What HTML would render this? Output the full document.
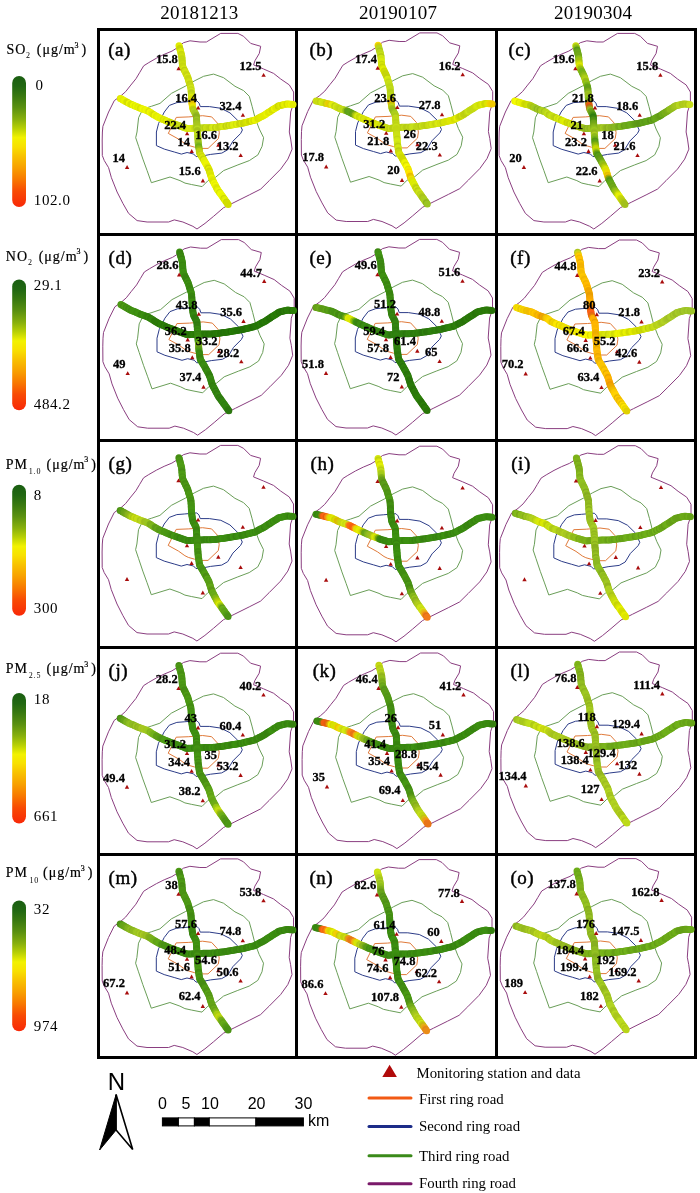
<!DOCTYPE html>
<html><head><meta charset="utf-8"><title>Figure</title><style>
html,body{margin:0;padding:0;background:#fff;overflow:hidden;width:700px;height:1193px;}
svg{display:block;}
text{font-family:"Liberation Serif","Times New Roman",serif;fill:#000;}
.lb{font-size:12.5px;font-weight:bold;text-anchor:end;stroke:#000;stroke-width:0.3px;}
.pl{font-size:19px;letter-spacing:0.5px;stroke:#000;stroke-width:0.45px;}
.dt{font-size:19px;letter-spacing:0.3px;}
.lg{font-size:15px;letter-spacing:0.6px;}
.tt{font-size:14px;letter-spacing:1px;stroke:#000;stroke-width:0.2px;}
.sb{font-size:8px;letter-spacing:0.8px;}
.sp{font-size:8px;}
.na{font-family:"Liberation Sans",Arial,sans-serif;font-size:24px;}
.sc{font-family:"Liberation Sans",Arial,sans-serif;font-size:16px;}
.le{font-size:14.8px;}
</style></head><body>
<svg width="700" height="1193" viewBox="0 0 700 1193">
<rect x="97" y="28" width="3" height="1031" fill="#000"/>
<rect x="295" y="28" width="3" height="1031" fill="#000"/>
<rect x="495" y="28" width="3" height="1031" fill="#000"/>
<rect x="694" y="28" width="3" height="1031" fill="#000"/>
<rect x="97" y="28" width="600" height="3" fill="#000"/>
<rect x="97" y="233" width="600" height="3" fill="#000"/>
<rect x="97" y="439" width="600" height="3" fill="#000"/>
<rect x="97" y="646" width="600" height="3" fill="#000"/>
<rect x="97" y="853" width="600" height="3" fill="#000"/>
<rect x="97" y="1056" width="600" height="3" fill="#000"/>
<g>
<polygon points="177.1,47.9 183.5,42.7 190.0,40.8 200.0,42.0 206.4,42.0 220.7,33.4 237.9,33.4 243.6,36.3 250.7,43.4 260.7,46.3 259.3,53.4 255.0,60.6 253.6,64.9 263.6,69.0 273.6,73.4 280.7,79.0 289.3,84.9 293.6,92.0 293.6,103.4 290.7,112.0 289.3,132.0 290.7,139.1 292.1,149.1 287.9,159.1 280.7,169.1 269.3,180.6 260.7,189.1 249.3,194.9 235.0,202.0 223.6,207.7 213.6,216.3 205.0,223.4 197.0,229.0 192.9,226.3 182.9,222.0 174.3,219.9 168.6,222.0 147.1,222.0 137.1,220.6 128.6,213.4 122.9,203.4 117.1,192.0 111.4,177.7 108.6,167.7 104.3,160.6 102.3,155.5 102.2,140.0 102.4,132.0 102.9,126.3 108.6,112.0 114.3,100.6 120.6,96.1 125.7,91.6 130.8,85.1 136.0,78.7 139.8,72.3 143.7,65.8 148.8,62.6 156.6,58.1 164.3,54.3 172.0,51.1" fill="none" stroke="#8a3e80" stroke-width="1"/>
<polygon points="213.6,74.1 223.6,77.7 235.0,86.3 243.6,90.6 249.3,96.3 252.1,106.3 255.0,117.7 259.3,129.0 263.6,137.7 262.1,146.3 257.9,154.9 249.3,160.6 237.9,164.9 223.6,170.6 215.8,177.1 208.1,180.6 202.1,186.6 191.4,184.5 185.0,183.1 180.0,180.6 170.0,177.0 151.4,182.7 147.1,170.6 142.9,159.1 138.6,146.3 135.7,137.7 137.0,132.0 138.6,117.7 142.9,109.0 151.4,106.3 160.0,103.4 171.4,93.4 185.7,86.0 195.0,80.6 203.6,76.3" fill="none" stroke="#6a9e58" stroke-width="1"/>
<polygon points="169.4,105.4 176.9,102.6 184.3,102.0 196.9,100.9 199.1,103.1 200.3,106.6 209.4,106.6 220.9,108.3 230.0,112.9 237.9,120.6 242.4,130.0 240.7,133.4 233.0,141.1 227.8,149.7 221.8,153.1 210.7,154.4 203.9,155.7 196.1,156.6 193.6,154.0 187.1,152.5 181.4,154.1 174.3,152.0 164.3,149.1 156.4,145.6 156.4,132.0 158.6,123.4 164.3,112.0" fill="none" stroke="#2c3c88" stroke-width="1"/>
<polygon points="176.3,117.4 188.9,116.9 202.6,115.7 211.7,116.9 217.4,123.1 219.3,132.6 218.4,138.6 208.1,148.4 201.3,148.4 194.4,147.1 188.4,145.4 185.0,143.7 178.6,139.1 168.3,133.4 172.9,124.3" fill="none" stroke="#e07a3a" stroke-width="1"/>
<circle cx="120.3" cy="98.4" r="3.5" fill="#dfe700"/>
<circle cx="121.6" cy="99.1" r="3.5" fill="#e8f100"/>
<circle cx="122.9" cy="99.9" r="3.5" fill="#e2eb00"/>
<circle cx="124.2" cy="100.6" r="3.5" fill="#e9f200"/>
<circle cx="125.5" cy="101.4" r="3.5" fill="#e9f300"/>
<circle cx="126.8" cy="102.1" r="3.5" fill="#d6e000"/>
<circle cx="128.1" cy="102.8" r="3.5" fill="#d4de00"/>
<circle cx="129.4" cy="103.6" r="3.5" fill="#eef800"/>
<circle cx="130.8" cy="104.2" r="3.5" fill="#dae500"/>
<circle cx="132.2" cy="104.8" r="3.5" fill="#d9e400"/>
<circle cx="133.6" cy="105.3" r="3.5" fill="#f1fc00"/>
<circle cx="134.9" cy="105.9" r="3.5" fill="#dfeb00"/>
<circle cx="136.3" cy="106.5" r="3.5" fill="#ecf700"/>
<circle cx="137.7" cy="107.1" r="3.5" fill="#e0ec00"/>
<circle cx="139.1" cy="107.7" r="3.5" fill="#e6f200"/>
<circle cx="140.5" cy="108.2" r="3.5" fill="#d8e100"/>
<circle cx="141.9" cy="108.7" r="3.5" fill="#e8f200"/>
<circle cx="143.3" cy="109.2" r="3.5" fill="#f0fa00"/>
<circle cx="144.7" cy="109.7" r="3.5" fill="#e6f000"/>
<circle cx="146.2" cy="110.2" r="3.5" fill="#eef700"/>
<circle cx="147.5" cy="110.7" r="3.5" fill="#edf500"/>
<circle cx="148.8" cy="111.5" r="3.5" fill="#d9e100"/>
<circle cx="150.1" cy="112.3" r="3.5" fill="#f0f900"/>
<circle cx="151.3" cy="113.1" r="3.5" fill="#eaf200"/>
<circle cx="152.6" cy="113.9" r="3.5" fill="#dfe700"/>
<circle cx="153.9" cy="114.7" r="3.5" fill="#d5dd00"/>
<circle cx="155.2" cy="115.5" r="3.5" fill="#eef800"/>
<circle cx="156.5" cy="116.2" r="3.5" fill="#e0ea00"/>
<circle cx="157.8" cy="117.0" r="3.5" fill="#e7f100"/>
<circle cx="159.1" cy="117.7" r="3.5" fill="#eaf500"/>
<circle cx="160.5" cy="118.3" r="3.5" fill="#e4ef00"/>
<circle cx="161.8" cy="118.9" r="3.5" fill="#e8f500"/>
<circle cx="163.2" cy="119.5" r="3.5" fill="#d7e200"/>
<circle cx="164.6" cy="120.1" r="3.5" fill="#e1ee00"/>
<circle cx="166.0" cy="120.7" r="3.5" fill="#d5e101"/>
<circle cx="167.3" cy="121.3" r="3.5" fill="#e3f102"/>
<circle cx="168.7" cy="121.8" r="3.5" fill="#dfee04"/>
<circle cx="170.1" cy="122.4" r="3.5" fill="#c7d405"/>
<circle cx="171.5" cy="122.9" r="3.5" fill="#c6d607"/>
<circle cx="173.0" cy="123.4" r="3.5" fill="#c8d708"/>
<circle cx="174.4" cy="123.9" r="3.5" fill="#dbee0b"/>
<circle cx="175.8" cy="124.4" r="3.5" fill="#cbdc0b"/>
<circle cx="177.2" cy="125.0" r="3.5" fill="#cfe20d"/>
<circle cx="178.6" cy="125.5" r="3.5" fill="#c4d70e"/>
<circle cx="180.0" cy="126.0" r="3.5" fill="#c8dc10"/>
<circle cx="181.4" cy="126.5" r="3.5" fill="#c6d910"/>
<circle cx="182.8" cy="127.0" r="3.5" fill="#c6d810"/>
<circle cx="184.2" cy="127.5" r="3.5" fill="#cde110"/>
<circle cx="185.6" cy="128.1" r="3.5" fill="#cee110"/>
<circle cx="187.0" cy="128.6" r="3.5" fill="#daec11"/>
<circle cx="188.5" cy="128.5" r="3.5" fill="#d4e510"/>
<circle cx="190.0" cy="128.4" r="3.5" fill="#dced11"/>
<circle cx="191.5" cy="128.4" r="3.5" fill="#d6e912"/>
<circle cx="193.0" cy="128.3" r="3.5" fill="#d7eb13"/>
<circle cx="194.5" cy="128.2" r="3.5" fill="#cae014"/>
<circle cx="196.0" cy="128.1" r="3.5" fill="#b9cf14"/>
<circle cx="197.5" cy="128.0" r="3.5" fill="#c8e217"/>
<circle cx="199.0" cy="128.0" r="3.5" fill="#c6e318"/>
<circle cx="200.5" cy="127.9" r="3.5" fill="#c3e019"/>
<circle cx="202.0" cy="127.9" r="3.5" fill="#bdd816"/>
<circle cx="203.5" cy="127.8" r="3.5" fill="#c4dd16"/>
<circle cx="205.0" cy="127.8" r="3.5" fill="#b8cf13"/>
<circle cx="206.5" cy="127.8" r="3.5" fill="#cbe314"/>
<circle cx="208.0" cy="127.7" r="3.5" fill="#c7dc12"/>
<circle cx="209.5" cy="127.7" r="3.5" fill="#c1d510"/>
<circle cx="211.0" cy="127.7" r="3.5" fill="#bccf0f"/>
<circle cx="212.5" cy="127.6" r="3.5" fill="#d3e711"/>
<circle cx="214.0" cy="127.5" r="3.5" fill="#d8ec11"/>
<circle cx="215.5" cy="127.4" r="3.5" fill="#bed00f"/>
<circle cx="217.0" cy="127.2" r="3.5" fill="#d4e611"/>
<circle cx="218.4" cy="127.0" r="3.5" fill="#c8db10"/>
<circle cx="219.9" cy="126.8" r="3.5" fill="#c2d30f"/>
<circle cx="221.4" cy="126.6" r="3.5" fill="#c7d810"/>
<circle cx="222.9" cy="126.4" r="3.5" fill="#d5e711"/>
<circle cx="224.4" cy="126.2" r="3.5" fill="#d9eb11"/>
<circle cx="225.9" cy="126.0" r="3.5" fill="#c1d10f"/>
<circle cx="227.4" cy="125.8" r="3.5" fill="#d2e310"/>
<circle cx="228.8" cy="125.5" r="3.5" fill="#c3d20f"/>
<circle cx="230.3" cy="125.3" r="3.5" fill="#d6e710"/>
<circle cx="231.8" cy="125.0" r="3.5" fill="#ccdb0f"/>
<circle cx="233.3" cy="124.8" r="3.5" fill="#dced0e"/>
<circle cx="234.8" cy="124.6" r="3.5" fill="#e0f00d"/>
<circle cx="236.2" cy="124.3" r="3.5" fill="#d2e10b"/>
<circle cx="237.7" cy="124.1" r="3.5" fill="#e2f20b"/>
<circle cx="239.2" cy="123.8" r="3.5" fill="#cedc09"/>
<circle cx="240.7" cy="123.6" r="3.5" fill="#c7d507"/>
<circle cx="242.1" cy="123.3" r="3.5" fill="#d8e506"/>
<circle cx="243.6" cy="122.9" r="3.5" fill="#c7d405"/>
<circle cx="245.0" cy="122.5" r="3.5" fill="#cdd904"/>
<circle cx="246.5" cy="122.2" r="3.5" fill="#d4e003"/>
<circle cx="248.0" cy="121.8" r="3.5" fill="#dae802"/>
<circle cx="249.4" cy="121.5" r="3.5" fill="#ced900"/>
<circle cx="250.9" cy="121.1" r="3.5" fill="#cad500"/>
<circle cx="252.3" cy="120.8" r="3.5" fill="#e4f100"/>
<circle cx="253.8" cy="120.4" r="3.5" fill="#d4df00"/>
<circle cx="255.2" cy="119.9" r="3.5" fill="#e9f400"/>
<circle cx="256.5" cy="119.2" r="3.5" fill="#e7f300"/>
<circle cx="257.8" cy="118.5" r="3.5" fill="#d8e200"/>
<circle cx="259.2" cy="117.8" r="3.5" fill="#dce500"/>
<circle cx="260.5" cy="117.1" r="3.5" fill="#dfe800"/>
<circle cx="261.8" cy="116.4" r="3.5" fill="#e2ec00"/>
<circle cx="263.2" cy="115.8" r="3.5" fill="#e2eb00"/>
<circle cx="264.5" cy="115.0" r="3.5" fill="#e2ea00"/>
<circle cx="265.7" cy="114.2" r="3.5" fill="#e4ec00"/>
<circle cx="267.0" cy="113.3" r="3.5" fill="#edf600"/>
<circle cx="268.2" cy="112.5" r="3.5" fill="#dfe800"/>
<circle cx="269.5" cy="111.7" r="3.5" fill="#dde500"/>
<circle cx="270.7" cy="110.9" r="3.5" fill="#e5ee00"/>
<circle cx="272.0" cy="110.1" r="3.5" fill="#d6df00"/>
<circle cx="273.3" cy="109.3" r="3.5" fill="#d8e100"/>
<circle cx="274.5" cy="108.5" r="3.5" fill="#ecf600"/>
<circle cx="275.8" cy="107.7" r="3.5" fill="#dee800"/>
<circle cx="277.1" cy="106.9" r="3.5" fill="#dee800"/>
<circle cx="278.3" cy="106.0" r="3.5" fill="#cdd600"/>
<circle cx="279.7" cy="105.6" r="3.5" fill="#d9e300"/>
<circle cx="281.2" cy="105.2" r="3.5" fill="#dfea00"/>
<circle cx="282.6" cy="104.9" r="3.5" fill="#cfd800"/>
<circle cx="284.1" cy="104.5" r="3.5" fill="#e4ed00"/>
<circle cx="285.6" cy="104.2" r="3.5" fill="#e5ee00"/>
<circle cx="287.0" cy="103.9" r="3.5" fill="#d4dd00"/>
<circle cx="288.5" cy="104.0" r="3.5" fill="#e8f100"/>
<circle cx="290.0" cy="104.2" r="3.5" fill="#e4ed00"/>
<circle cx="291.5" cy="104.3" r="3.5" fill="#edf500"/>
<circle cx="293.0" cy="104.4" r="3.5" fill="#e3eb00"/>
<circle cx="179.0" cy="45.7" r="3.5" fill="#deeb00"/>
<circle cx="179.4" cy="47.1" r="3.5" fill="#deeb01"/>
<circle cx="179.8" cy="48.6" r="3.5" fill="#c7d403"/>
<circle cx="180.2" cy="50.0" r="3.5" fill="#c6d405"/>
<circle cx="180.6" cy="51.4" r="3.5" fill="#d7e706"/>
<circle cx="181.0" cy="52.9" r="3.5" fill="#ddef09"/>
<circle cx="181.3" cy="54.3" r="3.5" fill="#c7d70a"/>
<circle cx="181.7" cy="55.8" r="3.5" fill="#ccdd0b"/>
<circle cx="181.9" cy="57.2" r="3.5" fill="#cee10d"/>
<circle cx="182.0" cy="58.7" r="3.5" fill="#c4d70f"/>
<circle cx="182.1" cy="60.2" r="3.5" fill="#c4d810"/>
<circle cx="182.2" cy="61.7" r="3.5" fill="#c4d610"/>
<circle cx="182.3" cy="63.2" r="3.5" fill="#c5d910"/>
<circle cx="182.5" cy="64.7" r="3.5" fill="#cde010"/>
<circle cx="182.6" cy="66.1" r="3.5" fill="#c4d710"/>
<circle cx="183.1" cy="67.5" r="3.5" fill="#c8da10"/>
<circle cx="183.8" cy="68.9" r="3.5" fill="#d4e611"/>
<circle cx="184.4" cy="70.2" r="3.5" fill="#becf0f"/>
<circle cx="185.1" cy="71.5" r="3.5" fill="#cfe010"/>
<circle cx="185.7" cy="72.9" r="3.5" fill="#d4e611"/>
<circle cx="186.4" cy="74.2" r="3.5" fill="#c9d910"/>
<circle cx="187.0" cy="75.5" r="3.5" fill="#c6d60f"/>
<circle cx="187.6" cy="76.9" r="3.5" fill="#d8e811"/>
<circle cx="188.1" cy="78.3" r="3.5" fill="#c7d80f"/>
<circle cx="188.5" cy="79.7" r="3.5" fill="#c7d60f"/>
<circle cx="188.9" cy="81.2" r="3.5" fill="#cddd11"/>
<circle cx="189.4" cy="82.6" r="3.5" fill="#d3e511"/>
<circle cx="189.8" cy="84.0" r="3.5" fill="#c1d211"/>
<circle cx="190.3" cy="85.4" r="3.5" fill="#c5d713"/>
<circle cx="190.7" cy="86.9" r="3.5" fill="#c4d714"/>
<circle cx="191.0" cy="88.3" r="3.5" fill="#d0e615"/>
<circle cx="191.1" cy="89.8" r="3.5" fill="#c4d915"/>
<circle cx="191.2" cy="91.3" r="3.5" fill="#cee517"/>
<circle cx="191.3" cy="92.8" r="3.5" fill="#b9cf16"/>
<circle cx="191.4" cy="94.2" r="3.5" fill="#bdd317"/>
<circle cx="191.4" cy="95.7" r="3.5" fill="#c9df14"/>
<circle cx="191.5" cy="97.2" r="3.5" fill="#d9eb0e"/>
<circle cx="191.6" cy="98.7" r="3.5" fill="#d7e206"/>
<circle cx="191.7" cy="100.2" r="3.5" fill="#d8dd00"/>
<circle cx="191.8" cy="101.7" r="3.5" fill="#dbcc00"/>
<circle cx="192.0" cy="103.1" r="3.5" fill="#eeca00"/>
<circle cx="192.2" cy="104.6" r="3.5" fill="#e2bc00"/>
<circle cx="192.4" cy="106.1" r="3.5" fill="#edda00"/>
<circle cx="192.6" cy="107.6" r="3.5" fill="#e5e700"/>
<circle cx="193.0" cy="109.0" r="3.5" fill="#c3d008"/>
<circle cx="193.6" cy="110.3" r="3.5" fill="#b6cb12"/>
<circle cx="194.3" cy="111.6" r="3.5" fill="#b3d31e"/>
<circle cx="195.0" cy="113.0" r="3.5" fill="#a7c921"/>
<circle cx="195.7" cy="114.3" r="3.5" fill="#a6ca21"/>
<circle cx="196.3" cy="115.6" r="3.5" fill="#96ba1f"/>
<circle cx="196.4" cy="117.1" r="3.5" fill="#8cb01e"/>
<circle cx="196.5" cy="118.6" r="3.5" fill="#8eb41f"/>
<circle cx="196.6" cy="120.1" r="3.5" fill="#9dc521"/>
<circle cx="196.7" cy="121.6" r="3.5" fill="#97ba1f"/>
<circle cx="196.8" cy="123.1" r="3.5" fill="#9ec01f"/>
<circle cx="196.9" cy="124.6" r="3.5" fill="#a4c520"/>
<circle cx="197.0" cy="126.0" r="3.5" fill="#a8c71f"/>
<circle cx="197.1" cy="127.5" r="3.5" fill="#aac81e"/>
<circle cx="197.2" cy="129.0" r="3.5" fill="#b8d91f"/>
<circle cx="197.3" cy="130.5" r="3.5" fill="#a8c51b"/>
<circle cx="197.4" cy="132.0" r="3.5" fill="#a7c218"/>
<circle cx="197.5" cy="133.5" r="3.5" fill="#c1df1b"/>
<circle cx="197.6" cy="134.9" r="3.5" fill="#c2df19"/>
<circle cx="197.8" cy="136.4" r="3.5" fill="#c0df1b"/>
<circle cx="197.9" cy="137.9" r="3.5" fill="#adcc1b"/>
<circle cx="198.0" cy="139.4" r="3.5" fill="#b6d81e"/>
<circle cx="198.1" cy="140.9" r="3.5" fill="#b0d420"/>
<circle cx="198.2" cy="142.4" r="3.5" fill="#9cbd1e"/>
<circle cx="198.3" cy="143.9" r="3.5" fill="#9ac51f"/>
<circle cx="198.5" cy="145.3" r="3.5" fill="#87bc1c"/>
<circle cx="198.8" cy="146.8" r="3.5" fill="#6fad19"/>
<circle cx="199.0" cy="148.3" r="3.5" fill="#82b516"/>
<circle cx="199.2" cy="149.8" r="3.5" fill="#99bf13"/>
<circle cx="199.4" cy="151.2" r="3.5" fill="#b5cf11"/>
<circle cx="199.6" cy="152.7" r="3.5" fill="#c1d50e"/>
<circle cx="200.2" cy="154.0" r="3.5" fill="#c0d10d"/>
<circle cx="201.0" cy="155.3" r="3.5" fill="#d1e20c"/>
<circle cx="201.8" cy="156.6" r="3.5" fill="#cad90a"/>
<circle cx="202.6" cy="157.8" r="3.5" fill="#dceb09"/>
<circle cx="203.3" cy="159.1" r="3.5" fill="#c7d507"/>
<circle cx="204.1" cy="160.4" r="3.5" fill="#e3f106"/>
<circle cx="204.8" cy="161.7" r="3.5" fill="#e0eb04"/>
<circle cx="205.5" cy="163.0" r="3.5" fill="#e9f402"/>
<circle cx="206.2" cy="164.3" r="3.5" fill="#ebf401"/>
<circle cx="206.9" cy="165.6" r="3.5" fill="#edf500"/>
<circle cx="207.6" cy="166.9" r="3.5" fill="#e0e900"/>
<circle cx="208.3" cy="168.2" r="3.5" fill="#ced700"/>
<circle cx="209.0" cy="169.6" r="3.5" fill="#e4ee00"/>
<circle cx="209.4" cy="171.0" r="3.5" fill="#d1db00"/>
<circle cx="209.9" cy="172.4" r="3.5" fill="#d4df00"/>
<circle cx="210.3" cy="173.8" r="3.5" fill="#dee900"/>
<circle cx="210.7" cy="175.3" r="3.5" fill="#d9e500"/>
<circle cx="211.2" cy="176.7" r="3.5" fill="#d8e300"/>
<circle cx="211.6" cy="178.1" r="3.5" fill="#ebf600"/>
<circle cx="212.2" cy="179.5" r="3.5" fill="#e3ed00"/>
<circle cx="212.9" cy="180.8" r="3.5" fill="#dce600"/>
<circle cx="213.6" cy="182.1" r="3.5" fill="#dbe500"/>
<circle cx="214.3" cy="183.4" r="3.5" fill="#f1fa00"/>
<circle cx="215.0" cy="184.7" r="3.5" fill="#e7ef00"/>
<circle cx="215.7" cy="186.0" r="3.5" fill="#f0f900"/>
<circle cx="216.4" cy="187.4" r="3.5" fill="#e1ea00"/>
<circle cx="217.1" cy="188.7" r="3.5" fill="#dbe500"/>
<circle cx="217.8" cy="190.0" r="3.5" fill="#e5ef00"/>
<circle cx="218.7" cy="191.2" r="3.5" fill="#edf900"/>
<circle cx="219.6" cy="192.4" r="3.5" fill="#d8e200"/>
<circle cx="220.4" cy="193.6" r="3.5" fill="#eaf700"/>
<circle cx="221.3" cy="194.8" r="3.5" fill="#edfa00"/>
<circle cx="222.2" cy="196.0" r="3.5" fill="#e9f500"/>
<circle cx="223.0" cy="197.2" r="3.5" fill="#e8f500"/>
<circle cx="223.9" cy="198.4" r="3.5" fill="#ced900"/>
<circle cx="224.7" cy="199.6" r="3.5" fill="#e0ec00"/>
<circle cx="225.6" cy="200.9" r="3.5" fill="#e6f300"/>
<circle cx="226.5" cy="202.1" r="3.5" fill="#ccd800"/>
<circle cx="227.3" cy="203.3" r="3.5" fill="#d2de00"/>
<circle cx="228.2" cy="204.5" r="3.5" fill="#d1dd00"/>
<polygon points="176.4,70.3 178.6,66.4 180.8,70.3" fill="#a80c0c"/>
<polygon points="261.4,76.8 263.6,72.9 265.8,76.8" fill="#a80c0c"/>
<polygon points="196.0,109.6 198.2,105.7 200.4,109.6" fill="#a80c0c"/>
<polygon points="240.7,116.8 242.9,112.9 245.1,116.8" fill="#a80c0c"/>
<polygon points="184.9,135.3 187.1,131.4 189.3,135.3" fill="#a80c0c"/>
<polygon points="189.5,153.0 191.7,149.1 193.9,153.0" fill="#a80c0c"/>
<polygon points="216.2,146.7 218.4,142.8 220.6,146.7" fill="#a80c0c"/>
<polygon points="238.5,157.1 240.7,153.2 242.9,157.1" fill="#a80c0c"/>
<polygon points="124.9,168.9 127.1,165.0 129.3,168.9" fill="#a80c0c"/>
<polygon points="200.7,182.5 202.9,178.6 205.1,182.5" fill="#a80c0c"/>
<text x="177.8" y="63.1" class="lb">15.8</text>
<text x="261.4" y="70.3" class="lb">12.5</text>
<text x="197.0" y="102.3" class="lb">16.4</text>
<text x="241.4" y="109.7" class="lb">32.4</text>
<text x="186.1" y="128.6" class="lb">22.4</text>
<text x="217.0" y="138.8" class="lb">16.6</text>
<text x="190.1" y="145.7" class="lb">14</text>
<text x="238.6" y="150.3" class="lb">13.2</text>
<text x="125.0" y="161.7" class="lb">14</text>
<text x="200.7" y="174.7" class="lb">15.6</text>
</g>
<g>
<polygon points="376.2,47.4 382.6,42.2 389.1,40.3 399.1,41.5 405.5,41.5 419.8,32.9 437.0,32.9 442.7,35.8 449.8,42.9 459.8,45.8 458.4,52.9 454.1,60.1 452.7,64.4 462.7,68.5 472.7,72.9 479.8,78.5 488.4,84.4 492.7,91.5 492.7,102.9 489.8,111.5 488.4,131.5 489.8,138.6 491.2,148.6 487.0,158.6 479.8,168.6 468.4,180.1 459.8,188.6 448.4,194.4 434.1,201.5 422.7,207.2 412.7,215.8 404.1,222.9 396.1,228.5 392.0,225.8 382.0,221.5 373.4,219.4 367.7,221.5 346.2,221.5 336.2,220.1 327.7,212.9 322.0,202.9 316.2,191.5 310.5,177.2 307.7,167.2 303.4,160.1 301.4,155.0 301.3,139.5 301.5,131.5 302.0,125.8 307.7,111.5 313.4,100.1 319.7,95.6 324.8,91.1 329.9,84.6 335.1,78.2 338.9,71.8 342.8,65.3 347.9,62.1 355.7,57.6 363.4,53.8 371.1,50.6" fill="none" stroke="#8a3e80" stroke-width="1"/>
<polygon points="412.7,73.6 422.7,77.2 434.1,85.8 442.7,90.1 448.4,95.8 451.2,105.8 454.1,117.2 458.4,128.5 462.7,137.2 461.2,145.8 457.0,154.4 448.4,160.1 437.0,164.4 422.7,170.1 414.9,176.6 407.2,180.1 401.2,186.1 390.5,184.0 384.1,182.6 379.1,180.1 369.1,176.5 350.5,182.2 346.2,170.1 342.0,158.6 337.7,145.8 334.8,137.2 336.1,131.5 337.7,117.2 342.0,108.5 350.5,105.8 359.1,102.9 370.5,92.9 384.8,85.5 394.1,80.1 402.7,75.8" fill="none" stroke="#6a9e58" stroke-width="1"/>
<polygon points="368.5,104.9 376.0,102.1 383.4,101.5 396.0,100.4 398.2,102.6 399.4,106.1 408.5,106.1 420.0,107.8 429.1,112.4 437.0,120.1 441.5,129.5 439.8,132.9 432.1,140.6 426.9,149.2 420.9,152.6 409.8,153.9 403.0,155.2 395.2,156.1 392.7,153.5 386.2,152.0 380.5,153.6 373.4,151.5 363.4,148.6 355.5,145.1 355.5,131.5 357.7,122.9 363.4,111.5" fill="none" stroke="#2c3c88" stroke-width="1"/>
<polygon points="375.4,116.9 388.0,116.4 401.7,115.2 410.8,116.4 416.5,122.6 418.4,132.1 417.5,138.1 407.2,147.9 400.4,147.9 393.5,146.6 387.5,144.9 384.1,143.2 377.7,138.6 367.4,132.9 372.0,123.8" fill="none" stroke="#e07a3a" stroke-width="1"/>
<circle cx="316.1" cy="100.9" r="3.5" fill="#cade10"/>
<circle cx="317.5" cy="101.2" r="3.5" fill="#c6da10"/>
<circle cx="319.0" cy="101.6" r="3.5" fill="#cade10"/>
<circle cx="320.4" cy="101.9" r="3.5" fill="#c0d30f"/>
<circle cx="321.9" cy="102.3" r="3.5" fill="#d1e611"/>
<circle cx="323.3" cy="102.6" r="3.5" fill="#d1e611"/>
<circle cx="324.8" cy="103.0" r="3.5" fill="#cce110"/>
<circle cx="326.2" cy="103.4" r="3.5" fill="#c9cf0a"/>
<circle cx="327.7" cy="103.7" r="3.5" fill="#e3d506"/>
<circle cx="329.1" cy="104.1" r="3.5" fill="#eacb00"/>
<circle cx="330.6" cy="104.4" r="3.5" fill="#dccf06"/>
<circle cx="332.0" cy="104.8" r="3.5" fill="#e7ea0d"/>
<circle cx="333.4" cy="105.4" r="3.5" fill="#def011"/>
<circle cx="334.7" cy="106.1" r="3.5" fill="#c1d110"/>
<circle cx="336.1" cy="106.8" r="3.5" fill="#d6e913"/>
<circle cx="337.4" cy="107.4" r="3.5" fill="#cde013"/>
<circle cx="338.7" cy="108.1" r="3.5" fill="#c5d814"/>
<circle cx="340.1" cy="108.7" r="3.5" fill="#c0d414"/>
<circle cx="341.5" cy="109.2" r="3.5" fill="#c9df17"/>
<circle cx="342.9" cy="109.6" r="3.5" fill="#c1d817"/>
<circle cx="344.3" cy="110.1" r="3.5" fill="#bfdb19"/>
<circle cx="345.7" cy="110.6" r="3.5" fill="#99c319"/>
<circle cx="347.2" cy="111.1" r="3.5" fill="#6ca017"/>
<circle cx="348.5" cy="111.7" r="3.5" fill="#5da019"/>
<circle cx="349.8" cy="112.3" r="3.5" fill="#60a41a"/>
<circle cx="351.2" cy="113.0" r="3.5" fill="#60a41a"/>
<circle cx="352.5" cy="113.7" r="3.5" fill="#5b9c18"/>
<circle cx="353.8" cy="114.3" r="3.5" fill="#6e9f15"/>
<circle cx="355.2" cy="115.0" r="3.5" fill="#9aba11"/>
<circle cx="356.5" cy="115.7" r="3.5" fill="#bfd10e"/>
<circle cx="357.8" cy="116.3" r="3.5" fill="#d8ec0f"/>
<circle cx="359.2" cy="117.0" r="3.5" fill="#c8d90c"/>
<circle cx="360.5" cy="117.7" r="3.5" fill="#ccdc0b"/>
<circle cx="361.9" cy="118.2" r="3.5" fill="#dfee0a"/>
<circle cx="363.2" cy="118.8" r="3.5" fill="#cfdd07"/>
<circle cx="364.6" cy="119.4" r="3.5" fill="#d9e606"/>
<circle cx="366.0" cy="120.0" r="3.5" fill="#d8e304"/>
<circle cx="367.3" cy="120.6" r="3.5" fill="#d0d802"/>
<circle cx="368.7" cy="121.2" r="3.5" fill="#e2eb00"/>
<circle cx="370.1" cy="121.8" r="3.5" fill="#eaf201"/>
<circle cx="371.5" cy="122.4" r="3.5" fill="#d2db02"/>
<circle cx="372.9" cy="122.9" r="3.5" fill="#d3dc04"/>
<circle cx="374.3" cy="123.4" r="3.5" fill="#d6e105"/>
<circle cx="375.6" cy="124.0" r="3.5" fill="#c9d406"/>
<circle cx="377.0" cy="124.5" r="3.5" fill="#d5e207"/>
<circle cx="378.4" cy="125.0" r="3.5" fill="#dceb09"/>
<circle cx="379.8" cy="125.6" r="3.5" fill="#d6e50a"/>
<circle cx="381.2" cy="126.1" r="3.5" fill="#d0e00b"/>
<circle cx="382.6" cy="126.6" r="3.5" fill="#d7e90e"/>
<circle cx="384.1" cy="127.0" r="3.5" fill="#c1d20d"/>
<circle cx="385.5" cy="127.5" r="3.5" fill="#cbde0f"/>
<circle cx="386.9" cy="128.0" r="3.5" fill="#c4d810"/>
<circle cx="388.3" cy="128.5" r="3.5" fill="#cade11"/>
<circle cx="389.8" cy="128.5" r="3.5" fill="#bbcf11"/>
<circle cx="391.2" cy="128.3" r="3.5" fill="#cde214"/>
<circle cx="392.7" cy="128.1" r="3.5" fill="#b9ce13"/>
<circle cx="394.2" cy="128.0" r="3.5" fill="#bad014"/>
<circle cx="395.7" cy="127.8" r="3.5" fill="#cae217"/>
<circle cx="397.2" cy="127.6" r="3.5" fill="#cde718"/>
<circle cx="398.6" cy="127.5" r="3.5" fill="#bed618"/>
<circle cx="400.1" cy="127.4" r="3.5" fill="#bed518"/>
<circle cx="401.6" cy="127.3" r="3.5" fill="#b9d017"/>
<circle cx="403.1" cy="127.3" r="3.5" fill="#bad117"/>
<circle cx="404.6" cy="127.3" r="3.5" fill="#c3dc18"/>
<circle cx="406.1" cy="127.2" r="3.5" fill="#b7ce17"/>
<circle cx="407.6" cy="127.2" r="3.5" fill="#b6cc17"/>
<circle cx="409.1" cy="127.2" r="3.5" fill="#bfd718"/>
<circle cx="410.6" cy="127.1" r="3.5" fill="#b7ce17"/>
<circle cx="412.1" cy="127.1" r="3.5" fill="#c4dc18"/>
<circle cx="413.5" cy="127.0" r="3.5" fill="#c9e219"/>
<circle cx="415.0" cy="126.8" r="3.5" fill="#c7e019"/>
<circle cx="416.5" cy="126.6" r="3.5" fill="#bfd718"/>
<circle cx="418.0" cy="126.4" r="3.5" fill="#bdd417"/>
<circle cx="419.4" cy="126.2" r="3.5" fill="#c0d717"/>
<circle cx="420.9" cy="126.0" r="3.5" fill="#b5cb14"/>
<circle cx="422.4" cy="125.8" r="3.5" fill="#cae017"/>
<circle cx="423.9" cy="125.6" r="3.5" fill="#c0d615"/>
<circle cx="425.4" cy="125.4" r="3.5" fill="#c1d514"/>
<circle cx="426.8" cy="125.2" r="3.5" fill="#bbcf13"/>
<circle cx="428.3" cy="125.0" r="3.5" fill="#c7da14"/>
<circle cx="429.8" cy="124.7" r="3.5" fill="#cce013"/>
<circle cx="431.3" cy="124.5" r="3.5" fill="#c8da13"/>
<circle cx="432.7" cy="124.2" r="3.5" fill="#d7e913"/>
<circle cx="434.2" cy="124.0" r="3.5" fill="#d2e312"/>
<circle cx="435.7" cy="123.8" r="3.5" fill="#c7d710"/>
<circle cx="437.1" cy="123.5" r="3.5" fill="#d0e011"/>
<circle cx="438.6" cy="123.3" r="3.5" fill="#dced11"/>
<circle cx="440.1" cy="123.0" r="3.5" fill="#d2e20f"/>
<circle cx="441.5" cy="122.7" r="3.5" fill="#d6e40d"/>
<circle cx="443.0" cy="122.3" r="3.5" fill="#c7d40b"/>
<circle cx="444.4" cy="122.0" r="3.5" fill="#d6e30a"/>
<circle cx="445.9" cy="121.6" r="3.5" fill="#d6e309"/>
<circle cx="447.3" cy="121.3" r="3.5" fill="#d6e107"/>
<circle cx="448.8" cy="120.9" r="3.5" fill="#d8e206"/>
<circle cx="450.2" cy="120.6" r="3.5" fill="#dfe904"/>
<circle cx="451.7" cy="120.2" r="3.5" fill="#dee803"/>
<circle cx="453.1" cy="119.9" r="3.5" fill="#dfe701"/>
<circle cx="454.5" cy="119.3" r="3.5" fill="#d5dd01"/>
<circle cx="455.8" cy="118.6" r="3.5" fill="#dae403"/>
<circle cx="457.1" cy="117.9" r="3.5" fill="#e8f405"/>
<circle cx="458.5" cy="117.2" r="3.5" fill="#d4e007"/>
<circle cx="459.8" cy="116.5" r="3.5" fill="#c6d308"/>
<circle cx="461.1" cy="115.9" r="3.5" fill="#c2d10a"/>
<circle cx="462.4" cy="115.2" r="3.5" fill="#cfe00d"/>
<circle cx="463.7" cy="114.4" r="3.5" fill="#bfd00e"/>
<circle cx="464.9" cy="113.6" r="3.5" fill="#becf10"/>
<circle cx="466.2" cy="112.8" r="3.5" fill="#bbcf12"/>
<circle cx="467.4" cy="111.9" r="3.5" fill="#c3d915"/>
<circle cx="468.7" cy="111.1" r="3.5" fill="#cee719"/>
<circle cx="469.9" cy="110.3" r="3.5" fill="#c1d917"/>
<circle cx="471.2" cy="109.5" r="3.5" fill="#c2d815"/>
<circle cx="472.5" cy="108.7" r="3.5" fill="#c2d814"/>
<circle cx="473.7" cy="107.9" r="3.5" fill="#c6db12"/>
<circle cx="475.0" cy="107.1" r="3.5" fill="#c7da10"/>
<circle cx="476.2" cy="106.3" r="3.5" fill="#d0e40e"/>
<circle cx="477.5" cy="105.5" r="3.5" fill="#d6ea0e"/>
<circle cx="478.9" cy="105.0" r="3.5" fill="#d3e50b"/>
<circle cx="480.3" cy="104.7" r="3.5" fill="#cddd09"/>
<circle cx="481.8" cy="104.4" r="3.5" fill="#d5e507"/>
<circle cx="483.2" cy="104.0" r="3.5" fill="#dfee05"/>
<circle cx="484.7" cy="103.7" r="3.5" fill="#cbd703"/>
<circle cx="486.2" cy="103.4" r="3.5" fill="#cfdb01"/>
<circle cx="487.6" cy="103.5" r="3.5" fill="#dfe500"/>
<circle cx="489.1" cy="103.7" r="3.5" fill="#e8df00"/>
<circle cx="490.6" cy="103.8" r="3.5" fill="#eed400"/>
<circle cx="492.1" cy="103.9" r="3.5" fill="#f3ca00"/>
<circle cx="378.1" cy="45.2" r="3.5" fill="#fbda00"/>
<circle cx="378.5" cy="46.6" r="3.5" fill="#d4cc0c"/>
<circle cx="378.9" cy="48.1" r="3.5" fill="#bad21c"/>
<circle cx="379.3" cy="49.5" r="3.5" fill="#b6d721"/>
<circle cx="379.7" cy="50.9" r="3.5" fill="#adca1c"/>
<circle cx="380.1" cy="52.4" r="3.5" fill="#bcd91b"/>
<circle cx="380.4" cy="53.8" r="3.5" fill="#bdd819"/>
<circle cx="380.8" cy="55.3" r="3.5" fill="#c6e017"/>
<circle cx="381.0" cy="56.7" r="3.5" fill="#b4c913"/>
<circle cx="381.1" cy="58.2" r="3.5" fill="#cfe713"/>
<circle cx="381.2" cy="59.7" r="3.5" fill="#cfe411"/>
<circle cx="381.3" cy="61.2" r="3.5" fill="#d8eb0e"/>
<circle cx="381.4" cy="62.7" r="3.5" fill="#dbee0c"/>
<circle cx="381.6" cy="64.2" r="3.5" fill="#c9d909"/>
<circle cx="381.7" cy="65.6" r="3.5" fill="#d7e606"/>
<circle cx="382.2" cy="67.0" r="3.5" fill="#c9d704"/>
<circle cx="382.9" cy="68.4" r="3.5" fill="#d9e602"/>
<circle cx="383.5" cy="69.7" r="3.5" fill="#e5f100"/>
<circle cx="384.2" cy="71.0" r="3.5" fill="#cdd902"/>
<circle cx="384.8" cy="72.4" r="3.5" fill="#cfdd05"/>
<circle cx="385.5" cy="73.7" r="3.5" fill="#c5d407"/>
<circle cx="386.1" cy="75.0" r="3.5" fill="#c6d609"/>
<circle cx="386.7" cy="76.4" r="3.5" fill="#c5d50b"/>
<circle cx="387.2" cy="77.8" r="3.5" fill="#c0d10c"/>
<circle cx="387.6" cy="79.2" r="3.5" fill="#d6eb11"/>
<circle cx="388.0" cy="80.7" r="3.5" fill="#d1e713"/>
<circle cx="388.5" cy="82.1" r="3.5" fill="#c3d914"/>
<circle cx="388.9" cy="83.5" r="3.5" fill="#c9e017"/>
<circle cx="389.4" cy="84.9" r="3.5" fill="#c5de19"/>
<circle cx="389.8" cy="86.4" r="3.5" fill="#c0d918"/>
<circle cx="390.1" cy="87.8" r="3.5" fill="#bcd518"/>
<circle cx="390.2" cy="89.3" r="3.5" fill="#c1dc19"/>
<circle cx="390.3" cy="90.8" r="3.5" fill="#bed818"/>
<circle cx="390.4" cy="92.3" r="3.5" fill="#b6cf17"/>
<circle cx="390.5" cy="93.7" r="3.5" fill="#b7d218"/>
<circle cx="390.5" cy="95.2" r="3.5" fill="#bdd918"/>
<circle cx="390.6" cy="96.7" r="3.5" fill="#bcd918"/>
<circle cx="390.7" cy="98.2" r="3.5" fill="#b1cb17"/>
<circle cx="390.8" cy="99.7" r="3.5" fill="#bed517"/>
<circle cx="390.9" cy="101.2" r="3.5" fill="#dacf0f"/>
<circle cx="391.1" cy="102.6" r="3.5" fill="#f0c205"/>
<circle cx="391.3" cy="104.1" r="3.5" fill="#edbd03"/>
<circle cx="391.5" cy="105.6" r="3.5" fill="#c7c30a"/>
<circle cx="391.7" cy="107.1" r="3.5" fill="#c0d712"/>
<circle cx="392.1" cy="108.5" r="3.5" fill="#abc515"/>
<circle cx="392.7" cy="109.8" r="3.5" fill="#9ebc19"/>
<circle cx="393.4" cy="111.1" r="3.5" fill="#96bb1e"/>
<circle cx="394.1" cy="112.5" r="3.5" fill="#9cc21f"/>
<circle cx="394.8" cy="113.8" r="3.5" fill="#a9ce1f"/>
<circle cx="395.4" cy="115.1" r="3.5" fill="#adcf1d"/>
<circle cx="395.5" cy="116.6" r="3.5" fill="#adc91a"/>
<circle cx="395.6" cy="118.1" r="3.5" fill="#beda1a"/>
<circle cx="395.7" cy="119.6" r="3.5" fill="#c0d818"/>
<circle cx="395.8" cy="121.1" r="3.5" fill="#c0d818"/>
<circle cx="395.9" cy="122.6" r="3.5" fill="#bbd116"/>
<circle cx="396.0" cy="124.1" r="3.5" fill="#bfd717"/>
<circle cx="396.1" cy="125.5" r="3.5" fill="#bed416"/>
<circle cx="396.2" cy="127.0" r="3.5" fill="#c8e017"/>
<circle cx="396.3" cy="128.5" r="3.5" fill="#c2d816"/>
<circle cx="396.4" cy="130.0" r="3.5" fill="#c2d715"/>
<circle cx="396.5" cy="131.5" r="3.5" fill="#c2d915"/>
<circle cx="396.6" cy="133.0" r="3.5" fill="#c3d914"/>
<circle cx="396.7" cy="134.4" r="3.5" fill="#c9e015"/>
<circle cx="396.9" cy="135.9" r="3.5" fill="#cae115"/>
<circle cx="397.0" cy="137.4" r="3.5" fill="#cde314"/>
<circle cx="397.1" cy="138.9" r="3.5" fill="#c2d813"/>
<circle cx="397.2" cy="140.4" r="3.5" fill="#cee413"/>
<circle cx="397.3" cy="141.9" r="3.5" fill="#d3e913"/>
<circle cx="397.4" cy="143.4" r="3.5" fill="#d4ea13"/>
<circle cx="397.6" cy="144.8" r="3.5" fill="#cde212"/>
<circle cx="397.9" cy="146.3" r="3.5" fill="#bbcf10"/>
<circle cx="398.1" cy="147.8" r="3.5" fill="#d2e711"/>
<circle cx="398.3" cy="149.3" r="3.5" fill="#d1e611"/>
<circle cx="398.5" cy="150.7" r="3.5" fill="#bcce0d"/>
<circle cx="398.7" cy="152.2" r="3.5" fill="#c7d90c"/>
<circle cx="399.3" cy="153.5" r="3.5" fill="#c9d90a"/>
<circle cx="400.1" cy="154.8" r="3.5" fill="#d7e808"/>
<circle cx="400.9" cy="156.1" r="3.5" fill="#d5e406"/>
<circle cx="401.7" cy="157.3" r="3.5" fill="#cfdb03"/>
<circle cx="402.4" cy="158.6" r="3.5" fill="#ced901"/>
<circle cx="403.2" cy="159.9" r="3.5" fill="#cfd900"/>
<circle cx="403.9" cy="161.2" r="3.5" fill="#d0d900"/>
<circle cx="404.6" cy="162.5" r="3.5" fill="#e8f100"/>
<circle cx="405.3" cy="163.8" r="3.5" fill="#f0f700"/>
<circle cx="406.0" cy="165.1" r="3.5" fill="#dce200"/>
<circle cx="406.7" cy="166.4" r="3.5" fill="#f1f400"/>
<circle cx="407.4" cy="167.7" r="3.5" fill="#fbfd00"/>
<circle cx="408.1" cy="169.1" r="3.5" fill="#e5e500"/>
<circle cx="408.5" cy="170.5" r="3.5" fill="#f3ec00"/>
<circle cx="409.0" cy="171.9" r="3.5" fill="#f1e000"/>
<circle cx="409.4" cy="173.3" r="3.5" fill="#ffe800"/>
<circle cx="409.8" cy="174.8" r="3.5" fill="#ffdd00"/>
<circle cx="410.3" cy="176.2" r="3.5" fill="#e7bc00"/>
<circle cx="410.7" cy="177.6" r="3.5" fill="#e7c500"/>
<circle cx="411.3" cy="179.0" r="3.5" fill="#f3e000"/>
<circle cx="412.0" cy="180.3" r="3.5" fill="#e2df00"/>
<circle cx="412.7" cy="181.6" r="3.5" fill="#d9e500"/>
<circle cx="413.4" cy="182.9" r="3.5" fill="#deed03"/>
<circle cx="414.1" cy="184.2" r="3.5" fill="#dbe905"/>
<circle cx="414.8" cy="185.5" r="3.5" fill="#deee07"/>
<circle cx="415.5" cy="186.9" r="3.5" fill="#c9da0a"/>
<circle cx="416.2" cy="188.2" r="3.5" fill="#bfd00b"/>
<circle cx="416.9" cy="189.5" r="3.5" fill="#cee30f"/>
<circle cx="417.8" cy="190.7" r="3.5" fill="#bace10"/>
<circle cx="418.7" cy="191.9" r="3.5" fill="#c7dc13"/>
<circle cx="419.5" cy="193.1" r="3.5" fill="#cde416"/>
<circle cx="420.4" cy="194.3" r="3.5" fill="#bdd518"/>
<circle cx="421.3" cy="195.5" r="3.5" fill="#bed819"/>
<circle cx="422.1" cy="196.7" r="3.5" fill="#adc719"/>
<circle cx="423.0" cy="197.9" r="3.5" fill="#a8c31a"/>
<circle cx="423.8" cy="199.1" r="3.5" fill="#adcc1c"/>
<circle cx="424.7" cy="200.4" r="3.5" fill="#accf1e"/>
<circle cx="425.6" cy="201.6" r="3.5" fill="#a9cf20"/>
<circle cx="426.4" cy="202.8" r="3.5" fill="#8eb11d"/>
<circle cx="427.3" cy="204.0" r="3.5" fill="#9bc522"/>
<polygon points="375.5,69.8 377.7,65.9 379.9,69.8" fill="#a80c0c"/>
<polygon points="460.5,76.3 462.7,72.4 464.9,76.3" fill="#a80c0c"/>
<polygon points="395.1,109.1 397.3,105.2 399.5,109.1" fill="#a80c0c"/>
<polygon points="439.8,116.3 442.0,112.4 444.2,116.3" fill="#a80c0c"/>
<polygon points="384.0,134.8 386.2,130.9 388.4,134.8" fill="#a80c0c"/>
<polygon points="388.6,152.5 390.8,148.6 393.0,152.5" fill="#a80c0c"/>
<polygon points="415.3,146.2 417.5,142.3 419.7,146.2" fill="#a80c0c"/>
<polygon points="437.6,156.6 439.8,152.7 442.0,156.6" fill="#a80c0c"/>
<polygon points="324.0,168.4 326.2,164.5 328.4,168.4" fill="#a80c0c"/>
<polygon points="399.8,182.0 402.0,178.1 404.2,182.0" fill="#a80c0c"/>
<text x="376.9" y="62.6" class="lb">17.4</text>
<text x="460.5" y="69.8" class="lb">16.2</text>
<text x="396.1" y="101.8" class="lb">23.6</text>
<text x="440.5" y="109.2" class="lb">27.8</text>
<text x="385.2" y="128.1" class="lb">31.2</text>
<text x="416.1" y="138.3" class="lb">26</text>
<text x="389.2" y="145.2" class="lb">21.8</text>
<text x="437.7" y="149.8" class="lb">22.3</text>
<text x="324.1" y="161.2" class="lb">17.8</text>
<text x="399.8" y="174.2" class="lb">20</text>
</g>
<g>
<polygon points="573.9,47.9 580.3,42.7 586.8,40.8 596.8,42.0 603.2,42.0 617.5,33.4 634.7,33.4 640.4,36.3 647.5,43.4 657.5,46.3 656.1,53.4 651.8,60.6 650.4,64.9 660.4,69.0 670.4,73.4 677.5,79.0 686.1,84.9 690.4,92.0 690.4,103.4 687.5,112.0 686.1,132.0 687.5,139.1 688.9,149.1 684.7,159.1 677.5,169.1 666.1,180.6 657.5,189.1 646.1,194.9 631.8,202.0 620.4,207.7 610.4,216.3 601.8,223.4 593.8,229.0 589.7,226.3 579.7,222.0 571.1,219.9 565.4,222.0 543.9,222.0 533.9,220.6 525.4,213.4 519.7,203.4 513.9,192.0 508.2,177.7 505.4,167.7 501.1,160.6 499.1,155.5 499.0,140.0 499.2,132.0 499.7,126.3 505.4,112.0 511.1,100.6 517.4,96.1 522.5,91.6 527.6,85.1 532.8,78.7 536.6,72.3 540.5,65.8 545.6,62.6 553.4,58.1 561.1,54.3 568.8,51.1" fill="none" stroke="#8a3e80" stroke-width="1"/>
<polygon points="610.4,74.1 620.4,77.7 631.8,86.3 640.4,90.6 646.1,96.3 648.9,106.3 651.8,117.7 656.1,129.0 660.4,137.7 658.9,146.3 654.7,154.9 646.1,160.6 634.7,164.9 620.4,170.6 612.6,177.1 604.9,180.6 598.9,186.6 588.2,184.5 581.8,183.1 576.8,180.6 566.8,177.0 548.2,182.7 543.9,170.6 539.7,159.1 535.4,146.3 532.5,137.7 533.8,132.0 535.4,117.7 539.7,109.0 548.2,106.3 556.8,103.4 568.2,93.4 582.5,86.0 591.8,80.6 600.4,76.3" fill="none" stroke="#6a9e58" stroke-width="1"/>
<polygon points="566.2,105.4 573.7,102.6 581.1,102.0 593.7,100.9 595.9,103.1 597.1,106.6 606.2,106.6 617.7,108.3 626.8,112.9 634.7,120.6 639.2,130.0 637.5,133.4 629.8,141.1 624.6,149.7 618.6,153.1 607.5,154.4 600.7,155.7 592.9,156.6 590.4,154.0 583.9,152.5 578.2,154.1 571.1,152.0 561.1,149.1 553.2,145.6 553.2,132.0 555.4,123.4 561.1,112.0" fill="none" stroke="#2c3c88" stroke-width="1"/>
<polygon points="573.1,117.4 585.7,116.9 599.4,115.7 608.5,116.9 614.2,123.1 616.1,132.6 615.2,138.6 604.9,148.4 598.1,148.4 591.2,147.1 585.2,145.4 581.8,143.7 575.4,139.1 565.1,133.4 569.7,124.3" fill="none" stroke="#e07a3a" stroke-width="1"/>
<circle cx="514.7" cy="100.9" r="3.5" fill="#e9f100"/>
<circle cx="516.1" cy="101.4" r="3.5" fill="#f2fa00"/>
<circle cx="517.5" cy="101.9" r="3.5" fill="#f6fe00"/>
<circle cx="519.0" cy="102.3" r="3.5" fill="#dee600"/>
<circle cx="520.4" cy="102.8" r="3.5" fill="#eaf500"/>
<circle cx="521.8" cy="103.3" r="3.5" fill="#e6f100"/>
<circle cx="523.2" cy="103.7" r="3.5" fill="#e3ed00"/>
<circle cx="524.7" cy="104.1" r="3.5" fill="#cfda00"/>
<circle cx="526.1" cy="104.4" r="3.5" fill="#cbd600"/>
<circle cx="527.6" cy="104.8" r="3.5" fill="#cfdc03"/>
<circle cx="529.1" cy="105.1" r="3.5" fill="#cfe207"/>
<circle cx="530.5" cy="105.6" r="3.5" fill="#b7cd0c"/>
<circle cx="531.8" cy="106.3" r="3.5" fill="#b4ce10"/>
<circle cx="533.1" cy="106.9" r="3.5" fill="#a6c313"/>
<circle cx="534.5" cy="107.6" r="3.5" fill="#a9cb1a"/>
<circle cx="535.8" cy="108.3" r="3.5" fill="#a0c81f"/>
<circle cx="537.2" cy="109.0" r="3.5" fill="#8fb620"/>
<circle cx="538.5" cy="109.5" r="3.5" fill="#a2ca21"/>
<circle cx="540.0" cy="110.0" r="3.5" fill="#93b51b"/>
<circle cx="541.4" cy="110.5" r="3.5" fill="#a9ce1d"/>
<circle cx="542.8" cy="111.0" r="3.5" fill="#b1d41c"/>
<circle cx="544.2" cy="111.4" r="3.5" fill="#a5c319"/>
<circle cx="545.6" cy="111.9" r="3.5" fill="#b8d71a"/>
<circle cx="546.8" cy="112.9" r="3.5" fill="#bad618"/>
<circle cx="547.9" cy="113.9" r="3.5" fill="#c6e318"/>
<circle cx="549.1" cy="114.8" r="3.5" fill="#b4cd15"/>
<circle cx="550.4" cy="115.5" r="3.5" fill="#bfd815"/>
<circle cx="551.8" cy="116.1" r="3.5" fill="#cae415"/>
<circle cx="553.1" cy="116.7" r="3.5" fill="#c6dd13"/>
<circle cx="554.5" cy="117.3" r="3.5" fill="#bfd412"/>
<circle cx="555.9" cy="117.8" r="3.5" fill="#bbce10"/>
<circle cx="557.3" cy="118.4" r="3.5" fill="#d5ea10"/>
<circle cx="558.7" cy="119.0" r="3.5" fill="#cadc0d"/>
<circle cx="560.0" cy="119.6" r="3.5" fill="#dbee0c"/>
<circle cx="561.4" cy="120.2" r="3.5" fill="#c5d509"/>
<circle cx="562.8" cy="120.8" r="3.5" fill="#dbeb06"/>
<circle cx="564.2" cy="121.4" r="3.5" fill="#ddec04"/>
<circle cx="565.5" cy="122.0" r="3.5" fill="#e3f002"/>
<circle cx="566.9" cy="122.6" r="3.5" fill="#c9d500"/>
<circle cx="568.3" cy="123.1" r="3.5" fill="#d0de04"/>
<circle cx="569.7" cy="123.6" r="3.5" fill="#c4d207"/>
<circle cx="571.1" cy="124.1" r="3.5" fill="#d5e70a"/>
<circle cx="572.5" cy="124.6" r="3.5" fill="#c6d90e"/>
<circle cx="574.0" cy="125.1" r="3.5" fill="#d4e912"/>
<circle cx="575.4" cy="125.6" r="3.5" fill="#c0d615"/>
<circle cx="576.8" cy="126.1" r="3.5" fill="#c7e019"/>
<circle cx="578.2" cy="126.5" r="3.5" fill="#c3de1a"/>
<circle cx="579.7" cy="126.9" r="3.5" fill="#abc719"/>
<circle cx="581.1" cy="127.4" r="3.5" fill="#accc1b"/>
<circle cx="582.5" cy="127.8" r="3.5" fill="#afd31f"/>
<circle cx="584.0" cy="128.2" r="3.5" fill="#9fc21e"/>
<circle cx="585.4" cy="128.6" r="3.5" fill="#94b81e"/>
<circle cx="586.9" cy="128.5" r="3.5" fill="#8bb21f"/>
<circle cx="588.4" cy="128.4" r="3.5" fill="#9ac221"/>
<circle cx="589.9" cy="128.3" r="3.5" fill="#91b51f"/>
<circle cx="591.4" cy="128.2" r="3.5" fill="#9dc220"/>
<circle cx="592.9" cy="128.1" r="3.5" fill="#a0c420"/>
<circle cx="594.4" cy="128.0" r="3.5" fill="#a3c520"/>
<circle cx="595.9" cy="128.0" r="3.5" fill="#9dbd1e"/>
<circle cx="597.4" cy="127.9" r="3.5" fill="#abcb21"/>
<circle cx="598.9" cy="127.9" r="3.5" fill="#afd222"/>
<circle cx="600.4" cy="127.8" r="3.5" fill="#9ebf1f"/>
<circle cx="601.9" cy="127.8" r="3.5" fill="#9cbe1f"/>
<circle cx="603.4" cy="127.8" r="3.5" fill="#a6cc22"/>
<circle cx="604.9" cy="127.7" r="3.5" fill="#9dc120"/>
<circle cx="606.4" cy="127.7" r="3.5" fill="#94b81f"/>
<circle cx="607.9" cy="127.7" r="3.5" fill="#8caf1e"/>
<circle cx="609.4" cy="127.6" r="3.5" fill="#99c221"/>
<circle cx="610.9" cy="127.5" r="3.5" fill="#8fb51f"/>
<circle cx="612.3" cy="127.3" r="3.5" fill="#8eb620"/>
<circle cx="613.8" cy="127.1" r="3.5" fill="#87b01e"/>
<circle cx="615.3" cy="126.9" r="3.5" fill="#8ab71f"/>
<circle cx="616.8" cy="126.7" r="3.5" fill="#87b91e"/>
<circle cx="618.3" cy="126.5" r="3.5" fill="#7dac1c"/>
<circle cx="619.8" cy="126.4" r="3.5" fill="#75a61a"/>
<circle cx="621.2" cy="126.2" r="3.5" fill="#80ba1d"/>
<circle cx="622.7" cy="126.0" r="3.5" fill="#7bb61b"/>
<circle cx="624.2" cy="125.7" r="3.5" fill="#69a017"/>
<circle cx="625.7" cy="125.5" r="3.5" fill="#6eab19"/>
<circle cx="627.2" cy="125.3" r="3.5" fill="#6dac19"/>
<circle cx="628.7" cy="125.0" r="3.5" fill="#68a518"/>
<circle cx="630.1" cy="124.8" r="3.5" fill="#6aab19"/>
<circle cx="631.6" cy="124.6" r="3.5" fill="#6db01a"/>
<circle cx="633.1" cy="124.3" r="3.5" fill="#66a618"/>
<circle cx="634.6" cy="124.1" r="3.5" fill="#62a118"/>
<circle cx="636.0" cy="123.8" r="3.5" fill="#5f9b17"/>
<circle cx="637.5" cy="123.6" r="3.5" fill="#5e9a17"/>
<circle cx="639.0" cy="123.2" r="3.5" fill="#5b9717"/>
<circle cx="640.4" cy="122.9" r="3.5" fill="#5a9517"/>
<circle cx="641.9" cy="122.5" r="3.5" fill="#5a9717"/>
<circle cx="643.3" cy="122.2" r="3.5" fill="#61a319"/>
<circle cx="644.8" cy="121.8" r="3.5" fill="#5c9c18"/>
<circle cx="646.3" cy="121.5" r="3.5" fill="#5ea119"/>
<circle cx="647.7" cy="121.1" r="3.5" fill="#60a419"/>
<circle cx="649.2" cy="120.8" r="3.5" fill="#61a319"/>
<circle cx="650.6" cy="120.4" r="3.5" fill="#589416"/>
<circle cx="652.0" cy="119.8" r="3.5" fill="#66a819"/>
<circle cx="653.3" cy="119.2" r="3.5" fill="#5b9717"/>
<circle cx="654.7" cy="118.5" r="3.5" fill="#66a719"/>
<circle cx="656.0" cy="117.8" r="3.5" fill="#69ab19"/>
<circle cx="657.3" cy="117.1" r="3.5" fill="#67a819"/>
<circle cx="658.7" cy="116.4" r="3.5" fill="#66a318"/>
<circle cx="660.0" cy="115.8" r="3.5" fill="#629c17"/>
<circle cx="661.3" cy="115.0" r="3.5" fill="#639e17"/>
<circle cx="662.5" cy="114.1" r="3.5" fill="#6fad18"/>
<circle cx="663.8" cy="113.3" r="3.5" fill="#6ea618"/>
<circle cx="665.0" cy="112.5" r="3.5" fill="#78b01a"/>
<circle cx="666.3" cy="111.7" r="3.5" fill="#79ac19"/>
<circle cx="667.6" cy="110.9" r="3.5" fill="#7cac1a"/>
<circle cx="668.8" cy="110.1" r="3.5" fill="#83b21b"/>
<circle cx="670.1" cy="109.3" r="3.5" fill="#90c01d"/>
<circle cx="671.3" cy="108.5" r="3.5" fill="#91bc1d"/>
<circle cx="672.6" cy="107.7" r="3.5" fill="#95bc1e"/>
<circle cx="673.9" cy="106.8" r="3.5" fill="#9cc21e"/>
<circle cx="675.1" cy="106.0" r="3.5" fill="#a2c51f"/>
<circle cx="676.5" cy="105.6" r="3.5" fill="#a7c720"/>
<circle cx="678.0" cy="105.2" r="3.5" fill="#a9c71f"/>
<circle cx="679.4" cy="104.9" r="3.5" fill="#b8d820"/>
<circle cx="680.9" cy="104.5" r="3.5" fill="#b6d41e"/>
<circle cx="682.4" cy="104.2" r="3.5" fill="#abc71c"/>
<circle cx="683.8" cy="103.9" r="3.5" fill="#b0cc1b"/>
<circle cx="685.3" cy="104.0" r="3.5" fill="#b0c91a"/>
<circle cx="686.8" cy="104.2" r="3.5" fill="#b6d01a"/>
<circle cx="688.3" cy="104.3" r="3.5" fill="#b1c817"/>
<circle cx="689.8" cy="104.4" r="3.5" fill="#c7df19"/>
<circle cx="575.8" cy="45.7" r="3.5" fill="#cade10"/>
<circle cx="576.2" cy="47.1" r="3.5" fill="#a7c712"/>
<circle cx="576.6" cy="48.6" r="3.5" fill="#88bc16"/>
<circle cx="577.0" cy="50.0" r="3.5" fill="#589617"/>
<circle cx="577.4" cy="51.4" r="3.5" fill="#61a018"/>
<circle cx="577.8" cy="52.9" r="3.5" fill="#6cab19"/>
<circle cx="578.1" cy="54.3" r="3.5" fill="#6ca618"/>
<circle cx="578.5" cy="55.8" r="3.5" fill="#73ab18"/>
<circle cx="578.7" cy="57.2" r="3.5" fill="#75a918"/>
<circle cx="578.8" cy="58.7" r="3.5" fill="#8cbf18"/>
<circle cx="578.9" cy="60.2" r="3.5" fill="#9bc512"/>
<circle cx="579.0" cy="61.7" r="3.5" fill="#a4c30d"/>
<circle cx="579.1" cy="63.2" r="3.5" fill="#b8d008"/>
<circle cx="579.3" cy="64.7" r="3.5" fill="#d2e104"/>
<circle cx="579.4" cy="66.1" r="3.5" fill="#dee701"/>
<circle cx="579.9" cy="67.5" r="3.5" fill="#c3d906"/>
<circle cx="580.6" cy="68.9" r="3.5" fill="#a1c10b"/>
<circle cx="581.2" cy="70.2" r="3.5" fill="#90bd11"/>
<circle cx="581.9" cy="71.5" r="3.5" fill="#76b217"/>
<circle cx="582.5" cy="72.9" r="3.5" fill="#76b319"/>
<circle cx="583.2" cy="74.2" r="3.5" fill="#7eb318"/>
<circle cx="583.8" cy="75.5" r="3.5" fill="#8bba18"/>
<circle cx="584.4" cy="76.9" r="3.5" fill="#9ac318"/>
<circle cx="584.9" cy="78.3" r="3.5" fill="#a9cc18"/>
<circle cx="585.3" cy="79.7" r="3.5" fill="#b4d218"/>
<circle cx="585.7" cy="81.2" r="3.5" fill="#9ebe16"/>
<circle cx="586.2" cy="82.6" r="3.5" fill="#95bb17"/>
<circle cx="586.6" cy="84.0" r="3.5" fill="#92c31a"/>
<circle cx="587.1" cy="85.4" r="3.5" fill="#7db519"/>
<circle cx="587.5" cy="86.9" r="3.5" fill="#67a118"/>
<circle cx="587.8" cy="88.3" r="3.5" fill="#60a219"/>
<circle cx="587.9" cy="89.8" r="3.5" fill="#679d19"/>
<circle cx="588.0" cy="91.3" r="3.5" fill="#76a71a"/>
<circle cx="588.1" cy="92.8" r="3.5" fill="#88b51d"/>
<circle cx="588.2" cy="94.2" r="3.5" fill="#9bc31f"/>
<circle cx="588.2" cy="95.7" r="3.5" fill="#9ab91e"/>
<circle cx="588.3" cy="97.2" r="3.5" fill="#9ac11e"/>
<circle cx="588.4" cy="98.7" r="3.5" fill="#94c51e"/>
<circle cx="588.5" cy="100.2" r="3.5" fill="#7fb51a"/>
<circle cx="588.6" cy="101.7" r="3.5" fill="#75b61a"/>
<circle cx="588.8" cy="103.1" r="3.5" fill="#868515"/>
<circle cx="589.0" cy="104.6" r="3.5" fill="#c87014"/>
<circle cx="589.2" cy="106.1" r="3.5" fill="#f15111"/>
<circle cx="589.4" cy="107.6" r="3.5" fill="#b86d15"/>
<circle cx="589.8" cy="109.0" r="3.5" fill="#a79d1c"/>
<circle cx="590.4" cy="110.3" r="3.5" fill="#90bc20"/>
<circle cx="591.1" cy="111.6" r="3.5" fill="#74a31b"/>
<circle cx="591.8" cy="113.0" r="3.5" fill="#68a21a"/>
<circle cx="592.5" cy="114.3" r="3.5" fill="#589b17"/>
<circle cx="593.1" cy="115.6" r="3.5" fill="#448f14"/>
<circle cx="593.2" cy="117.1" r="3.5" fill="#2f7e10"/>
<circle cx="593.3" cy="118.6" r="3.5" fill="#398011"/>
<circle cx="593.4" cy="120.1" r="3.5" fill="#4b9213"/>
<circle cx="593.5" cy="121.6" r="3.5" fill="#559214"/>
<circle cx="593.6" cy="123.1" r="3.5" fill="#69a316"/>
<circle cx="593.7" cy="124.6" r="3.5" fill="#72a517"/>
<circle cx="593.8" cy="126.0" r="3.5" fill="#7cad18"/>
<circle cx="593.9" cy="127.5" r="3.5" fill="#87b61a"/>
<circle cx="594.0" cy="129.0" r="3.5" fill="#92c01c"/>
<circle cx="594.1" cy="130.5" r="3.5" fill="#9dc91e"/>
<circle cx="594.2" cy="132.0" r="3.5" fill="#98bd1e"/>
<circle cx="594.3" cy="133.5" r="3.5" fill="#96b61d"/>
<circle cx="594.4" cy="134.9" r="3.5" fill="#aecf21"/>
<circle cx="594.6" cy="136.4" r="3.5" fill="#93ba1d"/>
<circle cx="594.7" cy="137.9" r="3.5" fill="#88b91c"/>
<circle cx="594.8" cy="139.4" r="3.5" fill="#74b119"/>
<circle cx="594.9" cy="140.9" r="3.5" fill="#569415"/>
<circle cx="595.0" cy="142.4" r="3.5" fill="#579f14"/>
<circle cx="595.1" cy="143.9" r="3.5" fill="#6ba30f"/>
<circle cx="595.3" cy="145.3" r="3.5" fill="#84b10c"/>
<circle cx="595.6" cy="146.8" r="3.5" fill="#9dc008"/>
<circle cx="595.8" cy="148.3" r="3.5" fill="#bbd404"/>
<circle cx="596.0" cy="149.8" r="3.5" fill="#ccda01"/>
<circle cx="596.2" cy="151.2" r="3.5" fill="#b6d105"/>
<circle cx="596.4" cy="152.7" r="3.5" fill="#89b40b"/>
<circle cx="597.0" cy="154.0" r="3.5" fill="#639c0f"/>
<circle cx="597.8" cy="155.3" r="3.5" fill="#4d9213"/>
<circle cx="598.6" cy="156.6" r="3.5" fill="#599f16"/>
<circle cx="599.4" cy="157.8" r="3.5" fill="#5c9a14"/>
<circle cx="600.1" cy="159.1" r="3.5" fill="#619b15"/>
<circle cx="600.9" cy="160.4" r="3.5" fill="#69a317"/>
<circle cx="601.6" cy="161.7" r="3.5" fill="#6ea316"/>
<circle cx="602.3" cy="163.0" r="3.5" fill="#82ba1a"/>
<circle cx="603.0" cy="164.3" r="3.5" fill="#93c015"/>
<circle cx="603.7" cy="165.6" r="3.5" fill="#98ba0e"/>
<circle cx="604.4" cy="166.9" r="3.5" fill="#aec80b"/>
<circle cx="605.1" cy="168.2" r="3.5" fill="#c4d706"/>
<circle cx="605.8" cy="169.6" r="3.5" fill="#dae502"/>
<circle cx="606.2" cy="171.0" r="3.5" fill="#dede00"/>
<circle cx="606.7" cy="172.4" r="3.5" fill="#e6db00"/>
<circle cx="607.1" cy="173.8" r="3.5" fill="#f1da00"/>
<circle cx="607.5" cy="175.3" r="3.5" fill="#e1c000"/>
<circle cx="608.0" cy="176.7" r="3.5" fill="#f1c400"/>
<circle cx="608.4" cy="178.1" r="3.5" fill="#aca807"/>
<circle cx="609.0" cy="179.5" r="3.5" fill="#6c9f10"/>
<circle cx="609.7" cy="180.8" r="3.5" fill="#4f9413"/>
<circle cx="610.4" cy="182.1" r="3.5" fill="#5ba216"/>
<circle cx="611.1" cy="183.4" r="3.5" fill="#62a616"/>
<circle cx="611.8" cy="184.7" r="3.5" fill="#69ab17"/>
<circle cx="612.5" cy="186.0" r="3.5" fill="#68a316"/>
<circle cx="613.2" cy="187.4" r="3.5" fill="#70ab17"/>
<circle cx="613.9" cy="188.7" r="3.5" fill="#6fa316"/>
<circle cx="614.6" cy="190.0" r="3.5" fill="#7eb319"/>
<circle cx="615.5" cy="191.2" r="3.5" fill="#94c014"/>
<circle cx="616.4" cy="192.4" r="3.5" fill="#a0c30e"/>
<circle cx="617.2" cy="193.6" r="3.5" fill="#b2cc0a"/>
<circle cx="618.1" cy="194.8" r="3.5" fill="#d3e405"/>
<circle cx="619.0" cy="196.0" r="3.5" fill="#e8f000"/>
<circle cx="619.8" cy="197.2" r="3.5" fill="#e1ee04"/>
<circle cx="620.7" cy="198.4" r="3.5" fill="#cbd809"/>
<circle cx="621.5" cy="199.6" r="3.5" fill="#c2d30d"/>
<circle cx="622.4" cy="200.9" r="3.5" fill="#bbcf10"/>
<circle cx="623.3" cy="202.1" r="3.5" fill="#b2c915"/>
<circle cx="624.1" cy="203.3" r="3.5" fill="#a7c018"/>
<circle cx="625.0" cy="204.5" r="3.5" fill="#a2bf1c"/>
<polygon points="573.2,70.3 575.4,66.4 577.6,70.3" fill="#a80c0c"/>
<polygon points="658.2,76.8 660.4,72.9 662.6,76.8" fill="#a80c0c"/>
<polygon points="592.8,109.6 595.0,105.7 597.2,109.6" fill="#a80c0c"/>
<polygon points="637.5,116.8 639.7,112.9 641.9,116.8" fill="#a80c0c"/>
<polygon points="581.7,135.3 583.9,131.4 586.1,135.3" fill="#a80c0c"/>
<polygon points="586.3,153.0 588.5,149.1 590.7,153.0" fill="#a80c0c"/>
<polygon points="613.0,146.7 615.2,142.8 617.4,146.7" fill="#a80c0c"/>
<polygon points="635.3,157.1 637.5,153.2 639.7,157.1" fill="#a80c0c"/>
<polygon points="521.7,168.9 523.9,165.0 526.1,168.9" fill="#a80c0c"/>
<polygon points="597.5,182.5 599.7,178.6 601.9,182.5" fill="#a80c0c"/>
<text x="574.6" y="63.1" class="lb">19.6</text>
<text x="658.2" y="70.3" class="lb">15.8</text>
<text x="593.8" y="102.3" class="lb">21.8</text>
<text x="638.2" y="109.7" class="lb">18.6</text>
<text x="582.9" y="128.6" class="lb">21</text>
<text x="613.8" y="138.8" class="lb">18</text>
<text x="586.9" y="145.7" class="lb">23.2</text>
<text x="635.4" y="150.3" class="lb">21.6</text>
<text x="521.8" y="161.7" class="lb">20</text>
<text x="597.5" y="174.7" class="lb">22.6</text>
</g>
<g>
<polygon points="177.7,254.1 184.1,248.9 190.6,247.0 200.6,248.2 207.0,248.2 221.3,239.6 238.5,239.6 244.2,242.5 251.3,249.6 261.3,252.5 259.9,259.6 255.6,266.8 254.2,271.1 264.2,275.2 274.2,279.6 281.3,285.2 289.9,291.1 294.2,298.2 294.2,309.6 291.3,318.2 289.9,338.2 291.3,345.3 292.7,355.3 288.5,365.3 281.3,375.3 269.9,386.8 261.3,395.3 249.9,401.1 235.6,408.2 224.2,413.9 214.2,422.5 205.6,429.6 197.6,435.2 193.5,432.5 183.5,428.2 174.9,426.1 169.2,428.2 147.7,428.2 137.7,426.8 129.2,419.6 123.5,409.6 117.7,398.2 112.0,383.9 109.2,373.9 104.9,366.8 102.9,361.7 102.8,346.2 103.0,338.2 103.5,332.5 109.2,318.2 114.9,306.8 121.2,302.3 126.3,297.8 131.4,291.3 136.6,284.9 140.4,278.5 144.3,272.0 149.4,268.8 157.2,264.3 164.9,260.5 172.6,257.3" fill="none" stroke="#8a3e80" stroke-width="1"/>
<polygon points="214.2,280.3 224.2,283.9 235.6,292.5 244.2,296.8 249.9,302.5 252.7,312.5 255.6,323.9 259.9,335.2 264.2,343.9 262.7,352.5 258.5,361.1 249.9,366.8 238.5,371.1 224.2,376.8 216.4,383.3 208.7,386.8 202.7,392.8 192.0,390.7 185.6,389.3 180.6,386.8 170.6,383.2 152.0,388.9 147.7,376.8 143.5,365.3 139.2,352.5 136.3,343.9 137.6,338.2 139.2,323.9 143.5,315.2 152.0,312.5 160.6,309.6 172.0,299.6 186.3,292.2 195.6,286.8 204.2,282.5" fill="none" stroke="#6a9e58" stroke-width="1"/>
<polygon points="170.0,311.6 177.5,308.8 184.9,308.2 197.5,307.1 199.7,309.3 200.9,312.8 210.0,312.8 221.5,314.5 230.6,319.1 238.5,326.8 243.0,336.2 241.3,339.6 233.6,347.3 228.4,355.9 222.4,359.3 211.3,360.6 204.5,361.9 196.7,362.8 194.2,360.2 187.7,358.7 182.0,360.3 174.9,358.2 164.9,355.3 157.0,351.8 157.0,338.2 159.2,329.6 164.9,318.2" fill="none" stroke="#2c3c88" stroke-width="1"/>
<polygon points="176.9,323.6 189.5,323.1 203.2,321.9 212.3,323.1 218.0,329.3 219.9,338.8 219.0,344.8 208.7,354.6 201.9,354.6 195.0,353.3 189.0,351.6 185.6,349.9 179.2,345.3 168.9,339.6 173.5,330.5" fill="none" stroke="#e07a3a" stroke-width="1"/>
<circle cx="120.9" cy="304.6" r="3.5" fill="#4c9815"/>
<circle cx="122.2" cy="305.3" r="3.5" fill="#4c9a15"/>
<circle cx="123.5" cy="306.1" r="3.5" fill="#458c12"/>
<circle cx="124.8" cy="306.8" r="3.5" fill="#4c9c14"/>
<circle cx="126.1" cy="307.6" r="3.5" fill="#438b12"/>
<circle cx="127.4" cy="308.3" r="3.5" fill="#479413"/>
<circle cx="128.7" cy="309.0" r="3.5" fill="#3f8811"/>
<circle cx="130.0" cy="309.8" r="3.5" fill="#449413"/>
<circle cx="131.4" cy="310.4" r="3.5" fill="#3e8811"/>
<circle cx="132.8" cy="311.0" r="3.5" fill="#429213"/>
<circle cx="134.2" cy="311.5" r="3.5" fill="#419112"/>
<circle cx="135.5" cy="312.1" r="3.5" fill="#409212"/>
<circle cx="136.9" cy="312.7" r="3.5" fill="#3c8b11"/>
<circle cx="138.3" cy="313.3" r="3.5" fill="#3f9211"/>
<circle cx="139.7" cy="313.9" r="3.5" fill="#3f9311"/>
<circle cx="141.1" cy="314.4" r="3.5" fill="#37830f"/>
<circle cx="142.5" cy="314.9" r="3.5" fill="#38880f"/>
<circle cx="143.9" cy="315.4" r="3.5" fill="#3b9010"/>
<circle cx="145.3" cy="315.9" r="3.5" fill="#388a0e"/>
<circle cx="146.8" cy="316.4" r="3.5" fill="#35830e"/>
<circle cx="148.1" cy="316.9" r="3.5" fill="#337f0d"/>
<circle cx="149.4" cy="317.7" r="3.5" fill="#368a0d"/>
<circle cx="150.7" cy="318.5" r="3.5" fill="#2f7a0b"/>
<circle cx="151.9" cy="319.3" r="3.5" fill="#33850b"/>
<circle cx="153.2" cy="320.1" r="3.5" fill="#32850c"/>
<circle cx="154.5" cy="320.9" r="3.5" fill="#2d770a"/>
<circle cx="155.8" cy="321.7" r="3.5" fill="#2d790a"/>
<circle cx="157.1" cy="322.4" r="3.5" fill="#2c7809"/>
<circle cx="158.4" cy="323.2" r="3.5" fill="#2c7b09"/>
<circle cx="159.7" cy="323.9" r="3.5" fill="#2a7708"/>
<circle cx="161.1" cy="324.5" r="3.5" fill="#2c7f08"/>
<circle cx="162.4" cy="325.1" r="3.5" fill="#2c7f08"/>
<circle cx="163.8" cy="325.7" r="3.5" fill="#297508"/>
<circle cx="165.2" cy="326.3" r="3.5" fill="#2c7f08"/>
<circle cx="166.6" cy="326.9" r="3.5" fill="#277108"/>
<circle cx="167.9" cy="327.5" r="3.5" fill="#287108"/>
<circle cx="169.3" cy="328.0" r="3.5" fill="#2b7b08"/>
<circle cx="170.7" cy="328.6" r="3.5" fill="#2c7d08"/>
<circle cx="172.1" cy="329.1" r="3.5" fill="#2c7d08"/>
<circle cx="173.6" cy="329.6" r="3.5" fill="#2d8009"/>
<circle cx="175.0" cy="330.1" r="3.5" fill="#2c7e08"/>
<circle cx="176.4" cy="330.6" r="3.5" fill="#297408"/>
<circle cx="177.8" cy="331.2" r="3.5" fill="#2b7c08"/>
<circle cx="179.2" cy="331.7" r="3.5" fill="#2c7f08"/>
<circle cx="180.6" cy="332.2" r="3.5" fill="#287108"/>
<circle cx="182.0" cy="332.7" r="3.5" fill="#2a7808"/>
<circle cx="183.4" cy="333.2" r="3.5" fill="#287208"/>
<circle cx="184.8" cy="333.7" r="3.5" fill="#287208"/>
<circle cx="186.2" cy="334.3" r="3.5" fill="#2a7808"/>
<circle cx="187.6" cy="334.8" r="3.5" fill="#2b7b08"/>
<circle cx="189.1" cy="334.7" r="3.5" fill="#2d8009"/>
<circle cx="190.6" cy="334.6" r="3.5" fill="#287208"/>
<circle cx="192.1" cy="334.6" r="3.5" fill="#2a7808"/>
<circle cx="193.6" cy="334.5" r="3.5" fill="#2d8009"/>
<circle cx="195.1" cy="334.4" r="3.5" fill="#2c7c08"/>
<circle cx="196.6" cy="334.3" r="3.5" fill="#2a7908"/>
<circle cx="198.1" cy="334.2" r="3.5" fill="#287408"/>
<circle cx="199.6" cy="334.2" r="3.5" fill="#2b7a08"/>
<circle cx="201.1" cy="334.1" r="3.5" fill="#297408"/>
<circle cx="202.6" cy="334.1" r="3.5" fill="#2b7a08"/>
<circle cx="204.1" cy="334.0" r="3.5" fill="#2a7a08"/>
<circle cx="205.6" cy="334.0" r="3.5" fill="#287608"/>
<circle cx="207.1" cy="334.0" r="3.5" fill="#2b7c08"/>
<circle cx="208.6" cy="333.9" r="3.5" fill="#277508"/>
<circle cx="210.1" cy="333.9" r="3.5" fill="#287608"/>
<circle cx="211.6" cy="333.9" r="3.5" fill="#2a7d07"/>
<circle cx="213.1" cy="333.8" r="3.5" fill="#277307"/>
<circle cx="214.6" cy="333.7" r="3.5" fill="#257207"/>
<circle cx="216.1" cy="333.6" r="3.5" fill="#277707"/>
<circle cx="217.6" cy="333.4" r="3.5" fill="#277507"/>
<circle cx="219.0" cy="333.2" r="3.5" fill="#287c07"/>
<circle cx="220.5" cy="333.0" r="3.5" fill="#257207"/>
<circle cx="222.0" cy="332.8" r="3.5" fill="#257407"/>
<circle cx="223.5" cy="332.6" r="3.5" fill="#236f07"/>
<circle cx="225.0" cy="332.4" r="3.5" fill="#257507"/>
<circle cx="226.5" cy="332.2" r="3.5" fill="#247207"/>
<circle cx="228.0" cy="332.0" r="3.5" fill="#257407"/>
<circle cx="229.4" cy="331.7" r="3.5" fill="#257907"/>
<circle cx="230.9" cy="331.5" r="3.5" fill="#226d06"/>
<circle cx="232.4" cy="331.2" r="3.5" fill="#267d06"/>
<circle cx="233.9" cy="331.0" r="3.5" fill="#247806"/>
<circle cx="235.4" cy="330.8" r="3.5" fill="#257a06"/>
<circle cx="236.8" cy="330.5" r="3.5" fill="#237506"/>
<circle cx="238.3" cy="330.3" r="3.5" fill="#227506"/>
<circle cx="239.8" cy="330.0" r="3.5" fill="#227306"/>
<circle cx="241.3" cy="329.8" r="3.5" fill="#227206"/>
<circle cx="242.7" cy="329.5" r="3.5" fill="#216f06"/>
<circle cx="244.2" cy="329.1" r="3.5" fill="#227106"/>
<circle cx="245.6" cy="328.7" r="3.5" fill="#227106"/>
<circle cx="247.1" cy="328.4" r="3.5" fill="#227106"/>
<circle cx="248.6" cy="328.0" r="3.5" fill="#257c06"/>
<circle cx="250.0" cy="327.7" r="3.5" fill="#247a06"/>
<circle cx="251.5" cy="327.3" r="3.5" fill="#257706"/>
<circle cx="252.9" cy="327.0" r="3.5" fill="#226d06"/>
<circle cx="254.4" cy="326.6" r="3.5" fill="#237107"/>
<circle cx="255.8" cy="326.1" r="3.5" fill="#247607"/>
<circle cx="257.1" cy="325.4" r="3.5" fill="#257807"/>
<circle cx="258.4" cy="324.7" r="3.5" fill="#257407"/>
<circle cx="259.8" cy="324.0" r="3.5" fill="#267707"/>
<circle cx="261.1" cy="323.3" r="3.5" fill="#277d07"/>
<circle cx="262.4" cy="322.6" r="3.5" fill="#247207"/>
<circle cx="263.8" cy="322.0" r="3.5" fill="#247407"/>
<circle cx="265.1" cy="321.2" r="3.5" fill="#277a07"/>
<circle cx="266.3" cy="320.4" r="3.5" fill="#257307"/>
<circle cx="267.6" cy="319.5" r="3.5" fill="#277a07"/>
<circle cx="268.8" cy="318.7" r="3.5" fill="#257407"/>
<circle cx="270.1" cy="317.9" r="3.5" fill="#236e07"/>
<circle cx="271.3" cy="317.1" r="3.5" fill="#277507"/>
<circle cx="272.6" cy="316.3" r="3.5" fill="#256f07"/>
<circle cx="273.9" cy="315.5" r="3.5" fill="#297c07"/>
<circle cx="275.1" cy="314.7" r="3.5" fill="#297d07"/>
<circle cx="276.4" cy="313.9" r="3.5" fill="#277707"/>
<circle cx="277.7" cy="313.1" r="3.5" fill="#2a7e07"/>
<circle cx="278.9" cy="312.2" r="3.5" fill="#267207"/>
<circle cx="280.3" cy="311.8" r="3.5" fill="#287607"/>
<circle cx="281.8" cy="311.4" r="3.5" fill="#267208"/>
<circle cx="283.2" cy="311.1" r="3.5" fill="#256f07"/>
<circle cx="284.7" cy="310.7" r="3.5" fill="#2b7c08"/>
<circle cx="286.2" cy="310.4" r="3.5" fill="#267007"/>
<circle cx="287.6" cy="310.1" r="3.5" fill="#2b7f08"/>
<circle cx="289.1" cy="310.2" r="3.5" fill="#297908"/>
<circle cx="290.6" cy="310.4" r="3.5" fill="#2b7b08"/>
<circle cx="292.1" cy="310.5" r="3.5" fill="#277007"/>
<circle cx="293.6" cy="310.6" r="3.5" fill="#2c7f08"/>
<circle cx="179.6" cy="251.9" r="3.5" fill="#3c9011"/>
<circle cx="180.0" cy="253.3" r="3.5" fill="#37820f"/>
<circle cx="180.4" cy="254.8" r="3.5" fill="#37840f"/>
<circle cx="180.8" cy="256.2" r="3.5" fill="#37830f"/>
<circle cx="181.2" cy="257.6" r="3.5" fill="#3a8a10"/>
<circle cx="181.6" cy="259.1" r="3.5" fill="#37820f"/>
<circle cx="181.9" cy="260.5" r="3.5" fill="#3c9011"/>
<circle cx="182.3" cy="262.0" r="3.5" fill="#3a8a10"/>
<circle cx="182.5" cy="263.4" r="3.5" fill="#3c8e10"/>
<circle cx="182.6" cy="264.9" r="3.5" fill="#38850f"/>
<circle cx="182.7" cy="266.4" r="3.5" fill="#3b8d10"/>
<circle cx="182.8" cy="267.9" r="3.5" fill="#3a8910"/>
<circle cx="182.9" cy="269.4" r="3.5" fill="#3b8d10"/>
<circle cx="183.1" cy="270.9" r="3.5" fill="#398810"/>
<circle cx="183.2" cy="272.3" r="3.5" fill="#3e9311"/>
<circle cx="183.7" cy="273.7" r="3.5" fill="#3d9111"/>
<circle cx="184.4" cy="275.1" r="3.5" fill="#3d9011"/>
<circle cx="185.0" cy="276.4" r="3.5" fill="#398710"/>
<circle cx="185.7" cy="277.7" r="3.5" fill="#37840f"/>
<circle cx="186.3" cy="279.1" r="3.5" fill="#37830f"/>
<circle cx="187.0" cy="280.4" r="3.5" fill="#37830f"/>
<circle cx="187.6" cy="281.7" r="3.5" fill="#3e9311"/>
<circle cx="188.2" cy="283.1" r="3.5" fill="#388610"/>
<circle cx="188.7" cy="284.5" r="3.5" fill="#3d9111"/>
<circle cx="189.1" cy="285.9" r="3.5" fill="#38850f"/>
<circle cx="189.5" cy="287.4" r="3.5" fill="#3b8c10"/>
<circle cx="190.0" cy="288.8" r="3.5" fill="#38850f"/>
<circle cx="190.4" cy="290.2" r="3.5" fill="#388610"/>
<circle cx="190.9" cy="291.6" r="3.5" fill="#3c8f11"/>
<circle cx="191.3" cy="293.1" r="3.5" fill="#3b8c10"/>
<circle cx="191.6" cy="294.5" r="3.5" fill="#3e9311"/>
<circle cx="191.7" cy="296.0" r="3.5" fill="#38850f"/>
<circle cx="191.8" cy="297.5" r="3.5" fill="#38860f"/>
<circle cx="191.9" cy="299.0" r="3.5" fill="#36820f"/>
<circle cx="192.0" cy="300.4" r="3.5" fill="#38840f"/>
<circle cx="192.0" cy="301.9" r="3.5" fill="#3e9311"/>
<circle cx="192.1" cy="303.4" r="3.5" fill="#3b8b10"/>
<circle cx="192.2" cy="304.9" r="3.5" fill="#3a8a10"/>
<circle cx="192.3" cy="306.4" r="3.5" fill="#398710"/>
<circle cx="192.4" cy="307.9" r="3.5" fill="#3b8e11"/>
<circle cx="192.6" cy="309.3" r="3.5" fill="#388b10"/>
<circle cx="192.8" cy="310.8" r="3.5" fill="#33800f"/>
<circle cx="193.0" cy="312.3" r="3.5" fill="#327d0f"/>
<circle cx="193.2" cy="313.8" r="3.5" fill="#327e0f"/>
<circle cx="193.6" cy="315.2" r="3.5" fill="#358911"/>
<circle cx="194.2" cy="316.5" r="3.5" fill="#348611"/>
<circle cx="194.9" cy="317.8" r="3.5" fill="#2f7c0f"/>
<circle cx="195.6" cy="319.2" r="3.5" fill="#2e7b0f"/>
<circle cx="196.3" cy="320.5" r="3.5" fill="#2e7c10"/>
<circle cx="196.9" cy="321.8" r="3.5" fill="#2f8110"/>
<circle cx="197.0" cy="323.3" r="3.5" fill="#318311"/>
<circle cx="197.1" cy="324.8" r="3.5" fill="#2e7b0f"/>
<circle cx="197.2" cy="326.3" r="3.5" fill="#307e10"/>
<circle cx="197.3" cy="327.8" r="3.5" fill="#307d0f"/>
<circle cx="197.4" cy="329.3" r="3.5" fill="#368b11"/>
<circle cx="197.5" cy="330.8" r="3.5" fill="#348510"/>
<circle cx="197.6" cy="332.2" r="3.5" fill="#388d11"/>
<circle cx="197.7" cy="333.7" r="3.5" fill="#34810f"/>
<circle cx="197.8" cy="335.2" r="3.5" fill="#378810"/>
<circle cx="197.9" cy="336.7" r="3.5" fill="#388810"/>
<circle cx="198.0" cy="338.2" r="3.5" fill="#3b9011"/>
<circle cx="198.1" cy="339.7" r="3.5" fill="#388610"/>
<circle cx="198.2" cy="341.1" r="3.5" fill="#38850f"/>
<circle cx="198.4" cy="342.6" r="3.5" fill="#559e16"/>
<circle cx="198.5" cy="344.1" r="3.5" fill="#70af1b"/>
<circle cx="198.6" cy="345.6" r="3.5" fill="#80b21e"/>
<circle cx="198.7" cy="347.1" r="3.5" fill="#7bad1d"/>
<circle cx="198.8" cy="348.6" r="3.5" fill="#649c18"/>
<circle cx="198.9" cy="350.1" r="3.5" fill="#569916"/>
<circle cx="199.1" cy="351.5" r="3.5" fill="#479813"/>
<circle cx="199.4" cy="353.0" r="3.5" fill="#398710"/>
<circle cx="199.6" cy="354.5" r="3.5" fill="#3a8910"/>
<circle cx="199.8" cy="356.0" r="3.5" fill="#3a8a10"/>
<circle cx="200.0" cy="357.4" r="3.5" fill="#37840f"/>
<circle cx="200.2" cy="358.9" r="3.5" fill="#36810f"/>
<circle cx="200.8" cy="360.2" r="3.5" fill="#388810"/>
<circle cx="201.6" cy="361.5" r="3.5" fill="#3c9111"/>
<circle cx="202.4" cy="362.8" r="3.5" fill="#3b8f11"/>
<circle cx="203.2" cy="364.0" r="3.5" fill="#368410"/>
<circle cx="203.9" cy="365.3" r="3.5" fill="#398c11"/>
<circle cx="204.7" cy="366.6" r="3.5" fill="#3a8d11"/>
<circle cx="205.4" cy="367.9" r="3.5" fill="#388910"/>
<circle cx="206.1" cy="369.2" r="3.5" fill="#368410"/>
<circle cx="206.8" cy="370.5" r="3.5" fill="#34800f"/>
<circle cx="207.5" cy="371.8" r="3.5" fill="#388a10"/>
<circle cx="208.2" cy="373.1" r="3.5" fill="#378910"/>
<circle cx="208.9" cy="374.4" r="3.5" fill="#33800f"/>
<circle cx="209.6" cy="375.8" r="3.5" fill="#327e0f"/>
<circle cx="210.0" cy="377.2" r="3.5" fill="#327e0f"/>
<circle cx="210.5" cy="378.6" r="3.5" fill="#378b11"/>
<circle cx="210.9" cy="380.0" r="3.5" fill="#378b11"/>
<circle cx="211.3" cy="381.5" r="3.5" fill="#348410"/>
<circle cx="211.8" cy="382.9" r="3.5" fill="#358610"/>
<circle cx="212.2" cy="384.3" r="3.5" fill="#348710"/>
<circle cx="212.8" cy="385.7" r="3.5" fill="#317d0f"/>
<circle cx="213.5" cy="387.0" r="3.5" fill="#338310"/>
<circle cx="214.2" cy="388.3" r="3.5" fill="#338210"/>
<circle cx="214.9" cy="389.6" r="3.5" fill="#358911"/>
<circle cx="215.6" cy="390.9" r="3.5" fill="#307c0f"/>
<circle cx="216.3" cy="392.2" r="3.5" fill="#348811"/>
<circle cx="217.0" cy="393.6" r="3.5" fill="#2f7b0f"/>
<circle cx="217.7" cy="394.9" r="3.5" fill="#328310"/>
<circle cx="218.4" cy="396.2" r="3.5" fill="#348811"/>
<circle cx="219.3" cy="397.4" r="3.5" fill="#2e790f"/>
<circle cx="220.2" cy="398.6" r="3.5" fill="#318110"/>
<circle cx="221.0" cy="399.8" r="3.5" fill="#2d770f"/>
<circle cx="221.9" cy="401.0" r="3.5" fill="#308010"/>
<circle cx="222.8" cy="402.2" r="3.5" fill="#308010"/>
<circle cx="223.6" cy="403.4" r="3.5" fill="#338811"/>
<circle cx="224.5" cy="404.6" r="3.5" fill="#2f7f10"/>
<circle cx="225.3" cy="405.8" r="3.5" fill="#328611"/>
<circle cx="226.2" cy="407.1" r="3.5" fill="#318311"/>
<circle cx="227.1" cy="408.3" r="3.5" fill="#318511"/>
<circle cx="227.9" cy="409.5" r="3.5" fill="#2d7b10"/>
<circle cx="228.8" cy="410.7" r="3.5" fill="#2b770f"/>
<polygon points="177.0,276.5 179.2,272.6 181.4,276.5" fill="#a80c0c"/>
<polygon points="262.0,283.0 264.2,279.1 266.4,283.0" fill="#a80c0c"/>
<polygon points="196.6,315.8 198.8,311.9 201.0,315.8" fill="#a80c0c"/>
<polygon points="241.3,323.0 243.5,319.1 245.7,323.0" fill="#a80c0c"/>
<polygon points="185.5,341.5 187.7,337.6 189.9,341.5" fill="#a80c0c"/>
<polygon points="190.1,359.2 192.3,355.3 194.5,359.2" fill="#a80c0c"/>
<polygon points="216.8,352.9 219.0,349.0 221.2,352.9" fill="#a80c0c"/>
<polygon points="239.1,363.3 241.3,359.4 243.5,363.3" fill="#a80c0c"/>
<polygon points="125.5,375.1 127.7,371.2 129.9,375.1" fill="#a80c0c"/>
<polygon points="201.3,388.7 203.5,384.8 205.7,388.7" fill="#a80c0c"/>
<text x="178.4" y="269.3" class="lb">28.6</text>
<text x="262.0" y="276.5" class="lb">44.7</text>
<text x="197.6" y="308.5" class="lb">43.8</text>
<text x="242.0" y="315.9" class="lb">35.6</text>
<text x="186.7" y="334.8" class="lb">36.2</text>
<text x="217.6" y="345.0" class="lb">33.2</text>
<text x="190.7" y="351.9" class="lb">35.8</text>
<text x="239.2" y="356.5" class="lb">28.2</text>
<text x="125.6" y="367.9" class="lb">49</text>
<text x="201.3" y="380.9" class="lb">37.4</text>
</g>
<g>
<polygon points="376.0,253.9 382.4,248.7 388.9,246.8 398.9,248.0 405.3,248.0 419.6,239.4 436.8,239.4 442.5,242.3 449.6,249.4 459.6,252.3 458.2,259.4 453.9,266.6 452.5,270.9 462.5,275.0 472.5,279.4 479.6,285.0 488.2,290.9 492.5,298.0 492.5,309.4 489.6,318.0 488.2,338.0 489.6,345.1 491.0,355.1 486.8,365.1 479.6,375.1 468.2,386.6 459.6,395.1 448.2,400.9 433.9,408.0 422.5,413.7 412.5,422.3 403.9,429.4 395.9,435.0 391.8,432.3 381.8,428.0 373.2,425.9 367.5,428.0 346.0,428.0 336.0,426.6 327.5,419.4 321.8,409.4 316.0,398.0 310.3,383.7 307.5,373.7 303.2,366.6 301.2,361.5 301.1,346.0 301.3,338.0 301.8,332.3 307.5,318.0 313.2,306.6 319.5,302.1 324.6,297.6 329.7,291.1 334.9,284.7 338.7,278.3 342.6,271.8 347.7,268.6 355.5,264.1 363.2,260.3 370.9,257.1" fill="none" stroke="#8a3e80" stroke-width="1"/>
<polygon points="412.5,280.1 422.5,283.7 433.9,292.3 442.5,296.6 448.2,302.3 451.0,312.3 453.9,323.7 458.2,335.0 462.5,343.7 461.0,352.3 456.8,360.9 448.2,366.6 436.8,370.9 422.5,376.6 414.7,383.1 407.0,386.6 401.0,392.6 390.3,390.5 383.9,389.1 378.9,386.6 368.9,383.0 350.3,388.7 346.0,376.6 341.8,365.1 337.5,352.3 334.6,343.7 335.9,338.0 337.5,323.7 341.8,315.0 350.3,312.3 358.9,309.4 370.3,299.4 384.6,292.0 393.9,286.6 402.5,282.3" fill="none" stroke="#6a9e58" stroke-width="1"/>
<polygon points="368.3,311.4 375.8,308.6 383.2,308.0 395.8,306.9 398.0,309.1 399.2,312.6 408.3,312.6 419.8,314.3 428.9,318.9 436.8,326.6 441.3,336.0 439.6,339.4 431.9,347.1 426.7,355.7 420.7,359.1 409.6,360.4 402.8,361.7 395.0,362.6 392.5,360.0 386.0,358.5 380.3,360.1 373.2,358.0 363.2,355.1 355.3,351.6 355.3,338.0 357.5,329.4 363.2,318.0" fill="none" stroke="#2c3c88" stroke-width="1"/>
<polygon points="375.2,323.4 387.8,322.9 401.5,321.7 410.6,322.9 416.3,329.1 418.2,338.6 417.3,344.6 407.0,354.4 400.2,354.4 393.3,353.1 387.3,351.4 383.9,349.7 377.5,345.1 367.2,339.4 371.8,330.3" fill="none" stroke="#e07a3a" stroke-width="1"/>
<circle cx="315.9" cy="307.4" r="3.5" fill="#639d16"/>
<circle cx="317.3" cy="307.7" r="3.5" fill="#649f17"/>
<circle cx="318.8" cy="308.1" r="3.5" fill="#68a518"/>
<circle cx="320.2" cy="308.4" r="3.5" fill="#6aaa19"/>
<circle cx="321.7" cy="308.8" r="3.5" fill="#5f9c16"/>
<circle cx="323.1" cy="309.1" r="3.5" fill="#5c9916"/>
<circle cx="324.6" cy="309.5" r="3.5" fill="#5a9a15"/>
<circle cx="326.0" cy="309.9" r="3.5" fill="#5ea417"/>
<circle cx="327.5" cy="310.2" r="3.5" fill="#549515"/>
<circle cx="328.9" cy="310.6" r="3.5" fill="#58a016"/>
<circle cx="330.4" cy="310.9" r="3.5" fill="#539c15"/>
<circle cx="331.8" cy="311.3" r="3.5" fill="#4a8f14"/>
<circle cx="333.2" cy="311.9" r="3.5" fill="#4c9614"/>
<circle cx="334.5" cy="312.6" r="3.5" fill="#499314"/>
<circle cx="335.9" cy="313.3" r="3.5" fill="#499214"/>
<circle cx="337.2" cy="313.9" r="3.5" fill="#4f9e15"/>
<circle cx="338.5" cy="314.6" r="3.5" fill="#468c13"/>
<circle cx="339.9" cy="315.2" r="3.5" fill="#458a13"/>
<circle cx="341.3" cy="315.7" r="3.5" fill="#4f9d15"/>
<circle cx="342.7" cy="316.1" r="3.5" fill="#499214"/>
<circle cx="344.1" cy="316.6" r="3.5" fill="#478e13"/>
<circle cx="345.5" cy="317.1" r="3.5" fill="#619f11"/>
<circle cx="347.0" cy="317.6" r="3.5" fill="#98bf0a"/>
<circle cx="348.3" cy="318.2" r="3.5" fill="#def003"/>
<circle cx="349.6" cy="318.8" r="3.5" fill="#dfe600"/>
<circle cx="351.0" cy="319.5" r="3.5" fill="#dfe600"/>
<circle cx="352.3" cy="320.2" r="3.5" fill="#d9e902"/>
<circle cx="353.6" cy="320.8" r="3.5" fill="#9dc407"/>
<circle cx="355.0" cy="321.5" r="3.5" fill="#68ab0d"/>
<circle cx="356.3" cy="322.2" r="3.5" fill="#3d9111"/>
<circle cx="357.6" cy="322.8" r="3.5" fill="#398710"/>
<circle cx="359.0" cy="323.5" r="3.5" fill="#37830f"/>
<circle cx="360.3" cy="324.2" r="3.5" fill="#3c8f11"/>
<circle cx="361.7" cy="324.7" r="3.5" fill="#3c9111"/>
<circle cx="363.0" cy="325.3" r="3.5" fill="#347f0f"/>
<circle cx="364.4" cy="325.9" r="3.5" fill="#3a8c11"/>
<circle cx="365.8" cy="326.5" r="3.5" fill="#3a8e11"/>
<circle cx="367.1" cy="327.1" r="3.5" fill="#388a10"/>
<circle cx="368.5" cy="327.7" r="3.5" fill="#34810f"/>
<circle cx="369.9" cy="328.3" r="3.5" fill="#388c11"/>
<circle cx="371.3" cy="328.9" r="3.5" fill="#388a11"/>
<circle cx="372.7" cy="329.4" r="3.5" fill="#337f0f"/>
<circle cx="374.1" cy="329.9" r="3.5" fill="#368810"/>
<circle cx="375.4" cy="330.5" r="3.5" fill="#33800f"/>
<circle cx="376.8" cy="331.0" r="3.5" fill="#317c0f"/>
<circle cx="378.2" cy="331.5" r="3.5" fill="#338110"/>
<circle cx="379.6" cy="332.1" r="3.5" fill="#328010"/>
<circle cx="381.0" cy="332.6" r="3.5" fill="#328110"/>
<circle cx="382.4" cy="333.1" r="3.5" fill="#348610"/>
<circle cx="383.9" cy="333.5" r="3.5" fill="#348811"/>
<circle cx="385.3" cy="334.0" r="3.5" fill="#358a11"/>
<circle cx="386.7" cy="334.5" r="3.5" fill="#348a11"/>
<circle cx="388.1" cy="335.0" r="3.5" fill="#348a11"/>
<circle cx="389.6" cy="335.0" r="3.5" fill="#338611"/>
<circle cx="391.0" cy="334.8" r="3.5" fill="#2f7d10"/>
<circle cx="392.5" cy="334.6" r="3.5" fill="#2e7a0f"/>
<circle cx="394.0" cy="334.5" r="3.5" fill="#308110"/>
<circle cx="395.5" cy="334.3" r="3.5" fill="#2f8010"/>
<circle cx="397.0" cy="334.1" r="3.5" fill="#308210"/>
<circle cx="398.4" cy="334.0" r="3.5" fill="#2b770f"/>
<circle cx="399.9" cy="333.9" r="3.5" fill="#2c790f"/>
<circle cx="401.4" cy="333.8" r="3.5" fill="#318511"/>
<circle cx="402.9" cy="333.8" r="3.5" fill="#2f8010"/>
<circle cx="404.4" cy="333.8" r="3.5" fill="#2f8110"/>
<circle cx="405.9" cy="333.7" r="3.5" fill="#2b770e"/>
<circle cx="407.4" cy="333.7" r="3.5" fill="#2d7b0f"/>
<circle cx="408.9" cy="333.7" r="3.5" fill="#318410"/>
<circle cx="410.4" cy="333.6" r="3.5" fill="#2f800f"/>
<circle cx="411.9" cy="333.6" r="3.5" fill="#308610"/>
<circle cx="413.3" cy="333.5" r="3.5" fill="#2b780e"/>
<circle cx="414.8" cy="333.3" r="3.5" fill="#2d7c0f"/>
<circle cx="416.3" cy="333.1" r="3.5" fill="#2f8210"/>
<circle cx="417.8" cy="332.9" r="3.5" fill="#2d7c0e"/>
<circle cx="419.2" cy="332.7" r="3.5" fill="#2f820f"/>
<circle cx="420.7" cy="332.5" r="3.5" fill="#2d7e0e"/>
<circle cx="422.2" cy="332.3" r="3.5" fill="#2b750d"/>
<circle cx="423.7" cy="332.1" r="3.5" fill="#2a750d"/>
<circle cx="425.2" cy="331.9" r="3.5" fill="#30840f"/>
<circle cx="426.6" cy="331.7" r="3.5" fill="#2b750d"/>
<circle cx="428.1" cy="331.5" r="3.5" fill="#2b770c"/>
<circle cx="429.6" cy="331.2" r="3.5" fill="#2c790d"/>
<circle cx="431.1" cy="331.0" r="3.5" fill="#2e800d"/>
<circle cx="432.5" cy="330.7" r="3.5" fill="#2f820e"/>
<circle cx="434.0" cy="330.5" r="3.5" fill="#2c7c0d"/>
<circle cx="435.5" cy="330.3" r="3.5" fill="#2c7c0d"/>
<circle cx="436.9" cy="330.0" r="3.5" fill="#2e810e"/>
<circle cx="438.4" cy="329.8" r="3.5" fill="#2b770d"/>
<circle cx="439.9" cy="329.5" r="3.5" fill="#2b790c"/>
<circle cx="441.3" cy="329.2" r="3.5" fill="#2d7d0c"/>
<circle cx="442.8" cy="328.8" r="3.5" fill="#2d7d0c"/>
<circle cx="444.2" cy="328.5" r="3.5" fill="#29730b"/>
<circle cx="445.7" cy="328.1" r="3.5" fill="#2a740b"/>
<circle cx="447.1" cy="327.8" r="3.5" fill="#2a750b"/>
<circle cx="448.6" cy="327.4" r="3.5" fill="#2d7f0c"/>
<circle cx="450.0" cy="327.1" r="3.5" fill="#2d7e0c"/>
<circle cx="451.5" cy="326.7" r="3.5" fill="#2f830c"/>
<circle cx="452.9" cy="326.4" r="3.5" fill="#2e800b"/>
<circle cx="454.3" cy="325.8" r="3.5" fill="#2a760b"/>
<circle cx="455.6" cy="325.1" r="3.5" fill="#2e7f0b"/>
<circle cx="456.9" cy="324.4" r="3.5" fill="#2f820c"/>
<circle cx="458.3" cy="323.7" r="3.5" fill="#2a770b"/>
<circle cx="459.6" cy="323.0" r="3.5" fill="#28720a"/>
<circle cx="460.9" cy="322.4" r="3.5" fill="#2a780b"/>
<circle cx="462.2" cy="321.7" r="3.5" fill="#2a760b"/>
<circle cx="463.5" cy="320.9" r="3.5" fill="#29740a"/>
<circle cx="464.7" cy="320.1" r="3.5" fill="#287209"/>
<circle cx="466.0" cy="319.3" r="3.5" fill="#297409"/>
<circle cx="467.2" cy="318.4" r="3.5" fill="#2d800b"/>
<circle cx="468.5" cy="317.6" r="3.5" fill="#287209"/>
<circle cx="469.7" cy="316.8" r="3.5" fill="#2c7b0a"/>
<circle cx="471.0" cy="316.0" r="3.5" fill="#29740a"/>
<circle cx="472.3" cy="315.2" r="3.5" fill="#29740a"/>
<circle cx="473.5" cy="314.4" r="3.5" fill="#2d7e0a"/>
<circle cx="474.8" cy="313.6" r="3.5" fill="#2a7609"/>
<circle cx="476.0" cy="312.8" r="3.5" fill="#297409"/>
<circle cx="477.3" cy="312.0" r="3.5" fill="#2b7809"/>
<circle cx="478.7" cy="311.5" r="3.5" fill="#2c7c09"/>
<circle cx="480.1" cy="311.2" r="3.5" fill="#2b7909"/>
<circle cx="481.6" cy="310.9" r="3.5" fill="#2c7f09"/>
<circle cx="483.0" cy="310.5" r="3.5" fill="#297709"/>
<circle cx="484.5" cy="310.2" r="3.5" fill="#2a7809"/>
<circle cx="486.0" cy="309.9" r="3.5" fill="#2b7c09"/>
<circle cx="487.4" cy="310.0" r="3.5" fill="#2a7708"/>
<circle cx="488.9" cy="310.2" r="3.5" fill="#2b7c08"/>
<circle cx="490.4" cy="310.3" r="3.5" fill="#2a7708"/>
<circle cx="491.9" cy="310.4" r="3.5" fill="#287208"/>
<circle cx="377.9" cy="251.7" r="3.5" fill="#3b8511"/>
<circle cx="378.3" cy="253.1" r="3.5" fill="#409213"/>
<circle cx="378.7" cy="254.6" r="3.5" fill="#409113"/>
<circle cx="379.1" cy="256.0" r="3.5" fill="#429513"/>
<circle cx="379.5" cy="257.4" r="3.5" fill="#409012"/>
<circle cx="379.9" cy="258.9" r="3.5" fill="#3e8e12"/>
<circle cx="380.2" cy="260.3" r="3.5" fill="#3a8511"/>
<circle cx="380.6" cy="261.8" r="3.5" fill="#409313"/>
<circle cx="380.8" cy="263.2" r="3.5" fill="#3a8511"/>
<circle cx="380.9" cy="264.7" r="3.5" fill="#3c8b12"/>
<circle cx="381.0" cy="266.2" r="3.5" fill="#3a8410"/>
<circle cx="381.1" cy="267.7" r="3.5" fill="#3c8911"/>
<circle cx="381.2" cy="269.2" r="3.5" fill="#3b8711"/>
<circle cx="381.4" cy="270.7" r="3.5" fill="#3c8a11"/>
<circle cx="381.5" cy="272.1" r="3.5" fill="#3f8f12"/>
<circle cx="382.0" cy="273.5" r="3.5" fill="#3c8c11"/>
<circle cx="382.7" cy="274.9" r="3.5" fill="#3a8610"/>
<circle cx="383.3" cy="276.2" r="3.5" fill="#3e9012"/>
<circle cx="384.0" cy="277.5" r="3.5" fill="#3e9012"/>
<circle cx="384.6" cy="278.9" r="3.5" fill="#3f9112"/>
<circle cx="385.3" cy="280.2" r="3.5" fill="#388210"/>
<circle cx="385.9" cy="281.5" r="3.5" fill="#3d8d11"/>
<circle cx="386.5" cy="282.9" r="3.5" fill="#3f9312"/>
<circle cx="387.0" cy="284.3" r="3.5" fill="#3a8610"/>
<circle cx="387.4" cy="285.7" r="3.5" fill="#398510"/>
<circle cx="387.8" cy="287.2" r="3.5" fill="#3e9112"/>
<circle cx="388.3" cy="288.6" r="3.5" fill="#3a8811"/>
<circle cx="388.7" cy="290.0" r="3.5" fill="#3a8911"/>
<circle cx="389.2" cy="291.4" r="3.5" fill="#3e9112"/>
<circle cx="389.6" cy="292.9" r="3.5" fill="#3a8810"/>
<circle cx="389.9" cy="294.3" r="3.5" fill="#39840f"/>
<circle cx="390.0" cy="295.8" r="3.5" fill="#39840f"/>
<circle cx="390.1" cy="297.3" r="3.5" fill="#3a8710"/>
<circle cx="390.2" cy="298.8" r="3.5" fill="#3d8e10"/>
<circle cx="390.3" cy="300.2" r="3.5" fill="#398710"/>
<circle cx="390.3" cy="301.7" r="3.5" fill="#3c8f11"/>
<circle cx="390.4" cy="303.2" r="3.5" fill="#36820f"/>
<circle cx="390.5" cy="304.7" r="3.5" fill="#38850f"/>
<circle cx="390.6" cy="306.2" r="3.5" fill="#3b8c10"/>
<circle cx="390.7" cy="307.7" r="3.5" fill="#398910"/>
<circle cx="390.9" cy="309.1" r="3.5" fill="#398910"/>
<circle cx="391.1" cy="310.6" r="3.5" fill="#3b9011"/>
<circle cx="391.3" cy="312.1" r="3.5" fill="#368410"/>
<circle cx="391.5" cy="313.6" r="3.5" fill="#35810f"/>
<circle cx="391.9" cy="315.0" r="3.5" fill="#327d0f"/>
<circle cx="392.5" cy="316.3" r="3.5" fill="#368610"/>
<circle cx="393.2" cy="317.6" r="3.5" fill="#338110"/>
<circle cx="393.9" cy="319.0" r="3.5" fill="#358510"/>
<circle cx="394.6" cy="320.3" r="3.5" fill="#307b0f"/>
<circle cx="395.2" cy="321.6" r="3.5" fill="#307b0f"/>
<circle cx="395.3" cy="323.1" r="3.5" fill="#328110"/>
<circle cx="395.4" cy="324.6" r="3.5" fill="#358811"/>
<circle cx="395.5" cy="326.1" r="3.5" fill="#317e10"/>
<circle cx="395.6" cy="327.6" r="3.5" fill="#348811"/>
<circle cx="395.7" cy="329.1" r="3.5" fill="#328210"/>
<circle cx="395.8" cy="330.6" r="3.5" fill="#2f7e10"/>
<circle cx="395.9" cy="332.0" r="3.5" fill="#328511"/>
<circle cx="396.0" cy="333.5" r="3.5" fill="#2d7a0f"/>
<circle cx="396.1" cy="335.0" r="3.5" fill="#2f8010"/>
<circle cx="396.2" cy="336.5" r="3.5" fill="#308411"/>
<circle cx="396.3" cy="338.0" r="3.5" fill="#2e7f10"/>
<circle cx="396.4" cy="339.5" r="3.5" fill="#2d7b10"/>
<circle cx="396.5" cy="340.9" r="3.5" fill="#2b770e"/>
<circle cx="396.7" cy="342.4" r="3.5" fill="#2e7e0f"/>
<circle cx="396.8" cy="343.9" r="3.5" fill="#2c780e"/>
<circle cx="396.9" cy="345.4" r="3.5" fill="#2c7b0f"/>
<circle cx="397.0" cy="346.9" r="3.5" fill="#2d7e0f"/>
<circle cx="397.1" cy="348.4" r="3.5" fill="#308510"/>
<circle cx="397.2" cy="349.9" r="3.5" fill="#2e800f"/>
<circle cx="397.4" cy="351.3" r="3.5" fill="#2d7d0e"/>
<circle cx="397.7" cy="352.8" r="3.5" fill="#2f830f"/>
<circle cx="397.9" cy="354.3" r="3.5" fill="#2c7a0e"/>
<circle cx="398.1" cy="355.8" r="3.5" fill="#2c7a0e"/>
<circle cx="398.3" cy="357.2" r="3.5" fill="#2e7f0e"/>
<circle cx="398.5" cy="358.7" r="3.5" fill="#2d7d0e"/>
<circle cx="399.1" cy="360.0" r="3.5" fill="#2b770c"/>
<circle cx="399.9" cy="361.3" r="3.5" fill="#2c7a0d"/>
<circle cx="400.7" cy="362.6" r="3.5" fill="#2f820e"/>
<circle cx="401.5" cy="363.8" r="3.5" fill="#2b780d"/>
<circle cx="402.2" cy="365.1" r="3.5" fill="#2d800d"/>
<circle cx="403.0" cy="366.4" r="3.5" fill="#29740c"/>
<circle cx="403.7" cy="367.7" r="3.5" fill="#2f830e"/>
<circle cx="404.4" cy="369.0" r="3.5" fill="#2d7e0c"/>
<circle cx="405.1" cy="370.3" r="3.5" fill="#2b780c"/>
<circle cx="405.8" cy="371.6" r="3.5" fill="#2f830d"/>
<circle cx="406.5" cy="372.9" r="3.5" fill="#2e800c"/>
<circle cx="407.2" cy="374.2" r="3.5" fill="#29730b"/>
<circle cx="407.9" cy="375.6" r="3.5" fill="#2a770c"/>
<circle cx="408.3" cy="377.0" r="3.5" fill="#2c7b0c"/>
<circle cx="408.8" cy="378.4" r="3.5" fill="#2f840c"/>
<circle cx="409.2" cy="379.8" r="3.5" fill="#2a740a"/>
<circle cx="409.6" cy="381.3" r="3.5" fill="#29720a"/>
<circle cx="410.1" cy="382.7" r="3.5" fill="#2b770b"/>
<circle cx="410.5" cy="384.1" r="3.5" fill="#28720a"/>
<circle cx="411.1" cy="385.5" r="3.5" fill="#2a780b"/>
<circle cx="411.8" cy="386.8" r="3.5" fill="#2b7b0b"/>
<circle cx="412.5" cy="388.1" r="3.5" fill="#2b790a"/>
<circle cx="413.2" cy="389.4" r="3.5" fill="#297409"/>
<circle cx="413.9" cy="390.7" r="3.5" fill="#287209"/>
<circle cx="414.6" cy="392.0" r="3.5" fill="#2d7f0a"/>
<circle cx="415.3" cy="393.4" r="3.5" fill="#2b780a"/>
<circle cx="416.0" cy="394.7" r="3.5" fill="#2b790a"/>
<circle cx="416.7" cy="396.0" r="3.5" fill="#2b790a"/>
<circle cx="417.6" cy="397.2" r="3.5" fill="#2c7c09"/>
<circle cx="418.5" cy="398.4" r="3.5" fill="#2d800a"/>
<circle cx="419.3" cy="399.6" r="3.5" fill="#2d7f09"/>
<circle cx="420.2" cy="400.8" r="3.5" fill="#2c7d09"/>
<circle cx="421.1" cy="402.0" r="3.5" fill="#297609"/>
<circle cx="421.9" cy="403.2" r="3.5" fill="#287309"/>
<circle cx="422.8" cy="404.4" r="3.5" fill="#287208"/>
<circle cx="423.6" cy="405.6" r="3.5" fill="#2c7e09"/>
<circle cx="424.5" cy="406.9" r="3.5" fill="#277108"/>
<circle cx="425.4" cy="408.1" r="3.5" fill="#2a7908"/>
<circle cx="426.2" cy="409.3" r="3.5" fill="#2c7f08"/>
<circle cx="427.1" cy="410.5" r="3.5" fill="#297508"/>
<polygon points="375.3,276.3 377.5,272.4 379.7,276.3" fill="#a80c0c"/>
<polygon points="460.3,282.8 462.5,278.9 464.7,282.8" fill="#a80c0c"/>
<polygon points="394.9,315.6 397.1,311.7 399.3,315.6" fill="#a80c0c"/>
<polygon points="439.6,322.8 441.8,318.9 444.0,322.8" fill="#a80c0c"/>
<polygon points="383.8,341.3 386.0,337.4 388.2,341.3" fill="#a80c0c"/>
<polygon points="388.4,359.0 390.6,355.1 392.8,359.0" fill="#a80c0c"/>
<polygon points="415.1,352.7 417.3,348.8 419.5,352.7" fill="#a80c0c"/>
<polygon points="437.4,363.1 439.6,359.2 441.8,363.1" fill="#a80c0c"/>
<polygon points="323.8,374.9 326.0,371.0 328.2,374.9" fill="#a80c0c"/>
<polygon points="399.6,388.5 401.8,384.6 404.0,388.5" fill="#a80c0c"/>
<text x="376.7" y="269.1" class="lb">49.6</text>
<text x="460.3" y="276.3" class="lb">51.6</text>
<text x="395.9" y="308.3" class="lb">51.2</text>
<text x="440.3" y="315.7" class="lb">48.8</text>
<text x="385.0" y="334.6" class="lb">59.4</text>
<text x="415.9" y="344.8" class="lb">61.4</text>
<text x="389.0" y="351.7" class="lb">57.8</text>
<text x="437.5" y="356.3" class="lb">65</text>
<text x="323.9" y="367.7" class="lb">51.8</text>
<text x="399.6" y="380.7" class="lb">72</text>
</g>
<g>
<polygon points="575.7,254.5 582.1,249.3 588.6,247.4 598.6,248.6 605.0,248.6 619.3,240.0 636.5,240.0 642.2,242.9 649.3,250.0 659.3,252.9 657.9,260.0 653.6,267.2 652.2,271.5 662.2,275.6 672.2,280.0 679.3,285.6 687.9,291.5 692.2,298.6 692.2,310.0 689.3,318.6 687.9,338.6 689.3,345.7 690.7,355.7 686.5,365.7 679.3,375.7 667.9,387.2 659.3,395.7 647.9,401.5 633.6,408.6 622.2,414.3 612.2,422.9 603.6,430.0 595.6,435.6 591.5,432.9 581.5,428.6 572.9,426.5 567.2,428.6 545.7,428.6 535.7,427.2 527.2,420.0 521.5,410.0 515.7,398.6 510.0,384.3 507.2,374.3 502.9,367.2 500.9,362.1 500.8,346.6 501.0,338.6 501.5,332.9 507.2,318.6 512.9,307.2 519.2,302.7 524.3,298.2 529.4,291.7 534.6,285.3 538.4,278.9 542.3,272.4 547.4,269.2 555.2,264.7 562.9,260.9 570.6,257.7" fill="none" stroke="#8a3e80" stroke-width="1"/>
<polygon points="612.2,280.7 622.2,284.3 633.6,292.9 642.2,297.2 647.9,302.9 650.7,312.9 653.6,324.3 657.9,335.6 662.2,344.3 660.7,352.9 656.5,361.5 647.9,367.2 636.5,371.5 622.2,377.2 614.4,383.7 606.7,387.2 600.7,393.2 590.0,391.1 583.6,389.7 578.6,387.2 568.6,383.6 550.0,389.3 545.7,377.2 541.5,365.7 537.2,352.9 534.3,344.3 535.6,338.6 537.2,324.3 541.5,315.6 550.0,312.9 558.6,310.0 570.0,300.0 584.3,292.6 593.6,287.2 602.2,282.9" fill="none" stroke="#6a9e58" stroke-width="1"/>
<polygon points="568.0,312.0 575.5,309.2 582.9,308.6 595.5,307.5 597.7,309.7 598.9,313.2 608.0,313.2 619.5,314.9 628.6,319.5 636.5,327.2 641.0,336.6 639.3,340.0 631.6,347.7 626.4,356.3 620.4,359.7 609.3,361.0 602.5,362.3 594.7,363.2 592.2,360.6 585.7,359.1 580.0,360.7 572.9,358.6 562.9,355.7 555.0,352.2 555.0,338.6 557.2,330.0 562.9,318.6" fill="none" stroke="#2c3c88" stroke-width="1"/>
<polygon points="574.9,324.0 587.5,323.5 601.2,322.3 610.3,323.5 616.0,329.7 617.9,339.2 617.0,345.2 606.7,355.0 599.9,355.0 593.0,353.7 587.0,352.0 583.6,350.3 577.2,345.7 566.9,340.0 571.5,330.9" fill="none" stroke="#e07a3a" stroke-width="1"/>
<circle cx="516.5" cy="307.5" r="3.5" fill="#f5dc00"/>
<circle cx="517.9" cy="308.0" r="3.5" fill="#eed600"/>
<circle cx="519.3" cy="308.5" r="3.5" fill="#f9de00"/>
<circle cx="520.8" cy="308.9" r="3.5" fill="#e3c700"/>
<circle cx="522.2" cy="309.4" r="3.5" fill="#fad700"/>
<circle cx="523.6" cy="309.9" r="3.5" fill="#f0ca00"/>
<circle cx="525.0" cy="310.3" r="3.5" fill="#f9ce00"/>
<circle cx="526.5" cy="310.7" r="3.5" fill="#ebbf00"/>
<circle cx="527.9" cy="311.0" r="3.5" fill="#f2c100"/>
<circle cx="529.4" cy="311.4" r="3.5" fill="#f0bd00"/>
<circle cx="530.9" cy="311.7" r="3.5" fill="#f2bc00"/>
<circle cx="532.3" cy="312.2" r="3.5" fill="#ffc600"/>
<circle cx="533.6" cy="312.9" r="3.5" fill="#f7bd00"/>
<circle cx="534.9" cy="313.5" r="3.5" fill="#ffc800"/>
<circle cx="536.3" cy="314.2" r="3.5" fill="#fbbd00"/>
<circle cx="537.6" cy="314.9" r="3.5" fill="#eeb200"/>
<circle cx="539.0" cy="315.6" r="3.5" fill="#fbb900"/>
<circle cx="540.3" cy="316.1" r="3.5" fill="#f6ad00"/>
<circle cx="541.8" cy="316.6" r="3.5" fill="#e69a00"/>
<circle cx="543.2" cy="317.1" r="3.5" fill="#f2a300"/>
<circle cx="544.6" cy="317.6" r="3.5" fill="#e3a600"/>
<circle cx="546.0" cy="318.0" r="3.5" fill="#f3bf00"/>
<circle cx="547.4" cy="318.5" r="3.5" fill="#f8cb00"/>
<circle cx="548.6" cy="319.5" r="3.5" fill="#fdd100"/>
<circle cx="549.7" cy="320.5" r="3.5" fill="#ffdb00"/>
<circle cx="550.9" cy="321.4" r="3.5" fill="#f9d400"/>
<circle cx="552.2" cy="322.1" r="3.5" fill="#e4c500"/>
<circle cx="553.6" cy="322.7" r="3.5" fill="#f2d500"/>
<circle cx="554.9" cy="323.3" r="3.5" fill="#ead100"/>
<circle cx="556.3" cy="323.9" r="3.5" fill="#fae300"/>
<circle cx="557.7" cy="324.4" r="3.5" fill="#feea00"/>
<circle cx="559.1" cy="325.0" r="3.5" fill="#e2d300"/>
<circle cx="560.5" cy="325.6" r="3.5" fill="#f9ea00"/>
<circle cx="561.8" cy="326.2" r="3.5" fill="#e9db00"/>
<circle cx="563.2" cy="326.8" r="3.5" fill="#e5d800"/>
<circle cx="564.6" cy="327.4" r="3.5" fill="#eee200"/>
<circle cx="566.0" cy="328.0" r="3.5" fill="#ede100"/>
<circle cx="567.3" cy="328.6" r="3.5" fill="#e9de00"/>
<circle cx="568.7" cy="329.2" r="3.5" fill="#e8dd00"/>
<circle cx="570.1" cy="329.7" r="3.5" fill="#eee400"/>
<circle cx="571.5" cy="330.2" r="3.5" fill="#f6ed00"/>
<circle cx="572.9" cy="330.7" r="3.5" fill="#e5dd00"/>
<circle cx="574.3" cy="331.2" r="3.5" fill="#ece400"/>
<circle cx="575.8" cy="331.7" r="3.5" fill="#e7e000"/>
<circle cx="577.2" cy="332.2" r="3.5" fill="#f8f100"/>
<circle cx="578.6" cy="332.7" r="3.5" fill="#e8e300"/>
<circle cx="580.0" cy="333.1" r="3.5" fill="#f8f300"/>
<circle cx="581.5" cy="333.5" r="3.5" fill="#e0dc00"/>
<circle cx="582.9" cy="334.0" r="3.5" fill="#fcf900"/>
<circle cx="584.3" cy="334.4" r="3.5" fill="#eeec00"/>
<circle cx="585.8" cy="334.8" r="3.5" fill="#fffc00"/>
<circle cx="587.2" cy="335.2" r="3.5" fill="#faf900"/>
<circle cx="588.7" cy="335.1" r="3.5" fill="#fcfc00"/>
<circle cx="590.2" cy="335.0" r="3.5" fill="#dfe000"/>
<circle cx="591.7" cy="334.9" r="3.5" fill="#f6f800"/>
<circle cx="593.2" cy="334.8" r="3.5" fill="#edf100"/>
<circle cx="594.7" cy="334.7" r="3.5" fill="#f8fd00"/>
<circle cx="596.2" cy="334.6" r="3.5" fill="#ecf200"/>
<circle cx="597.7" cy="334.6" r="3.5" fill="#e4eb00"/>
<circle cx="599.2" cy="334.5" r="3.5" fill="#f4fd01"/>
<circle cx="600.7" cy="334.5" r="3.5" fill="#f3fd03"/>
<circle cx="602.2" cy="334.4" r="3.5" fill="#d6e106"/>
<circle cx="603.7" cy="334.4" r="3.5" fill="#d1dc08"/>
<circle cx="605.2" cy="334.4" r="3.5" fill="#d6e30b"/>
<circle cx="606.7" cy="334.3" r="3.5" fill="#dae80d"/>
<circle cx="608.2" cy="334.3" r="3.5" fill="#c7d60e"/>
<circle cx="609.7" cy="334.3" r="3.5" fill="#d6e50e"/>
<circle cx="611.2" cy="334.2" r="3.5" fill="#d7e50c"/>
<circle cx="612.7" cy="334.1" r="3.5" fill="#e3f00a"/>
<circle cx="614.1" cy="333.9" r="3.5" fill="#d2dd07"/>
<circle cx="615.6" cy="333.7" r="3.5" fill="#d6df05"/>
<circle cx="617.1" cy="333.5" r="3.5" fill="#e5ef02"/>
<circle cx="618.6" cy="333.3" r="3.5" fill="#f0f800"/>
<circle cx="620.1" cy="333.1" r="3.5" fill="#eaf200"/>
<circle cx="621.6" cy="333.0" r="3.5" fill="#eef600"/>
<circle cx="623.0" cy="332.8" r="3.5" fill="#dce500"/>
<circle cx="624.5" cy="332.6" r="3.5" fill="#d4dd00"/>
<circle cx="626.0" cy="332.3" r="3.5" fill="#e8f200"/>
<circle cx="627.5" cy="332.1" r="3.5" fill="#e6f000"/>
<circle cx="629.0" cy="331.9" r="3.5" fill="#d1db00"/>
<circle cx="630.5" cy="331.6" r="3.5" fill="#d2db00"/>
<circle cx="631.9" cy="331.4" r="3.5" fill="#e3ee00"/>
<circle cx="633.4" cy="331.2" r="3.5" fill="#e1ec00"/>
<circle cx="634.9" cy="330.9" r="3.5" fill="#d2dd00"/>
<circle cx="636.4" cy="330.7" r="3.5" fill="#d3dd00"/>
<circle cx="637.8" cy="330.4" r="3.5" fill="#d7e100"/>
<circle cx="639.3" cy="330.2" r="3.5" fill="#c9d401"/>
<circle cx="640.8" cy="329.8" r="3.5" fill="#cfdc03"/>
<circle cx="642.2" cy="329.5" r="3.5" fill="#cad906"/>
<circle cx="643.7" cy="329.1" r="3.5" fill="#c3d207"/>
<circle cx="645.1" cy="328.8" r="3.5" fill="#cfe00a"/>
<circle cx="646.6" cy="328.4" r="3.5" fill="#d8ec0e"/>
<circle cx="648.1" cy="328.1" r="3.5" fill="#bdcf0e"/>
<circle cx="649.5" cy="327.7" r="3.5" fill="#cce111"/>
<circle cx="651.0" cy="327.4" r="3.5" fill="#c7dd14"/>
<circle cx="652.4" cy="327.0" r="3.5" fill="#bcd215"/>
<circle cx="653.8" cy="326.4" r="3.5" fill="#c4dc18"/>
<circle cx="655.1" cy="325.8" r="3.5" fill="#c5de1b"/>
<circle cx="656.5" cy="325.1" r="3.5" fill="#b5ce1a"/>
<circle cx="657.8" cy="324.4" r="3.5" fill="#b7d11c"/>
<circle cx="659.1" cy="323.7" r="3.5" fill="#bad61f"/>
<circle cx="660.5" cy="323.0" r="3.5" fill="#b3cf1f"/>
<circle cx="661.8" cy="322.4" r="3.5" fill="#abc620"/>
<circle cx="663.1" cy="321.6" r="3.5" fill="#afcb22"/>
<circle cx="664.3" cy="320.7" r="3.5" fill="#b4d324"/>
<circle cx="665.6" cy="319.9" r="3.5" fill="#afcd25"/>
<circle cx="666.8" cy="319.1" r="3.5" fill="#a7c525"/>
<circle cx="668.1" cy="318.3" r="3.5" fill="#a4c326"/>
<circle cx="669.4" cy="317.5" r="3.5" fill="#a0bf26"/>
<circle cx="670.6" cy="316.7" r="3.5" fill="#abcd29"/>
<circle cx="671.9" cy="315.9" r="3.5" fill="#aed02a"/>
<circle cx="673.1" cy="315.1" r="3.5" fill="#a0c127"/>
<circle cx="674.4" cy="314.3" r="3.5" fill="#a9cb29"/>
<circle cx="675.7" cy="313.4" r="3.5" fill="#9cbc26"/>
<circle cx="676.9" cy="312.6" r="3.5" fill="#9ebf26"/>
<circle cx="678.3" cy="312.2" r="3.5" fill="#a7cb29"/>
<circle cx="679.8" cy="311.8" r="3.5" fill="#a1c427"/>
<circle cx="681.2" cy="311.5" r="3.5" fill="#a2c628"/>
<circle cx="682.7" cy="311.1" r="3.5" fill="#99bc26"/>
<circle cx="684.2" cy="310.8" r="3.5" fill="#a3c828"/>
<circle cx="685.6" cy="310.5" r="3.5" fill="#a1c728"/>
<circle cx="687.1" cy="310.6" r="3.5" fill="#9cc026"/>
<circle cx="688.6" cy="310.8" r="3.5" fill="#a4cc29"/>
<circle cx="690.1" cy="310.9" r="3.5" fill="#9bc026"/>
<circle cx="691.6" cy="311.0" r="3.5" fill="#9dc427"/>
<circle cx="577.6" cy="252.3" r="3.5" fill="#aec51e"/>
<circle cx="578.0" cy="253.7" r="3.5" fill="#d4d518"/>
<circle cx="578.4" cy="255.2" r="3.5" fill="#e3c80b"/>
<circle cx="578.8" cy="256.6" r="3.5" fill="#ffcb00"/>
<circle cx="579.2" cy="258.0" r="3.5" fill="#f3ba00"/>
<circle cx="579.6" cy="259.5" r="3.5" fill="#ffc400"/>
<circle cx="579.9" cy="260.9" r="3.5" fill="#febf00"/>
<circle cx="580.3" cy="262.4" r="3.5" fill="#e8ad00"/>
<circle cx="580.5" cy="263.8" r="3.5" fill="#ffc200"/>
<circle cx="580.6" cy="265.3" r="3.5" fill="#f8b600"/>
<circle cx="580.7" cy="266.8" r="3.5" fill="#f2b000"/>
<circle cx="580.8" cy="268.3" r="3.5" fill="#f4b400"/>
<circle cx="580.9" cy="269.8" r="3.5" fill="#f0b300"/>
<circle cx="581.1" cy="271.3" r="3.5" fill="#ffc200"/>
<circle cx="581.2" cy="272.7" r="3.5" fill="#f6bc00"/>
<circle cx="581.7" cy="274.1" r="3.5" fill="#f5be00"/>
<circle cx="582.4" cy="275.5" r="3.5" fill="#f6c000"/>
<circle cx="583.0" cy="276.8" r="3.5" fill="#ffc900"/>
<circle cx="583.7" cy="278.1" r="3.5" fill="#fbc300"/>
<circle cx="584.3" cy="279.5" r="3.5" fill="#efb700"/>
<circle cx="585.0" cy="280.8" r="3.5" fill="#fbbe00"/>
<circle cx="585.6" cy="282.1" r="3.5" fill="#ffc500"/>
<circle cx="586.2" cy="283.5" r="3.5" fill="#f3b200"/>
<circle cx="586.7" cy="284.9" r="3.5" fill="#ffbc00"/>
<circle cx="587.1" cy="286.3" r="3.5" fill="#ffb900"/>
<circle cx="587.5" cy="287.8" r="3.5" fill="#f7ae00"/>
<circle cx="588.0" cy="289.2" r="3.5" fill="#ffba00"/>
<circle cx="588.4" cy="290.6" r="3.5" fill="#efa700"/>
<circle cx="588.9" cy="292.0" r="3.5" fill="#efa500"/>
<circle cx="589.3" cy="293.5" r="3.5" fill="#f5a900"/>
<circle cx="589.6" cy="294.9" r="3.5" fill="#eba000"/>
<circle cx="589.7" cy="296.4" r="3.5" fill="#e99e00"/>
<circle cx="589.8" cy="297.9" r="3.5" fill="#f3a400"/>
<circle cx="589.9" cy="299.4" r="3.5" fill="#f8a700"/>
<circle cx="590.0" cy="300.8" r="3.5" fill="#fba800"/>
<circle cx="590.0" cy="302.3" r="3.5" fill="#ffaf00"/>
<circle cx="590.1" cy="303.8" r="3.5" fill="#faa700"/>
<circle cx="590.2" cy="305.3" r="3.5" fill="#f9a600"/>
<circle cx="590.3" cy="306.8" r="3.5" fill="#e79601"/>
<circle cx="590.4" cy="308.3" r="3.5" fill="#e47f07"/>
<circle cx="590.6" cy="309.7" r="3.5" fill="#f26e0d"/>
<circle cx="590.8" cy="311.2" r="3.5" fill="#e85c10"/>
<circle cx="591.0" cy="312.7" r="3.5" fill="#ff6215"/>
<circle cx="591.2" cy="314.2" r="3.5" fill="#fb5d18"/>
<circle cx="591.6" cy="315.6" r="3.5" fill="#e66711"/>
<circle cx="592.2" cy="316.9" r="3.5" fill="#e57d09"/>
<circle cx="592.9" cy="318.2" r="3.5" fill="#ffa802"/>
<circle cx="593.6" cy="319.6" r="3.5" fill="#ffb400"/>
<circle cx="594.3" cy="320.9" r="3.5" fill="#ffb000"/>
<circle cx="594.9" cy="322.2" r="3.5" fill="#e9a100"/>
<circle cx="595.0" cy="323.7" r="3.5" fill="#ffb700"/>
<circle cx="595.1" cy="325.2" r="3.5" fill="#ffb300"/>
<circle cx="595.2" cy="326.7" r="3.5" fill="#ffb900"/>
<circle cx="595.3" cy="328.2" r="3.5" fill="#fdb500"/>
<circle cx="595.4" cy="329.7" r="3.5" fill="#feb700"/>
<circle cx="595.5" cy="331.2" r="3.5" fill="#ffbe00"/>
<circle cx="595.6" cy="332.6" r="3.5" fill="#f5b200"/>
<circle cx="595.7" cy="334.1" r="3.5" fill="#edad00"/>
<circle cx="595.8" cy="335.6" r="3.5" fill="#edad00"/>
<circle cx="595.9" cy="337.1" r="3.5" fill="#f4b200"/>
<circle cx="596.0" cy="338.6" r="3.5" fill="#ffbe00"/>
<circle cx="596.1" cy="340.1" r="3.5" fill="#ffbf00"/>
<circle cx="596.2" cy="341.5" r="3.5" fill="#f5b500"/>
<circle cx="596.4" cy="343.0" r="3.5" fill="#eeb000"/>
<circle cx="596.5" cy="344.5" r="3.5" fill="#ebad00"/>
<circle cx="596.6" cy="346.0" r="3.5" fill="#f1b300"/>
<circle cx="596.7" cy="347.5" r="3.5" fill="#ffc000"/>
<circle cx="596.8" cy="349.0" r="3.5" fill="#e9ab00"/>
<circle cx="596.9" cy="350.5" r="3.5" fill="#fcb800"/>
<circle cx="597.1" cy="351.9" r="3.5" fill="#ffbf00"/>
<circle cx="597.4" cy="353.4" r="3.5" fill="#f9b400"/>
<circle cx="597.6" cy="354.9" r="3.5" fill="#ffb600"/>
<circle cx="597.8" cy="356.4" r="3.5" fill="#e8a500"/>
<circle cx="598.0" cy="357.8" r="3.5" fill="#f7b100"/>
<circle cx="598.2" cy="359.3" r="3.5" fill="#ffba00"/>
<circle cx="598.8" cy="360.6" r="3.5" fill="#ecaf00"/>
<circle cx="599.6" cy="361.9" r="3.5" fill="#f0b500"/>
<circle cx="600.4" cy="363.2" r="3.5" fill="#f8bd00"/>
<circle cx="601.2" cy="364.4" r="3.5" fill="#ffc900"/>
<circle cx="601.9" cy="365.7" r="3.5" fill="#fbc400"/>
<circle cx="602.7" cy="367.0" r="3.5" fill="#fcc600"/>
<circle cx="603.4" cy="368.3" r="3.5" fill="#f9c300"/>
<circle cx="604.1" cy="369.6" r="3.5" fill="#f0ba00"/>
<circle cx="604.8" cy="370.9" r="3.5" fill="#ffca00"/>
<circle cx="605.5" cy="372.2" r="3.5" fill="#ffc300"/>
<circle cx="606.2" cy="373.5" r="3.5" fill="#e8ae00"/>
<circle cx="606.9" cy="374.8" r="3.5" fill="#ffc400"/>
<circle cx="607.6" cy="376.2" r="3.5" fill="#ffbb00"/>
<circle cx="608.0" cy="377.6" r="3.5" fill="#eaa700"/>
<circle cx="608.5" cy="379.0" r="3.5" fill="#ffb300"/>
<circle cx="608.9" cy="380.4" r="3.5" fill="#ffb500"/>
<circle cx="609.3" cy="381.9" r="3.5" fill="#f4a400"/>
<circle cx="609.8" cy="383.3" r="3.5" fill="#fca500"/>
<circle cx="610.2" cy="384.7" r="3.5" fill="#eb9800"/>
<circle cx="610.8" cy="386.1" r="3.5" fill="#f1a300"/>
<circle cx="611.5" cy="387.4" r="3.5" fill="#eea900"/>
<circle cx="612.2" cy="388.7" r="3.5" fill="#edaf00"/>
<circle cx="612.9" cy="390.0" r="3.5" fill="#f1b900"/>
<circle cx="613.6" cy="391.3" r="3.5" fill="#efbf00"/>
<circle cx="614.3" cy="392.6" r="3.5" fill="#fbca00"/>
<circle cx="615.0" cy="394.0" r="3.5" fill="#ffcb00"/>
<circle cx="615.7" cy="395.3" r="3.5" fill="#ffd300"/>
<circle cx="616.4" cy="396.6" r="3.5" fill="#ffd200"/>
<circle cx="617.3" cy="397.8" r="3.5" fill="#e7b600"/>
<circle cx="618.2" cy="399.0" r="3.5" fill="#ffcc00"/>
<circle cx="619.0" cy="400.2" r="3.5" fill="#f0bb00"/>
<circle cx="619.9" cy="401.4" r="3.5" fill="#f4bd00"/>
<circle cx="620.8" cy="402.6" r="3.5" fill="#ffd200"/>
<circle cx="621.6" cy="403.8" r="3.5" fill="#e8c100"/>
<circle cx="622.5" cy="405.0" r="3.5" fill="#ffdd00"/>
<circle cx="623.3" cy="406.2" r="3.5" fill="#ead000"/>
<circle cx="624.2" cy="407.5" r="3.5" fill="#ffe700"/>
<circle cx="625.1" cy="408.7" r="3.5" fill="#ead500"/>
<circle cx="625.9" cy="409.9" r="3.5" fill="#f0dd00"/>
<circle cx="626.8" cy="411.1" r="3.5" fill="#e0d000"/>
<polygon points="575.0,276.9 577.2,273.0 579.4,276.9" fill="#a80c0c"/>
<polygon points="660.0,283.4 662.2,279.5 664.4,283.4" fill="#a80c0c"/>
<polygon points="594.6,316.2 596.8,312.3 599.0,316.2" fill="#a80c0c"/>
<polygon points="639.3,323.4 641.5,319.5 643.7,323.4" fill="#a80c0c"/>
<polygon points="583.5,341.9 585.7,338.0 587.9,341.9" fill="#a80c0c"/>
<polygon points="588.1,359.6 590.3,355.7 592.5,359.6" fill="#a80c0c"/>
<polygon points="614.8,353.3 617.0,349.4 619.2,353.3" fill="#a80c0c"/>
<polygon points="637.1,363.7 639.3,359.8 641.5,363.7" fill="#a80c0c"/>
<polygon points="523.5,375.5 525.7,371.6 527.9,375.5" fill="#a80c0c"/>
<polygon points="599.3,389.1 601.5,385.2 603.7,389.1" fill="#a80c0c"/>
<text x="576.4" y="269.7" class="lb">44.8</text>
<text x="660.0" y="276.9" class="lb">23.2</text>
<text x="595.6" y="308.9" class="lb">80</text>
<text x="640.0" y="316.3" class="lb">21.8</text>
<text x="584.7" y="335.2" class="lb">67.4</text>
<text x="615.6" y="345.4" class="lb">55.2</text>
<text x="588.7" y="352.3" class="lb">66.6</text>
<text x="637.2" y="356.9" class="lb">42.6</text>
<text x="523.6" y="368.3" class="lb">70.2</text>
<text x="599.3" y="381.3" class="lb">63.4</text>
</g>
<g>
<polygon points="177.0,459.9 183.4,454.7 189.9,452.8 199.9,454.0 206.3,454.0 220.6,445.4 237.8,445.4 243.5,448.3 250.6,455.4 260.6,458.3 259.2,465.4 254.9,472.6 253.5,476.9 263.5,481.0 273.5,485.4 280.6,491.0 289.2,496.9 293.5,504.0 293.5,515.4 290.6,524.0 289.2,544.0 290.6,551.1 292.0,561.1 287.8,571.1 280.6,581.1 269.2,592.6 260.6,601.1 249.2,606.9 234.9,614.0 223.5,619.7 213.5,628.3 204.9,635.4 196.9,641.0 192.8,638.3 182.8,634.0 174.2,631.9 168.5,634.0 147.0,634.0 137.0,632.6 128.5,625.4 122.8,615.4 117.0,604.0 111.3,589.7 108.5,579.7 104.2,572.6 102.2,567.5 102.1,552.0 102.3,544.0 102.8,538.3 108.5,524.0 114.2,512.6 120.5,508.1 125.6,503.6 130.7,497.1 135.9,490.7 139.7,484.3 143.6,477.8 148.7,474.6 156.5,470.1 164.2,466.3 171.9,463.1" fill="none" stroke="#8a3e80" stroke-width="1"/>
<polygon points="213.5,486.1 223.5,489.7 234.9,498.3 243.5,502.6 249.2,508.3 252.0,518.3 254.9,529.7 259.2,541.0 263.5,549.7 262.0,558.3 257.8,566.9 249.2,572.6 237.8,576.9 223.5,582.6 215.7,589.1 208.0,592.6 202.0,598.6 191.3,596.5 184.9,595.1 179.9,592.6 169.9,589.0 151.3,594.7 147.0,582.6 142.8,571.1 138.5,558.3 135.6,549.7 136.9,544.0 138.5,529.7 142.8,521.0 151.3,518.3 159.9,515.4 171.3,505.4 185.6,498.0 194.9,492.6 203.5,488.3" fill="none" stroke="#6a9e58" stroke-width="1"/>
<polygon points="169.3,517.4 176.8,514.6 184.2,514.0 196.8,512.9 199.0,515.1 200.2,518.6 209.3,518.6 220.8,520.3 229.9,524.9 237.8,532.6 242.3,542.0 240.6,545.4 232.9,553.1 227.7,561.7 221.7,565.1 210.6,566.4 203.8,567.7 196.0,568.6 193.5,566.0 187.0,564.5 181.3,566.1 174.2,564.0 164.2,561.1 156.3,557.6 156.3,544.0 158.5,535.4 164.2,524.0" fill="none" stroke="#2c3c88" stroke-width="1"/>
<polygon points="176.2,529.4 188.8,528.9 202.5,527.7 211.6,528.9 217.3,535.1 219.2,544.6 218.3,550.6 208.0,560.4 201.2,560.4 194.3,559.1 188.3,557.4 184.9,555.7 178.5,551.1 168.2,545.4 172.8,536.3" fill="none" stroke="#e07a3a" stroke-width="1"/>
<circle cx="120.2" cy="510.4" r="3.5" fill="#4a9013"/>
<circle cx="121.5" cy="511.1" r="3.5" fill="#579b16"/>
<circle cx="122.8" cy="511.9" r="3.5" fill="#5b9817"/>
<circle cx="124.1" cy="512.6" r="3.5" fill="#6aa319"/>
<circle cx="125.4" cy="513.4" r="3.5" fill="#6fa31a"/>
<circle cx="126.7" cy="514.1" r="3.5" fill="#78a71c"/>
<circle cx="128.0" cy="514.8" r="3.5" fill="#87b31f"/>
<circle cx="129.3" cy="515.6" r="3.5" fill="#8fb51b"/>
<circle cx="130.7" cy="516.2" r="3.5" fill="#9fc119"/>
<circle cx="132.1" cy="516.8" r="3.5" fill="#b5d517"/>
<circle cx="133.5" cy="517.3" r="3.5" fill="#afc712"/>
<circle cx="134.8" cy="517.9" r="3.5" fill="#cae010"/>
<circle cx="136.2" cy="518.5" r="3.5" fill="#bace11"/>
<circle cx="137.6" cy="519.1" r="3.5" fill="#c7e015"/>
<circle cx="139.0" cy="519.7" r="3.5" fill="#c1db18"/>
<circle cx="140.4" cy="520.2" r="3.5" fill="#afc918"/>
<circle cx="141.8" cy="520.7" r="3.5" fill="#bbd81c"/>
<circle cx="143.2" cy="521.2" r="3.5" fill="#b2d11e"/>
<circle cx="144.6" cy="521.7" r="3.5" fill="#9fbd1e"/>
<circle cx="146.1" cy="522.2" r="3.5" fill="#9fc11f"/>
<circle cx="147.4" cy="522.7" r="3.5" fill="#9cc51f"/>
<circle cx="148.7" cy="523.5" r="3.5" fill="#99c71f"/>
<circle cx="150.0" cy="524.3" r="3.5" fill="#83b01b"/>
<circle cx="151.2" cy="525.1" r="3.5" fill="#7dae1a"/>
<circle cx="152.5" cy="525.9" r="3.5" fill="#7eb71b"/>
<circle cx="153.8" cy="526.7" r="3.5" fill="#78b61b"/>
<circle cx="155.1" cy="527.5" r="3.5" fill="#639e17"/>
<circle cx="156.4" cy="528.2" r="3.5" fill="#5f9c16"/>
<circle cx="157.7" cy="529.0" r="3.5" fill="#64a818"/>
<circle cx="159.0" cy="529.7" r="3.5" fill="#5b9c15"/>
<circle cx="160.4" cy="530.3" r="3.5" fill="#589b16"/>
<circle cx="161.7" cy="530.9" r="3.5" fill="#58a216"/>
<circle cx="163.1" cy="531.5" r="3.5" fill="#539d16"/>
<circle cx="164.5" cy="532.1" r="3.5" fill="#4d9814"/>
<circle cx="165.9" cy="532.7" r="3.5" fill="#4d9b15"/>
<circle cx="167.2" cy="533.3" r="3.5" fill="#4a9714"/>
<circle cx="168.6" cy="533.8" r="3.5" fill="#499814"/>
<circle cx="170.0" cy="534.4" r="3.5" fill="#469413"/>
<circle cx="171.4" cy="534.9" r="3.5" fill="#449212"/>
<circle cx="172.9" cy="535.4" r="3.5" fill="#3e8611"/>
<circle cx="174.3" cy="535.9" r="3.5" fill="#449613"/>
<circle cx="175.7" cy="536.4" r="3.5" fill="#439512"/>
<circle cx="177.1" cy="537.0" r="3.5" fill="#3c8911"/>
<circle cx="178.5" cy="537.5" r="3.5" fill="#3d8d10"/>
<circle cx="179.9" cy="538.0" r="3.5" fill="#36810f"/>
<circle cx="181.3" cy="538.5" r="3.5" fill="#3a8a10"/>
<circle cx="182.7" cy="539.0" r="3.5" fill="#3b8c10"/>
<circle cx="184.1" cy="539.5" r="3.5" fill="#388610"/>
<circle cx="185.5" cy="540.1" r="3.5" fill="#398810"/>
<circle cx="186.9" cy="540.6" r="3.5" fill="#3d9011"/>
<circle cx="188.4" cy="540.5" r="3.5" fill="#37830f"/>
<circle cx="189.9" cy="540.4" r="3.5" fill="#3a8910"/>
<circle cx="191.4" cy="540.4" r="3.5" fill="#37820f"/>
<circle cx="192.9" cy="540.3" r="3.5" fill="#398810"/>
<circle cx="194.4" cy="540.2" r="3.5" fill="#3d9111"/>
<circle cx="195.9" cy="540.1" r="3.5" fill="#3b8c10"/>
<circle cx="197.4" cy="540.0" r="3.5" fill="#36810f"/>
<circle cx="198.9" cy="540.0" r="3.5" fill="#3d9111"/>
<circle cx="200.4" cy="539.9" r="3.5" fill="#3b8d10"/>
<circle cx="201.9" cy="539.9" r="3.5" fill="#3a8a10"/>
<circle cx="203.4" cy="539.8" r="3.5" fill="#388610"/>
<circle cx="204.9" cy="539.8" r="3.5" fill="#388610"/>
<circle cx="206.4" cy="539.8" r="3.5" fill="#37840f"/>
<circle cx="207.9" cy="539.7" r="3.5" fill="#3b8c10"/>
<circle cx="209.4" cy="539.7" r="3.5" fill="#36810f"/>
<circle cx="210.9" cy="539.7" r="3.5" fill="#3e9311"/>
<circle cx="212.4" cy="539.6" r="3.5" fill="#37820f"/>
<circle cx="213.9" cy="539.5" r="3.5" fill="#3b8c10"/>
<circle cx="215.4" cy="539.4" r="3.5" fill="#3b8b10"/>
<circle cx="216.9" cy="539.2" r="3.5" fill="#398710"/>
<circle cx="218.3" cy="539.0" r="3.5" fill="#388610"/>
<circle cx="219.8" cy="538.8" r="3.5" fill="#3a8910"/>
<circle cx="221.3" cy="538.6" r="3.5" fill="#398710"/>
<circle cx="222.8" cy="538.4" r="3.5" fill="#3e9311"/>
<circle cx="224.3" cy="538.2" r="3.5" fill="#3b8d10"/>
<circle cx="225.8" cy="538.0" r="3.5" fill="#3a8a10"/>
<circle cx="227.3" cy="537.8" r="3.5" fill="#3b8d10"/>
<circle cx="228.7" cy="537.5" r="3.5" fill="#3a8a10"/>
<circle cx="230.2" cy="537.3" r="3.5" fill="#37830f"/>
<circle cx="231.7" cy="537.0" r="3.5" fill="#36810f"/>
<circle cx="233.2" cy="536.8" r="3.5" fill="#3e9311"/>
<circle cx="234.7" cy="536.6" r="3.5" fill="#3d9111"/>
<circle cx="236.1" cy="536.3" r="3.5" fill="#37820f"/>
<circle cx="237.6" cy="536.1" r="3.5" fill="#3b8c10"/>
<circle cx="239.1" cy="535.8" r="3.5" fill="#3c9011"/>
<circle cx="240.6" cy="535.6" r="3.5" fill="#3d9211"/>
<circle cx="242.0" cy="535.3" r="3.5" fill="#36820f"/>
<circle cx="243.5" cy="534.9" r="3.5" fill="#37830f"/>
<circle cx="244.9" cy="534.5" r="3.5" fill="#398810"/>
<circle cx="246.4" cy="534.2" r="3.5" fill="#3b8c10"/>
<circle cx="247.9" cy="533.8" r="3.5" fill="#37820f"/>
<circle cx="249.3" cy="533.5" r="3.5" fill="#3c8e10"/>
<circle cx="250.8" cy="533.1" r="3.5" fill="#3c8f11"/>
<circle cx="252.2" cy="532.8" r="3.5" fill="#3a8910"/>
<circle cx="253.7" cy="532.4" r="3.5" fill="#3d9111"/>
<circle cx="255.1" cy="531.9" r="3.5" fill="#398810"/>
<circle cx="256.4" cy="531.2" r="3.5" fill="#3d9011"/>
<circle cx="257.7" cy="530.5" r="3.5" fill="#398810"/>
<circle cx="259.1" cy="529.8" r="3.5" fill="#398810"/>
<circle cx="260.4" cy="529.1" r="3.5" fill="#398810"/>
<circle cx="261.7" cy="528.4" r="3.5" fill="#3c8e10"/>
<circle cx="263.1" cy="527.8" r="3.5" fill="#3d9111"/>
<circle cx="264.4" cy="527.0" r="3.5" fill="#37820f"/>
<circle cx="265.6" cy="526.2" r="3.5" fill="#3b8c10"/>
<circle cx="266.9" cy="525.3" r="3.5" fill="#3d9011"/>
<circle cx="268.1" cy="524.5" r="3.5" fill="#3c8e10"/>
<circle cx="269.4" cy="523.7" r="3.5" fill="#38850f"/>
<circle cx="270.6" cy="522.9" r="3.5" fill="#398710"/>
<circle cx="271.9" cy="522.1" r="3.5" fill="#3d9111"/>
<circle cx="273.2" cy="521.3" r="3.5" fill="#38850f"/>
<circle cx="274.4" cy="520.5" r="3.5" fill="#3e9311"/>
<circle cx="275.7" cy="519.7" r="3.5" fill="#398810"/>
<circle cx="277.0" cy="518.9" r="3.5" fill="#3a8a10"/>
<circle cx="278.2" cy="518.0" r="3.5" fill="#3c8e10"/>
<circle cx="279.6" cy="517.6" r="3.5" fill="#3b8e10"/>
<circle cx="281.1" cy="517.2" r="3.5" fill="#3b8c10"/>
<circle cx="282.5" cy="516.9" r="3.5" fill="#3d9111"/>
<circle cx="284.0" cy="516.5" r="3.5" fill="#3b8d10"/>
<circle cx="285.5" cy="516.2" r="3.5" fill="#3d9211"/>
<circle cx="286.9" cy="515.9" r="3.5" fill="#3b8d10"/>
<circle cx="288.4" cy="516.0" r="3.5" fill="#3b8c10"/>
<circle cx="289.9" cy="516.2" r="3.5" fill="#36810f"/>
<circle cx="291.4" cy="516.3" r="3.5" fill="#3d9211"/>
<circle cx="292.9" cy="516.4" r="3.5" fill="#38850f"/>
<circle cx="178.9" cy="457.7" r="3.5" fill="#478e13"/>
<circle cx="179.3" cy="459.1" r="3.5" fill="#458b13"/>
<circle cx="179.7" cy="460.6" r="3.5" fill="#4b9714"/>
<circle cx="180.1" cy="462.0" r="3.5" fill="#499114"/>
<circle cx="180.5" cy="463.4" r="3.5" fill="#4c9714"/>
<circle cx="180.9" cy="464.9" r="3.5" fill="#4d9a15"/>
<circle cx="181.2" cy="466.3" r="3.5" fill="#4f9d15"/>
<circle cx="181.6" cy="467.8" r="3.5" fill="#4d9a15"/>
<circle cx="181.8" cy="469.2" r="3.5" fill="#4e9b15"/>
<circle cx="181.9" cy="470.7" r="3.5" fill="#499214"/>
<circle cx="182.0" cy="472.2" r="3.5" fill="#458b13"/>
<circle cx="182.1" cy="473.7" r="3.5" fill="#4d9a15"/>
<circle cx="182.2" cy="475.2" r="3.5" fill="#4f9e15"/>
<circle cx="182.4" cy="476.7" r="3.5" fill="#4a9314"/>
<circle cx="182.5" cy="478.1" r="3.5" fill="#4e9c15"/>
<circle cx="183.0" cy="479.5" r="3.5" fill="#4b9514"/>
<circle cx="183.7" cy="480.9" r="3.5" fill="#499214"/>
<circle cx="184.3" cy="482.2" r="3.5" fill="#4d9b15"/>
<circle cx="185.0" cy="483.5" r="3.5" fill="#458b13"/>
<circle cx="185.6" cy="484.9" r="3.5" fill="#499114"/>
<circle cx="186.3" cy="486.2" r="3.5" fill="#4c9815"/>
<circle cx="186.9" cy="487.5" r="3.5" fill="#468b13"/>
<circle cx="187.5" cy="488.9" r="3.5" fill="#4b9514"/>
<circle cx="188.0" cy="490.3" r="3.5" fill="#499214"/>
<circle cx="188.4" cy="491.7" r="3.5" fill="#478e13"/>
<circle cx="188.8" cy="493.2" r="3.5" fill="#489214"/>
<circle cx="189.3" cy="494.6" r="3.5" fill="#4b9815"/>
<circle cx="189.7" cy="496.0" r="3.5" fill="#4a9713"/>
<circle cx="190.2" cy="497.4" r="3.5" fill="#489413"/>
<circle cx="190.6" cy="498.9" r="3.5" fill="#499814"/>
<circle cx="190.9" cy="500.3" r="3.5" fill="#458f13"/>
<circle cx="191.0" cy="501.8" r="3.5" fill="#469313"/>
<circle cx="191.1" cy="503.3" r="3.5" fill="#408811"/>
<circle cx="191.2" cy="504.8" r="3.5" fill="#459312"/>
<circle cx="191.3" cy="506.2" r="3.5" fill="#449212"/>
<circle cx="191.3" cy="507.7" r="3.5" fill="#439212"/>
<circle cx="191.4" cy="509.2" r="3.5" fill="#449413"/>
<circle cx="191.5" cy="510.7" r="3.5" fill="#449813"/>
<circle cx="191.6" cy="512.2" r="3.5" fill="#419112"/>
<circle cx="191.7" cy="513.7" r="3.5" fill="#429612"/>
<circle cx="191.9" cy="515.1" r="3.5" fill="#3f8f11"/>
<circle cx="192.1" cy="516.6" r="3.5" fill="#3b8810"/>
<circle cx="192.3" cy="518.1" r="3.5" fill="#3f9212"/>
<circle cx="192.5" cy="519.6" r="3.5" fill="#3c8e10"/>
<circle cx="192.9" cy="521.0" r="3.5" fill="#3c8c10"/>
<circle cx="193.5" cy="522.3" r="3.5" fill="#37830f"/>
<circle cx="194.2" cy="523.6" r="3.5" fill="#3c8b10"/>
<circle cx="194.9" cy="525.0" r="3.5" fill="#3a8810"/>
<circle cx="195.6" cy="526.3" r="3.5" fill="#3c8c10"/>
<circle cx="196.2" cy="527.6" r="3.5" fill="#409311"/>
<circle cx="196.3" cy="529.1" r="3.5" fill="#3b8911"/>
<circle cx="196.4" cy="530.6" r="3.5" fill="#398310"/>
<circle cx="196.5" cy="532.1" r="3.5" fill="#3a8510"/>
<circle cx="196.6" cy="533.6" r="3.5" fill="#3e8d11"/>
<circle cx="196.7" cy="535.1" r="3.5" fill="#419412"/>
<circle cx="196.8" cy="536.6" r="3.5" fill="#3b8410"/>
<circle cx="196.9" cy="538.0" r="3.5" fill="#3e8b11"/>
<circle cx="197.0" cy="539.5" r="3.5" fill="#3f8b11"/>
<circle cx="197.1" cy="541.0" r="3.5" fill="#3f8d12"/>
<circle cx="197.2" cy="542.5" r="3.5" fill="#429112"/>
<circle cx="197.3" cy="544.0" r="3.5" fill="#418e12"/>
<circle cx="197.4" cy="545.5" r="3.5" fill="#408a11"/>
<circle cx="197.5" cy="546.9" r="3.5" fill="#459613"/>
<circle cx="197.7" cy="548.4" r="3.5" fill="#459513"/>
<circle cx="197.8" cy="549.9" r="3.5" fill="#479813"/>
<circle cx="197.9" cy="551.4" r="3.5" fill="#3f8811"/>
<circle cx="198.0" cy="552.9" r="3.5" fill="#449112"/>
<circle cx="198.1" cy="554.4" r="3.5" fill="#418b12"/>
<circle cx="198.2" cy="555.9" r="3.5" fill="#418912"/>
<circle cx="198.4" cy="557.3" r="3.5" fill="#499a14"/>
<circle cx="198.7" cy="558.8" r="3.5" fill="#489413"/>
<circle cx="198.9" cy="560.3" r="3.5" fill="#469113"/>
<circle cx="199.1" cy="561.8" r="3.5" fill="#4a9714"/>
<circle cx="199.3" cy="563.2" r="3.5" fill="#4a9914"/>
<circle cx="199.5" cy="564.7" r="3.5" fill="#489213"/>
<circle cx="200.1" cy="566.0" r="3.5" fill="#448b13"/>
<circle cx="200.9" cy="567.3" r="3.5" fill="#4c9b15"/>
<circle cx="201.7" cy="568.6" r="3.5" fill="#499314"/>
<circle cx="202.5" cy="569.8" r="3.5" fill="#489214"/>
<circle cx="203.2" cy="571.1" r="3.5" fill="#478e13"/>
<circle cx="204.0" cy="572.4" r="3.5" fill="#4a9414"/>
<circle cx="204.7" cy="573.7" r="3.5" fill="#509d15"/>
<circle cx="205.4" cy="575.0" r="3.5" fill="#539f15"/>
<circle cx="206.1" cy="576.3" r="3.5" fill="#4b8f14"/>
<circle cx="206.8" cy="577.6" r="3.5" fill="#4d9014"/>
<circle cx="207.5" cy="578.9" r="3.5" fill="#59a516"/>
<circle cx="208.2" cy="580.2" r="3.5" fill="#559c15"/>
<circle cx="208.9" cy="581.6" r="3.5" fill="#589f16"/>
<circle cx="209.3" cy="583.0" r="3.5" fill="#5aa117"/>
<circle cx="209.8" cy="584.4" r="3.5" fill="#599c16"/>
<circle cx="210.2" cy="585.8" r="3.5" fill="#5b9d16"/>
<circle cx="210.6" cy="587.3" r="3.5" fill="#63a817"/>
<circle cx="211.1" cy="588.7" r="3.5" fill="#61a417"/>
<circle cx="211.5" cy="590.1" r="3.5" fill="#5b9715"/>
<circle cx="212.1" cy="591.5" r="3.5" fill="#5d9916"/>
<circle cx="212.8" cy="592.8" r="3.5" fill="#6aad18"/>
<circle cx="213.5" cy="594.1" r="3.5" fill="#67a818"/>
<circle cx="214.2" cy="595.4" r="3.5" fill="#6cad19"/>
<circle cx="214.9" cy="596.7" r="3.5" fill="#6aa818"/>
<circle cx="215.6" cy="598.0" r="3.5" fill="#7eb615"/>
<circle cx="216.3" cy="599.4" r="3.5" fill="#8cb810"/>
<circle cx="217.0" cy="600.7" r="3.5" fill="#a1c40b"/>
<circle cx="217.7" cy="602.0" r="3.5" fill="#b4cd07"/>
<circle cx="218.6" cy="603.2" r="3.5" fill="#c5d703"/>
<circle cx="219.5" cy="604.4" r="3.5" fill="#dbec02"/>
<circle cx="220.3" cy="605.6" r="3.5" fill="#b5d70b"/>
<circle cx="221.2" cy="606.8" r="3.5" fill="#8cbb11"/>
<circle cx="222.1" cy="608.0" r="3.5" fill="#639d16"/>
<circle cx="222.9" cy="609.2" r="3.5" fill="#6caf18"/>
<circle cx="223.8" cy="610.4" r="3.5" fill="#65aa18"/>
<circle cx="224.6" cy="611.6" r="3.5" fill="#5fa316"/>
<circle cx="225.5" cy="612.9" r="3.5" fill="#5fa717"/>
<circle cx="226.4" cy="614.1" r="3.5" fill="#57a116"/>
<circle cx="227.2" cy="615.3" r="3.5" fill="#519a15"/>
<circle cx="228.1" cy="616.5" r="3.5" fill="#4a9214"/>
<polygon points="176.3,482.3 178.5,478.4 180.7,482.3" fill="#a80c0c"/>
<polygon points="261.3,488.8 263.5,484.9 265.7,488.8" fill="#a80c0c"/>
<polygon points="195.9,521.6 198.1,517.7 200.3,521.6" fill="#a80c0c"/>
<polygon points="240.6,528.8 242.8,524.9 245.0,528.8" fill="#a80c0c"/>
<polygon points="184.8,547.3 187.0,543.4 189.2,547.3" fill="#a80c0c"/>
<polygon points="189.4,565.0 191.6,561.1 193.8,565.0" fill="#a80c0c"/>
<polygon points="216.1,558.7 218.3,554.8 220.5,558.7" fill="#a80c0c"/>
<polygon points="238.4,569.1 240.6,565.2 242.8,569.1" fill="#a80c0c"/>
<polygon points="124.8,580.9 127.0,577.0 129.2,580.9" fill="#a80c0c"/>
<polygon points="200.6,594.5 202.8,590.6 205.0,594.5" fill="#a80c0c"/>
</g>
<g>
<polygon points="376.1,460.7 382.5,455.5 389.0,453.6 399.0,454.8 405.4,454.8 419.7,446.2 436.9,446.2 442.6,449.1 449.7,456.2 459.7,459.1 458.3,466.2 454.0,473.4 452.6,477.7 462.6,481.8 472.6,486.2 479.7,491.8 488.3,497.7 492.6,504.8 492.6,516.2 489.7,524.8 488.3,544.8 489.7,551.9 491.1,561.9 486.9,571.9 479.7,581.9 468.3,593.4 459.7,601.9 448.3,607.7 434.0,614.8 422.6,620.5 412.6,629.1 404.0,636.2 396.0,641.8 391.9,639.1 381.9,634.8 373.3,632.7 367.6,634.8 346.1,634.8 336.1,633.4 327.6,626.2 321.9,616.2 316.1,604.8 310.4,590.5 307.6,580.5 303.3,573.4 301.3,568.3 301.2,552.8 301.4,544.8 301.9,539.1 307.6,524.8 313.3,513.4 319.6,508.9 324.7,504.4 329.8,497.9 335.0,491.5 338.8,485.1 342.7,478.6 347.8,475.4 355.6,470.9 363.3,467.1 371.0,463.9" fill="none" stroke="#8a3e80" stroke-width="1"/>
<polygon points="412.6,486.9 422.6,490.5 434.0,499.1 442.6,503.4 448.3,509.1 451.1,519.1 454.0,530.5 458.3,541.8 462.6,550.5 461.1,559.1 456.9,567.7 448.3,573.4 436.9,577.7 422.6,583.4 414.8,589.9 407.1,593.4 401.1,599.4 390.4,597.3 384.0,595.9 379.0,593.4 369.0,589.8 350.4,595.5 346.1,583.4 341.9,571.9 337.6,559.1 334.7,550.5 336.0,544.8 337.6,530.5 341.9,521.8 350.4,519.1 359.0,516.2 370.4,506.2 384.7,498.8 394.0,493.4 402.6,489.1" fill="none" stroke="#6a9e58" stroke-width="1"/>
<polygon points="368.4,518.2 375.9,515.4 383.3,514.8 395.9,513.7 398.1,515.9 399.3,519.4 408.4,519.4 419.9,521.1 429.0,525.7 436.9,533.4 441.4,542.8 439.7,546.2 432.0,553.9 426.8,562.5 420.8,565.9 409.7,567.2 402.9,568.5 395.1,569.4 392.6,566.8 386.1,565.3 380.4,566.9 373.3,564.8 363.3,561.9 355.4,558.4 355.4,544.8 357.6,536.2 363.3,524.8" fill="none" stroke="#2c3c88" stroke-width="1"/>
<polygon points="375.3,530.2 387.9,529.7 401.6,528.5 410.7,529.7 416.4,535.9 418.3,545.4 417.4,551.4 407.1,561.2 400.3,561.2 393.4,559.9 387.4,558.2 384.0,556.5 377.6,551.9 367.3,546.2 371.9,537.1" fill="none" stroke="#e07a3a" stroke-width="1"/>
<circle cx="316.0" cy="514.2" r="3.5" fill="#3e9311"/>
<circle cx="317.4" cy="514.5" r="3.5" fill="#36810f"/>
<circle cx="318.9" cy="514.9" r="3.5" fill="#3c8e11"/>
<circle cx="320.3" cy="515.2" r="3.5" fill="#3a8a10"/>
<circle cx="321.8" cy="515.6" r="3.5" fill="#8b8011"/>
<circle cx="323.2" cy="515.9" r="3.5" fill="#ed5f10"/>
<circle cx="324.7" cy="516.3" r="3.5" fill="#fe6611"/>
<circle cx="326.1" cy="516.7" r="3.5" fill="#e55b0f"/>
<circle cx="327.6" cy="517.0" r="3.5" fill="#fe840e"/>
<circle cx="329.0" cy="517.4" r="3.5" fill="#e8ba05"/>
<circle cx="330.5" cy="517.7" r="3.5" fill="#dcde00"/>
<circle cx="331.9" cy="518.1" r="3.5" fill="#dde100"/>
<circle cx="333.3" cy="518.7" r="3.5" fill="#e2e900"/>
<circle cx="334.6" cy="519.4" r="3.5" fill="#cbd500"/>
<circle cx="336.0" cy="520.1" r="3.5" fill="#dcd600"/>
<circle cx="337.3" cy="520.7" r="3.5" fill="#dabb00"/>
<circle cx="338.6" cy="521.4" r="3.5" fill="#dbbb03"/>
<circle cx="340.0" cy="522.0" r="3.5" fill="#d1cb0a"/>
<circle cx="341.4" cy="522.5" r="3.5" fill="#c7d80f"/>
<circle cx="342.8" cy="522.9" r="3.5" fill="#c7d80f"/>
<circle cx="344.2" cy="523.4" r="3.5" fill="#d4e711"/>
<circle cx="345.6" cy="523.9" r="3.5" fill="#c8da10"/>
<circle cx="347.1" cy="524.4" r="3.5" fill="#d3e511"/>
<circle cx="348.4" cy="525.0" r="3.5" fill="#e7ab11"/>
<circle cx="349.7" cy="525.6" r="3.5" fill="#fa7111"/>
<circle cx="351.1" cy="526.3" r="3.5" fill="#ff6611"/>
<circle cx="352.4" cy="527.0" r="3.5" fill="#f36110"/>
<circle cx="353.7" cy="527.6" r="3.5" fill="#f66210"/>
<circle cx="355.1" cy="528.3" r="3.5" fill="#fa9c0b"/>
<circle cx="356.4" cy="529.0" r="3.5" fill="#ebd503"/>
<circle cx="357.7" cy="529.6" r="3.5" fill="#dbe300"/>
<circle cx="359.1" cy="530.3" r="3.5" fill="#e6ee00"/>
<circle cx="360.4" cy="531.0" r="3.5" fill="#e4ec00"/>
<circle cx="361.8" cy="531.5" r="3.5" fill="#d6de00"/>
<circle cx="363.1" cy="532.1" r="3.5" fill="#a3be08"/>
<circle cx="364.5" cy="532.7" r="3.5" fill="#6ba013"/>
<circle cx="365.9" cy="533.3" r="3.5" fill="#68a51a"/>
<circle cx="367.2" cy="533.9" r="3.5" fill="#7cb21c"/>
<circle cx="368.6" cy="534.5" r="3.5" fill="#8cba1e"/>
<circle cx="370.0" cy="535.1" r="3.5" fill="#99be1f"/>
<circle cx="371.4" cy="535.7" r="3.5" fill="#a1bd1c"/>
<circle cx="372.8" cy="536.2" r="3.5" fill="#afc414"/>
<circle cx="374.2" cy="536.7" r="3.5" fill="#cfe10c"/>
<circle cx="375.5" cy="537.3" r="3.5" fill="#dce603"/>
<circle cx="376.9" cy="537.8" r="3.5" fill="#b8d104"/>
<circle cx="378.3" cy="538.3" r="3.5" fill="#79a909"/>
<circle cx="379.7" cy="538.9" r="3.5" fill="#41880e"/>
<circle cx="381.1" cy="539.4" r="3.5" fill="#37840f"/>
<circle cx="382.5" cy="539.9" r="3.5" fill="#37830f"/>
<circle cx="384.0" cy="540.3" r="3.5" fill="#3b8c10"/>
<circle cx="385.4" cy="540.8" r="3.5" fill="#388610"/>
<circle cx="386.8" cy="541.3" r="3.5" fill="#3a8b10"/>
<circle cx="388.2" cy="541.8" r="3.5" fill="#398910"/>
<circle cx="389.7" cy="541.8" r="3.5" fill="#3a8b10"/>
<circle cx="391.1" cy="541.6" r="3.5" fill="#3c8f11"/>
<circle cx="392.6" cy="541.4" r="3.5" fill="#3c8f11"/>
<circle cx="394.1" cy="541.3" r="3.5" fill="#37830f"/>
<circle cx="395.6" cy="541.1" r="3.5" fill="#3e9311"/>
<circle cx="397.1" cy="540.9" r="3.5" fill="#3d9111"/>
<circle cx="398.5" cy="540.8" r="3.5" fill="#3d9011"/>
<circle cx="400.0" cy="540.7" r="3.5" fill="#3a8910"/>
<circle cx="401.5" cy="540.6" r="3.5" fill="#3e9311"/>
<circle cx="403.0" cy="540.6" r="3.5" fill="#3d9011"/>
<circle cx="404.5" cy="540.6" r="3.5" fill="#38850f"/>
<circle cx="406.0" cy="540.5" r="3.5" fill="#3c8e10"/>
<circle cx="407.5" cy="540.5" r="3.5" fill="#3d9111"/>
<circle cx="409.0" cy="540.5" r="3.5" fill="#3c8f11"/>
<circle cx="410.5" cy="540.4" r="3.5" fill="#3d9211"/>
<circle cx="412.0" cy="540.4" r="3.5" fill="#3a8b10"/>
<circle cx="413.4" cy="540.3" r="3.5" fill="#3b8d10"/>
<circle cx="414.9" cy="540.1" r="3.5" fill="#37820f"/>
<circle cx="416.4" cy="539.9" r="3.5" fill="#3b8d10"/>
<circle cx="417.9" cy="539.7" r="3.5" fill="#37830f"/>
<circle cx="419.3" cy="539.5" r="3.5" fill="#3c8e11"/>
<circle cx="420.8" cy="539.3" r="3.5" fill="#3d9211"/>
<circle cx="422.3" cy="539.1" r="3.5" fill="#398810"/>
<circle cx="423.8" cy="538.9" r="3.5" fill="#37820f"/>
<circle cx="425.3" cy="538.7" r="3.5" fill="#36810f"/>
<circle cx="426.7" cy="538.5" r="3.5" fill="#3a8a10"/>
<circle cx="428.2" cy="538.3" r="3.5" fill="#37830f"/>
<circle cx="429.7" cy="538.0" r="3.5" fill="#3c8f11"/>
<circle cx="431.2" cy="537.8" r="3.5" fill="#3b8c10"/>
<circle cx="432.6" cy="537.5" r="3.5" fill="#3a8a10"/>
<circle cx="434.1" cy="537.3" r="3.5" fill="#3b8d10"/>
<circle cx="435.6" cy="537.1" r="3.5" fill="#37830f"/>
<circle cx="437.0" cy="536.8" r="3.5" fill="#3a8910"/>
<circle cx="438.5" cy="536.6" r="3.5" fill="#36810f"/>
<circle cx="440.0" cy="536.3" r="3.5" fill="#3a8b10"/>
<circle cx="441.4" cy="536.0" r="3.5" fill="#3c9011"/>
<circle cx="442.9" cy="535.6" r="3.5" fill="#37830f"/>
<circle cx="444.3" cy="535.3" r="3.5" fill="#3c8e10"/>
<circle cx="445.8" cy="534.9" r="3.5" fill="#3e9411"/>
<circle cx="447.2" cy="534.6" r="3.5" fill="#398710"/>
<circle cx="448.7" cy="534.2" r="3.5" fill="#38840f"/>
<circle cx="450.1" cy="533.9" r="3.5" fill="#38850f"/>
<circle cx="451.6" cy="533.5" r="3.5" fill="#3d9011"/>
<circle cx="453.0" cy="533.2" r="3.5" fill="#37820f"/>
<circle cx="454.4" cy="532.6" r="3.5" fill="#3c8f11"/>
<circle cx="455.7" cy="531.9" r="3.5" fill="#38850f"/>
<circle cx="457.0" cy="531.2" r="3.5" fill="#3c8f11"/>
<circle cx="458.4" cy="530.5" r="3.5" fill="#3d9111"/>
<circle cx="459.7" cy="529.8" r="3.5" fill="#3d9111"/>
<circle cx="461.0" cy="529.2" r="3.5" fill="#38840f"/>
<circle cx="462.3" cy="528.5" r="3.5" fill="#3a8b10"/>
<circle cx="463.6" cy="527.7" r="3.5" fill="#398610"/>
<circle cx="464.8" cy="526.9" r="3.5" fill="#3d9111"/>
<circle cx="466.1" cy="526.1" r="3.5" fill="#388610"/>
<circle cx="467.3" cy="525.2" r="3.5" fill="#37840f"/>
<circle cx="468.6" cy="524.4" r="3.5" fill="#398810"/>
<circle cx="469.8" cy="523.6" r="3.5" fill="#37820f"/>
<circle cx="471.1" cy="522.8" r="3.5" fill="#38850f"/>
<circle cx="472.4" cy="522.0" r="3.5" fill="#3c8e10"/>
<circle cx="473.6" cy="521.2" r="3.5" fill="#398710"/>
<circle cx="474.9" cy="520.4" r="3.5" fill="#37840f"/>
<circle cx="476.1" cy="519.6" r="3.5" fill="#3e9211"/>
<circle cx="477.4" cy="518.8" r="3.5" fill="#38850f"/>
<circle cx="478.8" cy="518.3" r="3.5" fill="#3c9011"/>
<circle cx="480.2" cy="518.0" r="3.5" fill="#3b8e10"/>
<circle cx="481.7" cy="517.7" r="3.5" fill="#3a8b10"/>
<circle cx="483.1" cy="517.3" r="3.5" fill="#3b8d10"/>
<circle cx="484.6" cy="517.0" r="3.5" fill="#3b8c10"/>
<circle cx="486.1" cy="516.7" r="3.5" fill="#3d9111"/>
<circle cx="487.5" cy="516.8" r="3.5" fill="#3c8e10"/>
<circle cx="489.0" cy="517.0" r="3.5" fill="#38860f"/>
<circle cx="490.5" cy="517.1" r="3.5" fill="#3b8d10"/>
<circle cx="492.0" cy="517.2" r="3.5" fill="#3a8a10"/>
<circle cx="378.0" cy="458.5" r="3.5" fill="#d4e911"/>
<circle cx="378.4" cy="459.9" r="3.5" fill="#c2d20c"/>
<circle cx="378.8" cy="461.4" r="3.5" fill="#d1df09"/>
<circle cx="379.2" cy="462.8" r="3.5" fill="#e6f305"/>
<circle cx="379.6" cy="464.2" r="3.5" fill="#d1d901"/>
<circle cx="380.0" cy="465.7" r="3.5" fill="#e3ed03"/>
<circle cx="380.3" cy="467.1" r="3.5" fill="#e0ef07"/>
<circle cx="380.7" cy="468.6" r="3.5" fill="#d0e20b"/>
<circle cx="380.9" cy="470.0" r="3.5" fill="#bacd0f"/>
<circle cx="381.0" cy="471.5" r="3.5" fill="#c5df15"/>
<circle cx="381.1" cy="473.0" r="3.5" fill="#b0cc17"/>
<circle cx="381.2" cy="474.5" r="3.5" fill="#a8cb18"/>
<circle cx="381.3" cy="476.0" r="3.5" fill="#a1cb19"/>
<circle cx="381.5" cy="477.5" r="3.5" fill="#88b417"/>
<circle cx="381.6" cy="478.9" r="3.5" fill="#79aa17"/>
<circle cx="382.1" cy="480.3" r="3.5" fill="#6b9f17"/>
<circle cx="382.8" cy="481.7" r="3.5" fill="#639d17"/>
<circle cx="383.4" cy="483.0" r="3.5" fill="#559117"/>
<circle cx="384.1" cy="484.3" r="3.5" fill="#5a9d19"/>
<circle cx="384.7" cy="485.7" r="3.5" fill="#5b9f18"/>
<circle cx="385.4" cy="487.0" r="3.5" fill="#518f16"/>
<circle cx="386.0" cy="488.3" r="3.5" fill="#549817"/>
<circle cx="386.6" cy="489.7" r="3.5" fill="#569c17"/>
<circle cx="387.1" cy="491.1" r="3.5" fill="#549c17"/>
<circle cx="387.5" cy="492.5" r="3.5" fill="#4d9014"/>
<circle cx="387.9" cy="494.0" r="3.5" fill="#4e9515"/>
<circle cx="388.4" cy="495.4" r="3.5" fill="#4f9716"/>
<circle cx="388.8" cy="496.8" r="3.5" fill="#4b9314"/>
<circle cx="389.3" cy="498.2" r="3.5" fill="#4f9c15"/>
<circle cx="389.7" cy="499.7" r="3.5" fill="#4c9915"/>
<circle cx="390.0" cy="501.1" r="3.5" fill="#4b9914"/>
<circle cx="390.1" cy="502.6" r="3.5" fill="#418712"/>
<circle cx="390.2" cy="504.1" r="3.5" fill="#3f8511"/>
<circle cx="390.3" cy="505.6" r="3.5" fill="#439012"/>
<circle cx="390.4" cy="507.0" r="3.5" fill="#418f12"/>
<circle cx="390.4" cy="508.5" r="3.5" fill="#3d8710"/>
<circle cx="390.5" cy="510.0" r="3.5" fill="#3b8610"/>
<circle cx="390.6" cy="511.5" r="3.5" fill="#3d9111"/>
<circle cx="390.7" cy="513.0" r="3.5" fill="#3c9011"/>
<circle cx="390.8" cy="514.5" r="3.5" fill="#36810f"/>
<circle cx="391.0" cy="515.9" r="3.5" fill="#37830f"/>
<circle cx="391.2" cy="517.4" r="3.5" fill="#3c8e10"/>
<circle cx="391.4" cy="518.9" r="3.5" fill="#398910"/>
<circle cx="391.6" cy="520.4" r="3.5" fill="#37830f"/>
<circle cx="392.0" cy="521.8" r="3.5" fill="#3e9311"/>
<circle cx="392.6" cy="523.1" r="3.5" fill="#398710"/>
<circle cx="393.3" cy="524.4" r="3.5" fill="#37820f"/>
<circle cx="394.0" cy="525.8" r="3.5" fill="#398810"/>
<circle cx="394.7" cy="527.1" r="3.5" fill="#398810"/>
<circle cx="395.3" cy="528.4" r="3.5" fill="#3b8d10"/>
<circle cx="395.4" cy="529.9" r="3.5" fill="#3c8f11"/>
<circle cx="395.5" cy="531.4" r="3.5" fill="#37820f"/>
<circle cx="395.6" cy="532.9" r="3.5" fill="#3a8910"/>
<circle cx="395.7" cy="534.4" r="3.5" fill="#3d9211"/>
<circle cx="395.8" cy="535.9" r="3.5" fill="#3a8a10"/>
<circle cx="395.9" cy="537.4" r="3.5" fill="#3d9111"/>
<circle cx="396.0" cy="538.8" r="3.5" fill="#3d9211"/>
<circle cx="396.1" cy="540.3" r="3.5" fill="#3c9011"/>
<circle cx="396.2" cy="541.8" r="3.5" fill="#3b8d10"/>
<circle cx="396.3" cy="543.3" r="3.5" fill="#37820f"/>
<circle cx="396.4" cy="544.8" r="3.5" fill="#3e9311"/>
<circle cx="396.5" cy="546.3" r="3.5" fill="#388610"/>
<circle cx="396.6" cy="547.7" r="3.5" fill="#388610"/>
<circle cx="396.8" cy="549.2" r="3.5" fill="#3a8a10"/>
<circle cx="396.9" cy="550.7" r="3.5" fill="#3a8b10"/>
<circle cx="397.0" cy="552.2" r="3.5" fill="#3c8f11"/>
<circle cx="397.1" cy="553.7" r="3.5" fill="#3a8b10"/>
<circle cx="397.2" cy="555.2" r="3.5" fill="#3d9211"/>
<circle cx="397.3" cy="556.7" r="3.5" fill="#3c9011"/>
<circle cx="397.5" cy="558.1" r="3.5" fill="#3b8d10"/>
<circle cx="397.8" cy="559.6" r="3.5" fill="#38860f"/>
<circle cx="398.0" cy="561.1" r="3.5" fill="#3b8d10"/>
<circle cx="398.2" cy="562.6" r="3.5" fill="#3a8a10"/>
<circle cx="398.4" cy="564.0" r="3.5" fill="#3d8f11"/>
<circle cx="398.6" cy="565.5" r="3.5" fill="#3a870f"/>
<circle cx="399.2" cy="566.8" r="3.5" fill="#3f9212"/>
<circle cx="400.0" cy="568.1" r="3.5" fill="#3f9012"/>
<circle cx="400.8" cy="569.4" r="3.5" fill="#3b8710"/>
<circle cx="401.6" cy="570.6" r="3.5" fill="#439612"/>
<circle cx="402.3" cy="571.9" r="3.5" fill="#408e11"/>
<circle cx="403.1" cy="573.2" r="3.5" fill="#408d12"/>
<circle cx="403.8" cy="574.5" r="3.5" fill="#408c12"/>
<circle cx="404.5" cy="575.8" r="3.5" fill="#418d12"/>
<circle cx="405.2" cy="577.1" r="3.5" fill="#469613"/>
<circle cx="405.9" cy="578.4" r="3.5" fill="#489913"/>
<circle cx="406.6" cy="579.7" r="3.5" fill="#459013"/>
<circle cx="407.3" cy="581.0" r="3.5" fill="#469213"/>
<circle cx="408.0" cy="582.4" r="3.5" fill="#479113"/>
<circle cx="408.4" cy="583.8" r="3.5" fill="#438a12"/>
<circle cx="408.9" cy="585.2" r="3.5" fill="#4c9b15"/>
<circle cx="409.3" cy="586.6" r="3.5" fill="#489214"/>
<circle cx="409.7" cy="588.1" r="3.5" fill="#478b13"/>
<circle cx="410.2" cy="589.5" r="3.5" fill="#529414"/>
<circle cx="410.6" cy="590.9" r="3.5" fill="#5a9b15"/>
<circle cx="411.2" cy="592.3" r="3.5" fill="#6aaa19"/>
<circle cx="411.9" cy="593.6" r="3.5" fill="#69a018"/>
<circle cx="412.6" cy="594.9" r="3.5" fill="#70a519"/>
<circle cx="413.3" cy="596.2" r="3.5" fill="#86bb1d"/>
<circle cx="414.0" cy="597.5" r="3.5" fill="#83b11b"/>
<circle cx="414.7" cy="598.8" r="3.5" fill="#98c51f"/>
<circle cx="415.4" cy="600.2" r="3.5" fill="#8db21c"/>
<circle cx="416.1" cy="601.5" r="3.5" fill="#97b81d"/>
<circle cx="416.8" cy="602.8" r="3.5" fill="#a1c01f"/>
<circle cx="417.7" cy="604.0" r="3.5" fill="#aac81e"/>
<circle cx="418.6" cy="605.2" r="3.5" fill="#b3cf1b"/>
<circle cx="419.4" cy="606.4" r="3.5" fill="#b2cc18"/>
<circle cx="420.3" cy="607.6" r="3.5" fill="#c7e217"/>
<circle cx="421.2" cy="608.8" r="3.5" fill="#cce415"/>
<circle cx="422.0" cy="610.0" r="3.5" fill="#c7dc12"/>
<circle cx="422.9" cy="611.2" r="3.5" fill="#d9e112"/>
<circle cx="423.7" cy="612.4" r="3.5" fill="#e0c414"/>
<circle cx="424.6" cy="613.7" r="3.5" fill="#eeae16"/>
<circle cx="425.5" cy="614.9" r="3.5" fill="#ec8d17"/>
<circle cx="426.3" cy="616.1" r="3.5" fill="#e37117"/>
<circle cx="427.2" cy="617.3" r="3.5" fill="#f27918"/>
<polygon points="375.4,483.1 377.6,479.2 379.8,483.1" fill="#a80c0c"/>
<polygon points="460.4,489.6 462.6,485.7 464.8,489.6" fill="#a80c0c"/>
<polygon points="395.0,522.4 397.2,518.5 399.4,522.4" fill="#a80c0c"/>
<polygon points="439.7,529.6 441.9,525.7 444.1,529.6" fill="#a80c0c"/>
<polygon points="383.9,548.1 386.1,544.2 388.3,548.1" fill="#a80c0c"/>
<polygon points="388.5,565.8 390.7,561.9 392.9,565.8" fill="#a80c0c"/>
<polygon points="415.2,559.5 417.4,555.6 419.6,559.5" fill="#a80c0c"/>
<polygon points="437.5,569.9 439.7,566.0 441.9,569.9" fill="#a80c0c"/>
<polygon points="323.9,581.7 326.1,577.8 328.3,581.7" fill="#a80c0c"/>
<polygon points="399.7,595.3 401.9,591.4 404.1,595.3" fill="#a80c0c"/>
</g>
<g>
<polygon points="574.5,460.2 580.9,455.0 587.4,453.1 597.4,454.3 603.8,454.3 618.1,445.7 635.3,445.7 641.0,448.6 648.1,455.7 658.1,458.6 656.7,465.7 652.4,472.9 651.0,477.2 661.0,481.3 671.0,485.7 678.1,491.3 686.7,497.2 691.0,504.3 691.0,515.7 688.1,524.3 686.7,544.3 688.1,551.4 689.5,561.4 685.3,571.4 678.1,581.4 666.7,592.9 658.1,601.4 646.7,607.2 632.4,614.3 621.0,620.0 611.0,628.6 602.4,635.7 594.4,641.3 590.3,638.6 580.3,634.3 571.7,632.2 566.0,634.3 544.5,634.3 534.5,632.9 526.0,625.7 520.3,615.7 514.5,604.3 508.8,590.0 506.0,580.0 501.7,572.9 499.7,567.8 499.6,552.3 499.8,544.3 500.3,538.6 506.0,524.3 511.7,512.9 518.0,508.4 523.1,503.9 528.2,497.4 533.4,491.0 537.2,484.6 541.1,478.1 546.2,474.9 554.0,470.4 561.7,466.6 569.4,463.4" fill="none" stroke="#8a3e80" stroke-width="1"/>
<polygon points="611.0,486.4 621.0,490.0 632.4,498.6 641.0,502.9 646.7,508.6 649.5,518.6 652.4,530.0 656.7,541.3 661.0,550.0 659.5,558.6 655.3,567.2 646.7,572.9 635.3,577.2 621.0,582.9 613.2,589.4 605.5,592.9 599.5,598.9 588.8,596.8 582.4,595.4 577.4,592.9 567.4,589.3 548.8,595.0 544.5,582.9 540.3,571.4 536.0,558.6 533.1,550.0 534.4,544.3 536.0,530.0 540.3,521.3 548.8,518.6 557.4,515.7 568.8,505.7 583.1,498.3 592.4,492.9 601.0,488.6" fill="none" stroke="#6a9e58" stroke-width="1"/>
<polygon points="566.8,517.7 574.3,514.9 581.7,514.3 594.3,513.2 596.5,515.4 597.7,518.9 606.8,518.9 618.3,520.6 627.4,525.2 635.3,532.9 639.8,542.3 638.1,545.7 630.4,553.4 625.2,562.0 619.2,565.4 608.1,566.7 601.3,568.0 593.5,568.9 591.0,566.3 584.5,564.8 578.8,566.4 571.7,564.3 561.7,561.4 553.8,557.9 553.8,544.3 556.0,535.7 561.7,524.3" fill="none" stroke="#2c3c88" stroke-width="1"/>
<polygon points="573.7,529.7 586.3,529.2 600.0,528.0 609.1,529.2 614.8,535.4 616.7,544.9 615.8,550.9 605.5,560.7 598.7,560.7 591.8,559.4 585.8,557.7 582.4,556.0 576.0,551.4 565.7,545.7 570.3,536.6" fill="none" stroke="#e07a3a" stroke-width="1"/>
<circle cx="515.3" cy="513.2" r="3.5" fill="#75a717"/>
<circle cx="516.7" cy="513.7" r="3.5" fill="#81b919"/>
<circle cx="518.1" cy="514.2" r="3.5" fill="#84ba19"/>
<circle cx="519.6" cy="514.6" r="3.5" fill="#78a617"/>
<circle cx="521.0" cy="515.1" r="3.5" fill="#8bbd1b"/>
<circle cx="522.4" cy="515.6" r="3.5" fill="#8dbc1c"/>
<circle cx="523.8" cy="516.0" r="3.5" fill="#92be1c"/>
<circle cx="525.3" cy="516.4" r="3.5" fill="#88af1a"/>
<circle cx="526.7" cy="516.7" r="3.5" fill="#9ec71e"/>
<circle cx="528.2" cy="517.1" r="3.5" fill="#98be1d"/>
<circle cx="529.7" cy="517.4" r="3.5" fill="#a7cb20"/>
<circle cx="531.1" cy="517.9" r="3.5" fill="#a5c71f"/>
<circle cx="532.4" cy="518.6" r="3.5" fill="#aecf21"/>
<circle cx="533.7" cy="519.2" r="3.5" fill="#b4d31d"/>
<circle cx="535.1" cy="519.9" r="3.5" fill="#b1cb16"/>
<circle cx="536.4" cy="520.6" r="3.5" fill="#bfd813"/>
<circle cx="537.8" cy="521.3" r="3.5" fill="#cfe510"/>
<circle cx="539.1" cy="521.8" r="3.5" fill="#d3e70b"/>
<circle cx="540.6" cy="522.3" r="3.5" fill="#dbec06"/>
<circle cx="542.0" cy="522.8" r="3.5" fill="#cad601"/>
<circle cx="543.4" cy="523.3" r="3.5" fill="#d9e602"/>
<circle cx="544.8" cy="523.7" r="3.5" fill="#daeb06"/>
<circle cx="546.2" cy="524.2" r="3.5" fill="#c6d809"/>
<circle cx="547.4" cy="525.2" r="3.5" fill="#bbce0b"/>
<circle cx="548.5" cy="526.2" r="3.5" fill="#cbe210"/>
<circle cx="549.7" cy="527.1" r="3.5" fill="#c3da11"/>
<circle cx="551.0" cy="527.8" r="3.5" fill="#c9e416"/>
<circle cx="552.4" cy="528.4" r="3.5" fill="#b2cd17"/>
<circle cx="553.7" cy="529.0" r="3.5" fill="#acc718"/>
<circle cx="555.1" cy="529.6" r="3.5" fill="#b7d419"/>
<circle cx="556.5" cy="530.1" r="3.5" fill="#bddb1b"/>
<circle cx="557.9" cy="530.7" r="3.5" fill="#b6d41c"/>
<circle cx="559.3" cy="531.3" r="3.5" fill="#a7c41a"/>
<circle cx="560.6" cy="531.9" r="3.5" fill="#abc81b"/>
<circle cx="562.0" cy="532.5" r="3.5" fill="#a5c11b"/>
<circle cx="563.4" cy="533.1" r="3.5" fill="#aac81e"/>
<circle cx="564.8" cy="533.7" r="3.5" fill="#b2d220"/>
<circle cx="566.1" cy="534.3" r="3.5" fill="#a8c81f"/>
<circle cx="567.5" cy="534.9" r="3.5" fill="#a9c920"/>
<circle cx="568.9" cy="535.4" r="3.5" fill="#9dbd1e"/>
<circle cx="570.3" cy="535.9" r="3.5" fill="#9fc31e"/>
<circle cx="571.7" cy="536.4" r="3.5" fill="#a6cd20"/>
<circle cx="573.1" cy="536.9" r="3.5" fill="#94bb1d"/>
<circle cx="574.6" cy="537.4" r="3.5" fill="#8eb71b"/>
<circle cx="576.0" cy="537.9" r="3.5" fill="#92be1c"/>
<circle cx="577.4" cy="538.4" r="3.5" fill="#90c11c"/>
<circle cx="578.8" cy="538.8" r="3.5" fill="#7da918"/>
<circle cx="580.3" cy="539.2" r="3.5" fill="#84b519"/>
<circle cx="581.7" cy="539.7" r="3.5" fill="#7eb118"/>
<circle cx="583.1" cy="540.1" r="3.5" fill="#7cb118"/>
<circle cx="584.6" cy="540.5" r="3.5" fill="#79ae18"/>
<circle cx="586.0" cy="540.9" r="3.5" fill="#7bb119"/>
<circle cx="587.5" cy="540.8" r="3.5" fill="#7eb519"/>
<circle cx="589.0" cy="540.7" r="3.5" fill="#73a717"/>
<circle cx="590.5" cy="540.6" r="3.5" fill="#70a417"/>
<circle cx="592.0" cy="540.5" r="3.5" fill="#70a317"/>
<circle cx="593.5" cy="540.4" r="3.5" fill="#76ad18"/>
<circle cx="595.0" cy="540.3" r="3.5" fill="#70a617"/>
<circle cx="596.5" cy="540.3" r="3.5" fill="#74ab18"/>
<circle cx="598.0" cy="540.2" r="3.5" fill="#73ac18"/>
<circle cx="599.5" cy="540.2" r="3.5" fill="#71a918"/>
<circle cx="601.0" cy="540.1" r="3.5" fill="#74ae18"/>
<circle cx="602.5" cy="540.1" r="3.5" fill="#71ac18"/>
<circle cx="604.0" cy="540.1" r="3.5" fill="#70ab18"/>
<circle cx="605.5" cy="540.0" r="3.5" fill="#73b119"/>
<circle cx="607.0" cy="540.0" r="3.5" fill="#6da718"/>
<circle cx="608.5" cy="540.0" r="3.5" fill="#679f16"/>
<circle cx="610.0" cy="539.9" r="3.5" fill="#73b319"/>
<circle cx="611.5" cy="539.8" r="3.5" fill="#6ba618"/>
<circle cx="612.9" cy="539.6" r="3.5" fill="#6aa718"/>
<circle cx="614.4" cy="539.4" r="3.5" fill="#65a017"/>
<circle cx="615.9" cy="539.2" r="3.5" fill="#6caa18"/>
<circle cx="617.4" cy="539.0" r="3.5" fill="#6faf19"/>
<circle cx="618.9" cy="538.8" r="3.5" fill="#649e17"/>
<circle cx="620.4" cy="538.7" r="3.5" fill="#6baa18"/>
<circle cx="621.8" cy="538.5" r="3.5" fill="#639d16"/>
<circle cx="623.3" cy="538.3" r="3.5" fill="#69a618"/>
<circle cx="624.8" cy="538.0" r="3.5" fill="#65a017"/>
<circle cx="626.3" cy="537.8" r="3.5" fill="#6dad19"/>
<circle cx="627.8" cy="537.6" r="3.5" fill="#70b219"/>
<circle cx="629.3" cy="537.3" r="3.5" fill="#6aa918"/>
<circle cx="630.7" cy="537.1" r="3.5" fill="#68a518"/>
<circle cx="632.2" cy="536.9" r="3.5" fill="#6eae19"/>
<circle cx="633.7" cy="536.6" r="3.5" fill="#6faf19"/>
<circle cx="635.2" cy="536.4" r="3.5" fill="#649e17"/>
<circle cx="636.6" cy="536.1" r="3.5" fill="#6aa818"/>
<circle cx="638.1" cy="535.9" r="3.5" fill="#6dad19"/>
<circle cx="639.6" cy="535.5" r="3.5" fill="#70b219"/>
<circle cx="641.0" cy="535.2" r="3.5" fill="#65a017"/>
<circle cx="642.5" cy="534.8" r="3.5" fill="#70b119"/>
<circle cx="643.9" cy="534.5" r="3.5" fill="#66a217"/>
<circle cx="645.4" cy="534.1" r="3.5" fill="#6cab18"/>
<circle cx="646.9" cy="533.8" r="3.5" fill="#6fb019"/>
<circle cx="648.3" cy="533.4" r="3.5" fill="#6faf19"/>
<circle cx="649.8" cy="533.1" r="3.5" fill="#67a417"/>
<circle cx="651.2" cy="532.7" r="3.5" fill="#6dad19"/>
<circle cx="652.6" cy="532.1" r="3.5" fill="#68a518"/>
<circle cx="653.9" cy="531.5" r="3.5" fill="#66a217"/>
<circle cx="655.3" cy="530.8" r="3.5" fill="#71b31a"/>
<circle cx="656.6" cy="530.1" r="3.5" fill="#639d16"/>
<circle cx="657.9" cy="529.4" r="3.5" fill="#71b31a"/>
<circle cx="659.3" cy="528.7" r="3.5" fill="#639d16"/>
<circle cx="660.6" cy="528.1" r="3.5" fill="#6fb019"/>
<circle cx="661.9" cy="527.3" r="3.5" fill="#66a217"/>
<circle cx="663.1" cy="526.4" r="3.5" fill="#68a417"/>
<circle cx="664.4" cy="525.6" r="3.5" fill="#639c16"/>
<circle cx="665.6" cy="524.8" r="3.5" fill="#6baa18"/>
<circle cx="666.9" cy="524.0" r="3.5" fill="#6eae19"/>
<circle cx="668.2" cy="523.2" r="3.5" fill="#6fb019"/>
<circle cx="669.4" cy="522.4" r="3.5" fill="#66a117"/>
<circle cx="670.7" cy="521.6" r="3.5" fill="#66a217"/>
<circle cx="671.9" cy="520.8" r="3.5" fill="#639d16"/>
<circle cx="673.2" cy="520.0" r="3.5" fill="#659f17"/>
<circle cx="674.5" cy="519.1" r="3.5" fill="#6cab18"/>
<circle cx="675.7" cy="518.3" r="3.5" fill="#65a117"/>
<circle cx="677.1" cy="517.9" r="3.5" fill="#65a017"/>
<circle cx="678.6" cy="517.5" r="3.5" fill="#649f17"/>
<circle cx="680.0" cy="517.2" r="3.5" fill="#649e17"/>
<circle cx="681.5" cy="516.8" r="3.5" fill="#65a017"/>
<circle cx="683.0" cy="516.5" r="3.5" fill="#6dac19"/>
<circle cx="684.4" cy="516.2" r="3.5" fill="#6caa18"/>
<circle cx="685.9" cy="516.3" r="3.5" fill="#6ba918"/>
<circle cx="687.4" cy="516.5" r="3.5" fill="#67a317"/>
<circle cx="688.9" cy="516.6" r="3.5" fill="#6eae19"/>
<circle cx="690.4" cy="516.7" r="3.5" fill="#66a217"/>
<circle cx="576.4" cy="458.0" r="3.5" fill="#7db319"/>
<circle cx="576.8" cy="459.4" r="3.5" fill="#7db118"/>
<circle cx="577.2" cy="460.9" r="3.5" fill="#80b51a"/>
<circle cx="577.6" cy="462.3" r="3.5" fill="#7eb219"/>
<circle cx="578.0" cy="463.7" r="3.5" fill="#78a719"/>
<circle cx="578.4" cy="465.2" r="3.5" fill="#82b61b"/>
<circle cx="578.7" cy="466.6" r="3.5" fill="#80b11b"/>
<circle cx="579.1" cy="468.1" r="3.5" fill="#78a619"/>
<circle cx="579.3" cy="469.5" r="3.5" fill="#81b31c"/>
<circle cx="579.4" cy="471.0" r="3.5" fill="#7dac1b"/>
<circle cx="579.5" cy="472.5" r="3.5" fill="#7ead1c"/>
<circle cx="579.6" cy="474.0" r="3.5" fill="#83b31d"/>
<circle cx="579.7" cy="475.5" r="3.5" fill="#8dbf20"/>
<circle cx="579.9" cy="477.0" r="3.5" fill="#80ae1d"/>
<circle cx="580.0" cy="478.4" r="3.5" fill="#85b41f"/>
<circle cx="580.5" cy="479.8" r="3.5" fill="#8dbe20"/>
<circle cx="581.2" cy="481.2" r="3.5" fill="#88b720"/>
<circle cx="581.8" cy="482.5" r="3.5" fill="#93c422"/>
<circle cx="582.5" cy="483.8" r="3.5" fill="#91c122"/>
<circle cx="583.1" cy="485.2" r="3.5" fill="#90be21"/>
<circle cx="583.8" cy="486.5" r="3.5" fill="#8bb920"/>
<circle cx="584.4" cy="487.8" r="3.5" fill="#8dba20"/>
<circle cx="585.0" cy="489.2" r="3.5" fill="#8fbc21"/>
<circle cx="585.5" cy="490.6" r="3.5" fill="#93c222"/>
<circle cx="585.9" cy="492.0" r="3.5" fill="#83ab1e"/>
<circle cx="586.3" cy="493.5" r="3.5" fill="#95c222"/>
<circle cx="586.8" cy="494.9" r="3.5" fill="#89b21f"/>
<circle cx="587.2" cy="496.3" r="3.5" fill="#84ab1e"/>
<circle cx="587.7" cy="497.7" r="3.5" fill="#8fb820"/>
<circle cx="588.1" cy="499.2" r="3.5" fill="#89b11f"/>
<circle cx="588.4" cy="500.6" r="3.5" fill="#8cb41f"/>
<circle cx="588.5" cy="502.1" r="3.5" fill="#88ae1e"/>
<circle cx="588.6" cy="503.6" r="3.5" fill="#94bd21"/>
<circle cx="588.7" cy="505.1" r="3.5" fill="#90b71f"/>
<circle cx="588.8" cy="506.5" r="3.5" fill="#8cb21e"/>
<circle cx="588.8" cy="508.0" r="3.5" fill="#9dc522"/>
<circle cx="588.9" cy="509.5" r="3.5" fill="#8cb01e"/>
<circle cx="589.0" cy="511.0" r="3.5" fill="#a0c822"/>
<circle cx="589.1" cy="512.5" r="3.5" fill="#a1c922"/>
<circle cx="589.2" cy="514.0" r="3.5" fill="#93b81f"/>
<circle cx="589.4" cy="515.4" r="3.5" fill="#a1c721"/>
<circle cx="589.6" cy="516.9" r="3.5" fill="#9bc020"/>
<circle cx="589.8" cy="518.4" r="3.5" fill="#96b91e"/>
<circle cx="590.0" cy="519.9" r="3.5" fill="#99bd1f"/>
<circle cx="590.4" cy="521.3" r="3.5" fill="#9ec220"/>
<circle cx="591.0" cy="522.6" r="3.5" fill="#9bbe1f"/>
<circle cx="591.7" cy="523.9" r="3.5" fill="#99bc1f"/>
<circle cx="592.4" cy="525.3" r="3.5" fill="#a0c620"/>
<circle cx="593.1" cy="526.6" r="3.5" fill="#9dc020"/>
<circle cx="593.7" cy="527.9" r="3.5" fill="#a6cd22"/>
<circle cx="593.8" cy="529.4" r="3.5" fill="#a4cb22"/>
<circle cx="593.9" cy="530.9" r="3.5" fill="#93b71e"/>
<circle cx="594.0" cy="532.4" r="3.5" fill="#a1c821"/>
<circle cx="594.1" cy="533.9" r="3.5" fill="#93b71f"/>
<circle cx="594.2" cy="535.4" r="3.5" fill="#9cc321"/>
<circle cx="594.3" cy="536.9" r="3.5" fill="#95ba1f"/>
<circle cx="594.4" cy="538.3" r="3.5" fill="#9fc822"/>
<circle cx="594.5" cy="539.8" r="3.5" fill="#94ba1f"/>
<circle cx="594.6" cy="541.3" r="3.5" fill="#9dc522"/>
<circle cx="594.7" cy="542.8" r="3.5" fill="#9dc622"/>
<circle cx="594.8" cy="544.3" r="3.5" fill="#8db21e"/>
<circle cx="594.9" cy="545.8" r="3.5" fill="#9bc522"/>
<circle cx="595.0" cy="547.2" r="3.5" fill="#8aae1e"/>
<circle cx="595.2" cy="548.7" r="3.5" fill="#8bb01f"/>
<circle cx="595.3" cy="550.2" r="3.5" fill="#8cb21f"/>
<circle cx="595.4" cy="551.7" r="3.5" fill="#93bc21"/>
<circle cx="595.5" cy="553.2" r="3.5" fill="#88ad1e"/>
<circle cx="595.6" cy="554.7" r="3.5" fill="#90ba20"/>
<circle cx="595.7" cy="556.2" r="3.5" fill="#98c322"/>
<circle cx="595.9" cy="557.6" r="3.5" fill="#85ac1e"/>
<circle cx="596.2" cy="559.1" r="3.5" fill="#95c122"/>
<circle cx="596.4" cy="560.6" r="3.5" fill="#8eb820"/>
<circle cx="596.6" cy="562.1" r="3.5" fill="#8db820"/>
<circle cx="596.8" cy="563.5" r="3.5" fill="#8db820"/>
<circle cx="597.0" cy="565.0" r="3.5" fill="#8bb720"/>
<circle cx="597.6" cy="566.3" r="3.5" fill="#8bb720"/>
<circle cx="598.4" cy="567.6" r="3.5" fill="#93c322"/>
<circle cx="599.2" cy="568.9" r="3.5" fill="#93c222"/>
<circle cx="600.0" cy="570.1" r="3.5" fill="#91c021"/>
<circle cx="600.7" cy="571.4" r="3.5" fill="#8ebe21"/>
<circle cx="601.5" cy="572.7" r="3.5" fill="#88b41f"/>
<circle cx="602.2" cy="574.0" r="3.5" fill="#83ad1e"/>
<circle cx="602.9" cy="575.3" r="3.5" fill="#95c322"/>
<circle cx="603.6" cy="576.6" r="3.5" fill="#90bb20"/>
<circle cx="604.3" cy="577.9" r="3.5" fill="#92bc20"/>
<circle cx="605.0" cy="579.2" r="3.5" fill="#98c321"/>
<circle cx="605.7" cy="580.5" r="3.5" fill="#93bb1f"/>
<circle cx="606.4" cy="581.9" r="3.5" fill="#98bf20"/>
<circle cx="606.8" cy="583.3" r="3.5" fill="#9dc421"/>
<circle cx="607.3" cy="584.7" r="3.5" fill="#a2c921"/>
<circle cx="607.7" cy="586.1" r="3.5" fill="#94b61e"/>
<circle cx="608.1" cy="587.6" r="3.5" fill="#96b71e"/>
<circle cx="608.6" cy="589.0" r="3.5" fill="#aed222"/>
<circle cx="609.0" cy="590.4" r="3.5" fill="#add022"/>
<circle cx="609.6" cy="591.8" r="3.5" fill="#add021"/>
<circle cx="610.3" cy="593.1" r="3.5" fill="#b2d31f"/>
<circle cx="611.0" cy="594.4" r="3.5" fill="#b2d01d"/>
<circle cx="611.7" cy="595.7" r="3.5" fill="#a7c017"/>
<circle cx="612.4" cy="597.0" r="3.5" fill="#b5cf16"/>
<circle cx="613.1" cy="598.3" r="3.5" fill="#b9d113"/>
<circle cx="613.8" cy="599.7" r="3.5" fill="#c2d810"/>
<circle cx="614.5" cy="601.0" r="3.5" fill="#c8dd0d"/>
<circle cx="615.2" cy="602.3" r="3.5" fill="#c9dc0b"/>
<circle cx="616.1" cy="603.5" r="3.5" fill="#d7e908"/>
<circle cx="617.0" cy="604.7" r="3.5" fill="#c6d406"/>
<circle cx="617.8" cy="605.9" r="3.5" fill="#c9d603"/>
<circle cx="618.7" cy="607.1" r="3.5" fill="#d5e200"/>
<circle cx="619.6" cy="608.3" r="3.5" fill="#dee900"/>
<circle cx="620.4" cy="609.5" r="3.5" fill="#e9f500"/>
<circle cx="621.3" cy="610.7" r="3.5" fill="#dae400"/>
<circle cx="622.1" cy="611.9" r="3.5" fill="#d7e100"/>
<circle cx="623.0" cy="613.2" r="3.5" fill="#d2db00"/>
<circle cx="623.9" cy="614.4" r="3.5" fill="#d8e100"/>
<circle cx="624.7" cy="615.6" r="3.5" fill="#e8f000"/>
<circle cx="625.6" cy="616.8" r="3.5" fill="#dde500"/>
<polygon points="573.8,482.6 576.0,478.7 578.2,482.6" fill="#a80c0c"/>
<polygon points="658.8,489.1 661.0,485.2 663.2,489.1" fill="#a80c0c"/>
<polygon points="593.4,521.9 595.6,518.0 597.8,521.9" fill="#a80c0c"/>
<polygon points="638.1,529.1 640.3,525.2 642.5,529.1" fill="#a80c0c"/>
<polygon points="582.3,547.6 584.5,543.7 586.7,547.6" fill="#a80c0c"/>
<polygon points="586.9,565.3 589.1,561.4 591.3,565.3" fill="#a80c0c"/>
<polygon points="613.6,559.0 615.8,555.1 618.0,559.0" fill="#a80c0c"/>
<polygon points="635.9,569.4 638.1,565.5 640.3,569.4" fill="#a80c0c"/>
<polygon points="522.3,581.2 524.5,577.3 526.7,581.2" fill="#a80c0c"/>
<polygon points="598.1,594.8 600.3,590.9 602.5,594.8" fill="#a80c0c"/>
</g>
<g>
<polygon points="177.0,667.7 183.4,662.5 189.9,660.6 199.9,661.8 206.3,661.8 220.6,653.2 237.8,653.2 243.5,656.1 250.6,663.2 260.6,666.1 259.2,673.2 254.9,680.4 253.5,684.7 263.5,688.8 273.5,693.2 280.6,698.8 289.2,704.7 293.5,711.8 293.5,723.2 290.6,731.8 289.2,751.8 290.6,758.9 292.0,768.9 287.8,778.9 280.6,788.9 269.2,800.4 260.6,808.9 249.2,814.7 234.9,821.8 223.5,827.5 213.5,836.1 204.9,843.2 196.9,848.8 192.8,846.1 182.8,841.8 174.2,839.7 168.5,841.8 147.0,841.8 137.0,840.4 128.5,833.2 122.8,823.2 117.0,811.8 111.3,797.5 108.5,787.5 104.2,780.4 102.2,775.3 102.1,759.8 102.3,751.8 102.8,746.1 108.5,731.8 114.2,720.4 120.5,715.9 125.6,711.4 130.7,704.9 135.9,698.5 139.7,692.1 143.6,685.6 148.7,682.4 156.5,677.9 164.2,674.1 171.9,670.9" fill="none" stroke="#8a3e80" stroke-width="1"/>
<polygon points="213.5,693.9 223.5,697.5 234.9,706.1 243.5,710.4 249.2,716.1 252.0,726.1 254.9,737.5 259.2,748.8 263.5,757.5 262.0,766.1 257.8,774.7 249.2,780.4 237.8,784.7 223.5,790.4 215.7,796.9 208.0,800.4 202.0,806.4 191.3,804.3 184.9,802.9 179.9,800.4 169.9,796.8 151.3,802.5 147.0,790.4 142.8,778.9 138.5,766.1 135.6,757.5 136.9,751.8 138.5,737.5 142.8,728.8 151.3,726.1 159.9,723.2 171.3,713.2 185.6,705.8 194.9,700.4 203.5,696.1" fill="none" stroke="#6a9e58" stroke-width="1"/>
<polygon points="169.3,725.2 176.8,722.4 184.2,721.8 196.8,720.7 199.0,722.9 200.2,726.4 209.3,726.4 220.8,728.1 229.9,732.7 237.8,740.4 242.3,749.8 240.6,753.2 232.9,760.9 227.7,769.5 221.7,772.9 210.6,774.2 203.8,775.5 196.0,776.4 193.5,773.8 187.0,772.3 181.3,773.9 174.2,771.8 164.2,768.9 156.3,765.4 156.3,751.8 158.5,743.2 164.2,731.8" fill="none" stroke="#2c3c88" stroke-width="1"/>
<polygon points="176.2,737.2 188.8,736.7 202.5,735.5 211.6,736.7 217.3,742.9 219.2,752.4 218.3,758.4 208.0,768.2 201.2,768.2 194.3,766.9 188.3,765.2 184.9,763.5 178.5,758.9 168.2,753.2 172.8,744.1" fill="none" stroke="#e07a3a" stroke-width="1"/>
<circle cx="120.2" cy="718.2" r="3.5" fill="#478c13"/>
<circle cx="121.5" cy="718.9" r="3.5" fill="#539916"/>
<circle cx="122.8" cy="719.7" r="3.5" fill="#5a9816"/>
<circle cx="124.1" cy="720.4" r="3.5" fill="#64a219"/>
<circle cx="125.4" cy="721.2" r="3.5" fill="#69a21a"/>
<circle cx="126.7" cy="721.9" r="3.5" fill="#7cb61d"/>
<circle cx="128.0" cy="722.6" r="3.5" fill="#7fb21e"/>
<circle cx="129.3" cy="723.4" r="3.5" fill="#8bbc20"/>
<circle cx="130.7" cy="724.0" r="3.5" fill="#94c422"/>
<circle cx="132.1" cy="724.6" r="3.5" fill="#8eba20"/>
<circle cx="133.5" cy="725.1" r="3.5" fill="#90bb20"/>
<circle cx="134.8" cy="725.7" r="3.5" fill="#8cb31e"/>
<circle cx="136.2" cy="726.3" r="3.5" fill="#9dc721"/>
<circle cx="137.6" cy="726.9" r="3.5" fill="#90b41e"/>
<circle cx="139.0" cy="727.5" r="3.5" fill="#99be1f"/>
<circle cx="140.4" cy="728.0" r="3.5" fill="#98ba1f"/>
<circle cx="141.8" cy="728.5" r="3.5" fill="#a7cb21"/>
<circle cx="143.2" cy="729.0" r="3.5" fill="#a4c520"/>
<circle cx="144.6" cy="729.5" r="3.5" fill="#a7c820"/>
<circle cx="146.1" cy="730.0" r="3.5" fill="#a2c51f"/>
<circle cx="147.4" cy="730.5" r="3.5" fill="#9fc91f"/>
<circle cx="148.7" cy="731.3" r="3.5" fill="#9ac91f"/>
<circle cx="150.0" cy="732.1" r="3.5" fill="#87b51b"/>
<circle cx="151.2" cy="732.9" r="3.5" fill="#88be1c"/>
<circle cx="152.5" cy="733.7" r="3.5" fill="#7db51b"/>
<circle cx="153.8" cy="734.5" r="3.5" fill="#74b01a"/>
<circle cx="155.1" cy="735.3" r="3.5" fill="#70b31a"/>
<circle cx="156.4" cy="736.0" r="3.5" fill="#619e16"/>
<circle cx="157.7" cy="736.8" r="3.5" fill="#5f9e16"/>
<circle cx="159.0" cy="737.5" r="3.5" fill="#5da016"/>
<circle cx="160.4" cy="738.1" r="3.5" fill="#579915"/>
<circle cx="161.7" cy="738.7" r="3.5" fill="#529514"/>
<circle cx="163.1" cy="739.3" r="3.5" fill="#4d9214"/>
<circle cx="164.5" cy="739.9" r="3.5" fill="#4f9e15"/>
<circle cx="165.9" cy="740.5" r="3.5" fill="#4e9d15"/>
<circle cx="167.2" cy="741.1" r="3.5" fill="#4c9a14"/>
<circle cx="168.6" cy="741.6" r="3.5" fill="#499814"/>
<circle cx="170.0" cy="742.2" r="3.5" fill="#448f13"/>
<circle cx="171.4" cy="742.7" r="3.5" fill="#418c12"/>
<circle cx="172.9" cy="743.2" r="3.5" fill="#418d12"/>
<circle cx="174.3" cy="743.7" r="3.5" fill="#3c8411"/>
<circle cx="175.7" cy="744.2" r="3.5" fill="#3c8510"/>
<circle cx="177.1" cy="744.8" r="3.5" fill="#3d8b11"/>
<circle cx="178.5" cy="745.3" r="3.5" fill="#3b8910"/>
<circle cx="179.9" cy="745.8" r="3.5" fill="#3b8d10"/>
<circle cx="181.3" cy="746.3" r="3.5" fill="#3a8b10"/>
<circle cx="182.7" cy="746.8" r="3.5" fill="#37820f"/>
<circle cx="184.1" cy="747.3" r="3.5" fill="#3d9111"/>
<circle cx="185.5" cy="747.9" r="3.5" fill="#398910"/>
<circle cx="186.9" cy="748.4" r="3.5" fill="#3a8a10"/>
<circle cx="188.4" cy="748.3" r="3.5" fill="#398810"/>
<circle cx="189.9" cy="748.2" r="3.5" fill="#398710"/>
<circle cx="191.4" cy="748.2" r="3.5" fill="#3d9211"/>
<circle cx="192.9" cy="748.1" r="3.5" fill="#3e9311"/>
<circle cx="194.4" cy="748.0" r="3.5" fill="#37840f"/>
<circle cx="195.9" cy="747.9" r="3.5" fill="#3d9211"/>
<circle cx="197.4" cy="747.8" r="3.5" fill="#3d9011"/>
<circle cx="198.9" cy="747.8" r="3.5" fill="#3d9011"/>
<circle cx="200.4" cy="747.7" r="3.5" fill="#388610"/>
<circle cx="201.9" cy="747.7" r="3.5" fill="#3d9211"/>
<circle cx="203.4" cy="747.6" r="3.5" fill="#3b8c10"/>
<circle cx="204.9" cy="747.6" r="3.5" fill="#3a8910"/>
<circle cx="206.4" cy="747.6" r="3.5" fill="#36810f"/>
<circle cx="207.9" cy="747.5" r="3.5" fill="#3a8a10"/>
<circle cx="209.4" cy="747.5" r="3.5" fill="#37840f"/>
<circle cx="210.9" cy="747.5" r="3.5" fill="#388610"/>
<circle cx="212.4" cy="747.4" r="3.5" fill="#3d9111"/>
<circle cx="213.9" cy="747.3" r="3.5" fill="#398710"/>
<circle cx="215.4" cy="747.2" r="3.5" fill="#3d9011"/>
<circle cx="216.9" cy="747.0" r="3.5" fill="#398710"/>
<circle cx="218.3" cy="746.8" r="3.5" fill="#37830f"/>
<circle cx="219.8" cy="746.6" r="3.5" fill="#398810"/>
<circle cx="221.3" cy="746.4" r="3.5" fill="#37840f"/>
<circle cx="222.8" cy="746.2" r="3.5" fill="#37830f"/>
<circle cx="224.3" cy="746.0" r="3.5" fill="#3b8d10"/>
<circle cx="225.8" cy="745.8" r="3.5" fill="#3c8e10"/>
<circle cx="227.3" cy="745.6" r="3.5" fill="#37840f"/>
<circle cx="228.7" cy="745.3" r="3.5" fill="#3c8e11"/>
<circle cx="230.2" cy="745.1" r="3.5" fill="#3a8b10"/>
<circle cx="231.7" cy="744.8" r="3.5" fill="#37820f"/>
<circle cx="233.2" cy="744.6" r="3.5" fill="#37820f"/>
<circle cx="234.7" cy="744.4" r="3.5" fill="#3c8e10"/>
<circle cx="236.1" cy="744.1" r="3.5" fill="#3d9211"/>
<circle cx="237.6" cy="743.9" r="3.5" fill="#3d9011"/>
<circle cx="239.1" cy="743.6" r="3.5" fill="#3b8c10"/>
<circle cx="240.6" cy="743.4" r="3.5" fill="#36820f"/>
<circle cx="242.0" cy="743.1" r="3.5" fill="#3c8f11"/>
<circle cx="243.5" cy="742.7" r="3.5" fill="#36820f"/>
<circle cx="244.9" cy="742.3" r="3.5" fill="#3c8f11"/>
<circle cx="246.4" cy="742.0" r="3.5" fill="#37820f"/>
<circle cx="247.9" cy="741.6" r="3.5" fill="#3e9311"/>
<circle cx="249.3" cy="741.3" r="3.5" fill="#3a8a10"/>
<circle cx="250.8" cy="740.9" r="3.5" fill="#38850f"/>
<circle cx="252.2" cy="740.6" r="3.5" fill="#37820f"/>
<circle cx="253.7" cy="740.2" r="3.5" fill="#38850f"/>
<circle cx="255.1" cy="739.7" r="3.5" fill="#3c8e10"/>
<circle cx="256.4" cy="739.0" r="3.5" fill="#38860f"/>
<circle cx="257.7" cy="738.3" r="3.5" fill="#37820f"/>
<circle cx="259.1" cy="737.6" r="3.5" fill="#3c8f11"/>
<circle cx="260.4" cy="736.9" r="3.5" fill="#37840f"/>
<circle cx="261.7" cy="736.2" r="3.5" fill="#37840f"/>
<circle cx="263.1" cy="735.6" r="3.5" fill="#38840f"/>
<circle cx="264.4" cy="734.8" r="3.5" fill="#37830f"/>
<circle cx="265.6" cy="734.0" r="3.5" fill="#38850f"/>
<circle cx="266.9" cy="733.1" r="3.5" fill="#37820f"/>
<circle cx="268.1" cy="732.3" r="3.5" fill="#36810f"/>
<circle cx="269.4" cy="731.5" r="3.5" fill="#37830f"/>
<circle cx="270.6" cy="730.7" r="3.5" fill="#398810"/>
<circle cx="271.9" cy="729.9" r="3.5" fill="#3d9211"/>
<circle cx="273.2" cy="729.1" r="3.5" fill="#3d9011"/>
<circle cx="274.4" cy="728.3" r="3.5" fill="#3a8b10"/>
<circle cx="275.7" cy="727.5" r="3.5" fill="#37830f"/>
<circle cx="277.0" cy="726.7" r="3.5" fill="#3d9211"/>
<circle cx="278.2" cy="725.8" r="3.5" fill="#38860f"/>
<circle cx="279.6" cy="725.4" r="3.5" fill="#3a8a10"/>
<circle cx="281.1" cy="725.0" r="3.5" fill="#3a8b10"/>
<circle cx="282.5" cy="724.7" r="3.5" fill="#398810"/>
<circle cx="284.0" cy="724.3" r="3.5" fill="#38850f"/>
<circle cx="285.5" cy="724.0" r="3.5" fill="#3d9211"/>
<circle cx="286.9" cy="723.7" r="3.5" fill="#37820f"/>
<circle cx="288.4" cy="723.8" r="3.5" fill="#398710"/>
<circle cx="289.9" cy="724.0" r="3.5" fill="#3c8e10"/>
<circle cx="291.4" cy="724.1" r="3.5" fill="#388610"/>
<circle cx="292.9" cy="724.2" r="3.5" fill="#36810f"/>
<circle cx="178.9" cy="665.5" r="3.5" fill="#468b13"/>
<circle cx="179.3" cy="666.9" r="3.5" fill="#4c9915"/>
<circle cx="179.7" cy="668.4" r="3.5" fill="#4a9414"/>
<circle cx="180.1" cy="669.8" r="3.5" fill="#499114"/>
<circle cx="180.5" cy="671.2" r="3.5" fill="#4e9b15"/>
<circle cx="180.9" cy="672.7" r="3.5" fill="#4c9714"/>
<circle cx="181.2" cy="674.1" r="3.5" fill="#478e13"/>
<circle cx="181.6" cy="675.6" r="3.5" fill="#478e13"/>
<circle cx="181.8" cy="677.0" r="3.5" fill="#4e9c15"/>
<circle cx="181.9" cy="678.5" r="3.5" fill="#499214"/>
<circle cx="182.0" cy="680.0" r="3.5" fill="#4b9514"/>
<circle cx="182.1" cy="681.5" r="3.5" fill="#499114"/>
<circle cx="182.2" cy="683.0" r="3.5" fill="#4f9d15"/>
<circle cx="182.4" cy="684.5" r="3.5" fill="#4b9614"/>
<circle cx="182.5" cy="685.9" r="3.5" fill="#4d9b15"/>
<circle cx="183.0" cy="687.3" r="3.5" fill="#499214"/>
<circle cx="183.7" cy="688.7" r="3.5" fill="#4c9815"/>
<circle cx="184.3" cy="690.0" r="3.5" fill="#468b13"/>
<circle cx="185.0" cy="691.3" r="3.5" fill="#468c13"/>
<circle cx="185.6" cy="692.7" r="3.5" fill="#489013"/>
<circle cx="186.3" cy="694.0" r="3.5" fill="#489013"/>
<circle cx="186.9" cy="695.3" r="3.5" fill="#4f9d15"/>
<circle cx="187.5" cy="696.7" r="3.5" fill="#478e13"/>
<circle cx="188.0" cy="698.1" r="3.5" fill="#4b9514"/>
<circle cx="188.4" cy="699.5" r="3.5" fill="#4e9c15"/>
<circle cx="188.8" cy="701.0" r="3.5" fill="#499514"/>
<circle cx="189.3" cy="702.4" r="3.5" fill="#4d9b15"/>
<circle cx="189.7" cy="703.8" r="3.5" fill="#4a9714"/>
<circle cx="190.2" cy="705.2" r="3.5" fill="#499714"/>
<circle cx="190.6" cy="706.7" r="3.5" fill="#438b12"/>
<circle cx="190.9" cy="708.1" r="3.5" fill="#448d12"/>
<circle cx="191.0" cy="709.6" r="3.5" fill="#499814"/>
<circle cx="191.1" cy="711.1" r="3.5" fill="#438e12"/>
<circle cx="191.2" cy="712.6" r="3.5" fill="#459513"/>
<circle cx="191.3" cy="714.0" r="3.5" fill="#439212"/>
<circle cx="191.3" cy="715.5" r="3.5" fill="#469913"/>
<circle cx="191.4" cy="717.0" r="3.5" fill="#418f12"/>
<circle cx="191.5" cy="718.5" r="3.5" fill="#449713"/>
<circle cx="191.6" cy="720.0" r="3.5" fill="#429312"/>
<circle cx="191.7" cy="721.5" r="3.5" fill="#409111"/>
<circle cx="191.9" cy="722.9" r="3.5" fill="#429512"/>
<circle cx="192.1" cy="724.4" r="3.5" fill="#3f8f11"/>
<circle cx="192.3" cy="725.9" r="3.5" fill="#3c8a11"/>
<circle cx="192.5" cy="727.4" r="3.5" fill="#3e9111"/>
<circle cx="192.9" cy="728.8" r="3.5" fill="#3d8e10"/>
<circle cx="193.5" cy="730.1" r="3.5" fill="#3b8b10"/>
<circle cx="194.2" cy="731.4" r="3.5" fill="#3d8f11"/>
<circle cx="194.9" cy="732.8" r="3.5" fill="#3b8c10"/>
<circle cx="195.6" cy="734.1" r="3.5" fill="#3e9311"/>
<circle cx="196.2" cy="735.4" r="3.5" fill="#3c8c10"/>
<circle cx="196.3" cy="736.9" r="3.5" fill="#3f9312"/>
<circle cx="196.4" cy="738.4" r="3.5" fill="#3d8b11"/>
<circle cx="196.5" cy="739.9" r="3.5" fill="#409212"/>
<circle cx="196.6" cy="741.4" r="3.5" fill="#3a8310"/>
<circle cx="196.7" cy="742.9" r="3.5" fill="#429612"/>
<circle cx="196.8" cy="744.4" r="3.5" fill="#3c8610"/>
<circle cx="196.9" cy="745.8" r="3.5" fill="#3e8b11"/>
<circle cx="197.0" cy="747.3" r="3.5" fill="#3e8910"/>
<circle cx="197.1" cy="748.8" r="3.5" fill="#439413"/>
<circle cx="197.2" cy="750.3" r="3.5" fill="#439212"/>
<circle cx="197.3" cy="751.8" r="3.5" fill="#408d12"/>
<circle cx="197.4" cy="753.3" r="3.5" fill="#3e8711"/>
<circle cx="197.5" cy="754.7" r="3.5" fill="#428f12"/>
<circle cx="197.7" cy="756.2" r="3.5" fill="#459613"/>
<circle cx="197.8" cy="757.7" r="3.5" fill="#469713"/>
<circle cx="197.9" cy="759.2" r="3.5" fill="#418c12"/>
<circle cx="198.0" cy="760.7" r="3.5" fill="#499a13"/>
<circle cx="198.1" cy="762.2" r="3.5" fill="#428c12"/>
<circle cx="198.2" cy="763.7" r="3.5" fill="#499a14"/>
<circle cx="198.4" cy="765.1" r="3.5" fill="#418912"/>
<circle cx="198.7" cy="766.6" r="3.5" fill="#418812"/>
<circle cx="198.9" cy="768.1" r="3.5" fill="#479413"/>
<circle cx="199.1" cy="769.6" r="3.5" fill="#458e13"/>
<circle cx="199.3" cy="771.0" r="3.5" fill="#489413"/>
<circle cx="199.5" cy="772.5" r="3.5" fill="#489313"/>
<circle cx="200.1" cy="773.8" r="3.5" fill="#458d13"/>
<circle cx="200.9" cy="775.1" r="3.5" fill="#4c9b15"/>
<circle cx="201.7" cy="776.4" r="3.5" fill="#448913"/>
<circle cx="202.5" cy="777.6" r="3.5" fill="#479013"/>
<circle cx="203.2" cy="778.9" r="3.5" fill="#4b9514"/>
<circle cx="204.0" cy="780.2" r="3.5" fill="#4b9614"/>
<circle cx="204.7" cy="781.5" r="3.5" fill="#4a9114"/>
<circle cx="205.4" cy="782.8" r="3.5" fill="#4c9113"/>
<circle cx="206.1" cy="784.1" r="3.5" fill="#4b9014"/>
<circle cx="206.8" cy="785.4" r="3.5" fill="#559f16"/>
<circle cx="207.5" cy="786.7" r="3.5" fill="#529815"/>
<circle cx="208.2" cy="788.0" r="3.5" fill="#529514"/>
<circle cx="208.9" cy="789.4" r="3.5" fill="#5ba417"/>
<circle cx="209.3" cy="790.8" r="3.5" fill="#5ba317"/>
<circle cx="209.8" cy="792.2" r="3.5" fill="#5fa617"/>
<circle cx="210.2" cy="793.6" r="3.5" fill="#5da016"/>
<circle cx="210.6" cy="795.1" r="3.5" fill="#64ab18"/>
<circle cx="211.1" cy="796.5" r="3.5" fill="#5e9f17"/>
<circle cx="211.5" cy="797.9" r="3.5" fill="#66ab18"/>
<circle cx="212.1" cy="799.3" r="3.5" fill="#69af18"/>
<circle cx="212.8" cy="800.6" r="3.5" fill="#66a717"/>
<circle cx="213.5" cy="801.9" r="3.5" fill="#66a618"/>
<circle cx="214.2" cy="803.2" r="3.5" fill="#6aaa18"/>
<circle cx="214.9" cy="804.5" r="3.5" fill="#6dad19"/>
<circle cx="215.6" cy="805.8" r="3.5" fill="#74aa16"/>
<circle cx="216.3" cy="807.2" r="3.5" fill="#94c716"/>
<circle cx="217.0" cy="808.5" r="3.5" fill="#a0c915"/>
<circle cx="217.7" cy="809.8" r="3.5" fill="#b8d913"/>
<circle cx="218.6" cy="811.0" r="3.5" fill="#c6e112"/>
<circle cx="219.5" cy="812.2" r="3.5" fill="#b7ce10"/>
<circle cx="220.3" cy="813.4" r="3.5" fill="#98ba12"/>
<circle cx="221.2" cy="814.6" r="3.5" fill="#81b215"/>
<circle cx="222.1" cy="815.8" r="3.5" fill="#6eaf19"/>
<circle cx="222.9" cy="817.0" r="3.5" fill="#6caf18"/>
<circle cx="223.8" cy="818.2" r="3.5" fill="#5d9d16"/>
<circle cx="224.6" cy="819.4" r="3.5" fill="#5b9d16"/>
<circle cx="225.5" cy="820.7" r="3.5" fill="#539214"/>
<circle cx="226.4" cy="821.9" r="3.5" fill="#529815"/>
<circle cx="227.2" cy="823.1" r="3.5" fill="#4c9114"/>
<circle cx="228.1" cy="824.3" r="3.5" fill="#4d9814"/>
<polygon points="176.3,690.1 178.5,686.2 180.7,690.1" fill="#a80c0c"/>
<polygon points="261.3,696.6 263.5,692.7 265.7,696.6" fill="#a80c0c"/>
<polygon points="195.9,729.4 198.1,725.5 200.3,729.4" fill="#a80c0c"/>
<polygon points="240.6,736.6 242.8,732.7 245.0,736.6" fill="#a80c0c"/>
<polygon points="184.8,755.1 187.0,751.2 189.2,755.1" fill="#a80c0c"/>
<polygon points="189.4,772.8 191.6,768.9 193.8,772.8" fill="#a80c0c"/>
<polygon points="216.1,766.5 218.3,762.6 220.5,766.5" fill="#a80c0c"/>
<polygon points="238.4,776.9 240.6,773.0 242.8,776.9" fill="#a80c0c"/>
<polygon points="124.8,788.7 127.0,784.8 129.2,788.7" fill="#a80c0c"/>
<polygon points="200.6,802.3 202.8,798.4 205.0,802.3" fill="#a80c0c"/>
<text x="177.7" y="682.9" class="lb">28.2</text>
<text x="261.3" y="690.1" class="lb">40.2</text>
<text x="196.9" y="722.1" class="lb">43</text>
<text x="241.3" y="729.5" class="lb">60.4</text>
<text x="186.0" y="748.4" class="lb">31.2</text>
<text x="216.9" y="758.6" class="lb">35</text>
<text x="190.0" y="765.5" class="lb">34.4</text>
<text x="238.5" y="770.1" class="lb">53.2</text>
<text x="124.9" y="781.5" class="lb">49.4</text>
<text x="200.6" y="794.5" class="lb">38.2</text>
</g>
<g>
<polygon points="377.0,667.5 383.4,662.3 389.9,660.4 399.9,661.6 406.3,661.6 420.6,653.0 437.8,653.0 443.5,655.9 450.6,663.0 460.6,665.9 459.2,673.0 454.9,680.2 453.5,684.5 463.5,688.6 473.5,693.0 480.6,698.6 489.2,704.5 493.5,711.6 493.5,723.0 490.6,731.6 489.2,751.6 490.6,758.7 492.0,768.7 487.8,778.7 480.6,788.7 469.2,800.2 460.6,808.7 449.2,814.5 434.9,821.6 423.5,827.3 413.5,835.9 404.9,843.0 396.9,848.6 392.8,845.9 382.8,841.6 374.2,839.5 368.5,841.6 347.0,841.6 337.0,840.2 328.5,833.0 322.8,823.0 317.0,811.6 311.3,797.3 308.5,787.3 304.2,780.2 302.2,775.1 302.1,759.6 302.3,751.6 302.8,745.9 308.5,731.6 314.2,720.2 320.5,715.7 325.6,711.2 330.7,704.7 335.9,698.3 339.7,691.9 343.6,685.4 348.7,682.2 356.5,677.7 364.2,673.9 371.9,670.7" fill="none" stroke="#8a3e80" stroke-width="1"/>
<polygon points="413.5,693.7 423.5,697.3 434.9,705.9 443.5,710.2 449.2,715.9 452.0,725.9 454.9,737.3 459.2,748.6 463.5,757.3 462.0,765.9 457.8,774.5 449.2,780.2 437.8,784.5 423.5,790.2 415.7,796.7 408.0,800.2 402.0,806.2 391.3,804.1 384.9,802.7 379.9,800.2 369.9,796.6 351.3,802.3 347.0,790.2 342.8,778.7 338.5,765.9 335.6,757.3 336.9,751.6 338.5,737.3 342.8,728.6 351.3,725.9 359.9,723.0 371.3,713.0 385.6,705.6 394.9,700.2 403.5,695.9" fill="none" stroke="#6a9e58" stroke-width="1"/>
<polygon points="369.3,725.0 376.8,722.2 384.2,721.6 396.8,720.5 399.0,722.7 400.2,726.2 409.3,726.2 420.8,727.9 429.9,732.5 437.8,740.2 442.3,749.6 440.6,753.0 432.9,760.7 427.7,769.3 421.7,772.7 410.6,774.0 403.8,775.3 396.0,776.2 393.5,773.6 387.0,772.1 381.3,773.7 374.2,771.6 364.2,768.7 356.3,765.2 356.3,751.6 358.5,743.0 364.2,731.6" fill="none" stroke="#2c3c88" stroke-width="1"/>
<polygon points="376.2,737.0 388.8,736.5 402.5,735.3 411.6,736.5 417.3,742.7 419.2,752.2 418.3,758.2 408.0,768.0 401.2,768.0 394.3,766.7 388.3,765.0 384.9,763.3 378.5,758.7 368.2,753.0 372.8,743.9" fill="none" stroke="#e07a3a" stroke-width="1"/>
<circle cx="316.9" cy="721.0" r="3.5" fill="#388610"/>
<circle cx="318.3" cy="721.3" r="3.5" fill="#3a8a10"/>
<circle cx="319.8" cy="721.7" r="3.5" fill="#3b8b10"/>
<circle cx="321.2" cy="722.0" r="3.5" fill="#3a8910"/>
<circle cx="322.7" cy="722.4" r="3.5" fill="#857a10"/>
<circle cx="324.1" cy="722.7" r="3.5" fill="#f06010"/>
<circle cx="325.6" cy="723.1" r="3.5" fill="#f16010"/>
<circle cx="327.0" cy="723.5" r="3.5" fill="#e65c0f"/>
<circle cx="328.5" cy="723.8" r="3.5" fill="#e1740c"/>
<circle cx="329.9" cy="724.2" r="3.5" fill="#e3b605"/>
<circle cx="331.4" cy="724.5" r="3.5" fill="#eff100"/>
<circle cx="332.8" cy="724.9" r="3.5" fill="#d3d700"/>
<circle cx="334.2" cy="725.5" r="3.5" fill="#d9e000"/>
<circle cx="335.5" cy="726.2" r="3.5" fill="#d7e200"/>
<circle cx="336.9" cy="726.9" r="3.5" fill="#e2db00"/>
<circle cx="338.2" cy="727.5" r="3.5" fill="#e8c700"/>
<circle cx="339.5" cy="728.2" r="3.5" fill="#f5d103"/>
<circle cx="340.9" cy="728.8" r="3.5" fill="#e8e20c"/>
<circle cx="342.3" cy="729.3" r="3.5" fill="#d1e210"/>
<circle cx="343.7" cy="729.7" r="3.5" fill="#c5d60f"/>
<circle cx="345.1" cy="730.2" r="3.5" fill="#d7ea11"/>
<circle cx="346.5" cy="730.7" r="3.5" fill="#d4e811"/>
<circle cx="348.0" cy="731.2" r="3.5" fill="#c8d910"/>
<circle cx="349.3" cy="731.8" r="3.5" fill="#e4b415"/>
<circle cx="350.6" cy="732.4" r="3.5" fill="#fa8818"/>
<circle cx="352.0" cy="733.1" r="3.5" fill="#ff801a"/>
<circle cx="353.3" cy="733.8" r="3.5" fill="#e77317"/>
<circle cx="354.6" cy="734.4" r="3.5" fill="#e77317"/>
<circle cx="356.0" cy="735.1" r="3.5" fill="#f4a710"/>
<circle cx="357.3" cy="735.8" r="3.5" fill="#dccb05"/>
<circle cx="358.6" cy="736.4" r="3.5" fill="#d1dc05"/>
<circle cx="360.0" cy="737.1" r="3.5" fill="#bccd0c"/>
<circle cx="361.3" cy="737.8" r="3.5" fill="#c1da17"/>
<circle cx="362.7" cy="738.3" r="3.5" fill="#a4c21e"/>
<circle cx="364.0" cy="738.9" r="3.5" fill="#94b71e"/>
<circle cx="365.4" cy="739.5" r="3.5" fill="#8eba1d"/>
<circle cx="366.8" cy="740.1" r="3.5" fill="#76a41a"/>
<circle cx="368.1" cy="740.7" r="3.5" fill="#72ad1b"/>
<circle cx="369.5" cy="741.3" r="3.5" fill="#589417"/>
<circle cx="370.9" cy="741.9" r="3.5" fill="#5da219"/>
<circle cx="372.3" cy="742.5" r="3.5" fill="#4e8e15"/>
<circle cx="373.7" cy="743.0" r="3.5" fill="#4a8d14"/>
<circle cx="375.1" cy="743.5" r="3.5" fill="#4a9114"/>
<circle cx="376.4" cy="744.1" r="3.5" fill="#489514"/>
<circle cx="377.8" cy="744.6" r="3.5" fill="#418d12"/>
<circle cx="379.2" cy="745.1" r="3.5" fill="#3e8f11"/>
<circle cx="380.6" cy="745.7" r="3.5" fill="#38850f"/>
<circle cx="382.0" cy="746.2" r="3.5" fill="#3d9111"/>
<circle cx="383.4" cy="746.7" r="3.5" fill="#38840f"/>
<circle cx="384.9" cy="747.1" r="3.5" fill="#398810"/>
<circle cx="386.3" cy="747.6" r="3.5" fill="#3c9011"/>
<circle cx="387.7" cy="748.1" r="3.5" fill="#398810"/>
<circle cx="389.1" cy="748.6" r="3.5" fill="#36810f"/>
<circle cx="390.6" cy="748.6" r="3.5" fill="#3c8e10"/>
<circle cx="392.0" cy="748.4" r="3.5" fill="#37820f"/>
<circle cx="393.5" cy="748.2" r="3.5" fill="#398810"/>
<circle cx="395.0" cy="748.1" r="3.5" fill="#398710"/>
<circle cx="396.5" cy="747.9" r="3.5" fill="#3a8a10"/>
<circle cx="398.0" cy="747.7" r="3.5" fill="#37830f"/>
<circle cx="399.4" cy="747.6" r="3.5" fill="#3d9211"/>
<circle cx="400.9" cy="747.5" r="3.5" fill="#3d9011"/>
<circle cx="402.4" cy="747.4" r="3.5" fill="#3a8b10"/>
<circle cx="403.9" cy="747.4" r="3.5" fill="#388610"/>
<circle cx="405.4" cy="747.4" r="3.5" fill="#398810"/>
<circle cx="406.9" cy="747.3" r="3.5" fill="#38850f"/>
<circle cx="408.4" cy="747.3" r="3.5" fill="#398810"/>
<circle cx="409.9" cy="747.3" r="3.5" fill="#3a8a10"/>
<circle cx="411.4" cy="747.2" r="3.5" fill="#3c8f11"/>
<circle cx="412.9" cy="747.2" r="3.5" fill="#37820f"/>
<circle cx="414.3" cy="747.1" r="3.5" fill="#3e9211"/>
<circle cx="415.8" cy="746.9" r="3.5" fill="#3d9211"/>
<circle cx="417.3" cy="746.7" r="3.5" fill="#3a8b10"/>
<circle cx="418.8" cy="746.5" r="3.5" fill="#3a8b10"/>
<circle cx="420.2" cy="746.3" r="3.5" fill="#37820f"/>
<circle cx="421.7" cy="746.1" r="3.5" fill="#38850f"/>
<circle cx="423.2" cy="745.9" r="3.5" fill="#36810f"/>
<circle cx="424.7" cy="745.7" r="3.5" fill="#37820f"/>
<circle cx="426.2" cy="745.5" r="3.5" fill="#3c8e10"/>
<circle cx="427.6" cy="745.3" r="3.5" fill="#38840f"/>
<circle cx="429.1" cy="745.1" r="3.5" fill="#3c8e10"/>
<circle cx="430.6" cy="744.8" r="3.5" fill="#3c8f11"/>
<circle cx="432.1" cy="744.6" r="3.5" fill="#398810"/>
<circle cx="433.5" cy="744.3" r="3.5" fill="#3b8d10"/>
<circle cx="435.0" cy="744.1" r="3.5" fill="#3b8c10"/>
<circle cx="436.5" cy="743.9" r="3.5" fill="#3b8c10"/>
<circle cx="437.9" cy="743.6" r="3.5" fill="#3b8c10"/>
<circle cx="439.4" cy="743.4" r="3.5" fill="#3b8d10"/>
<circle cx="440.9" cy="743.1" r="3.5" fill="#37830f"/>
<circle cx="442.3" cy="742.8" r="3.5" fill="#3e9411"/>
<circle cx="443.8" cy="742.4" r="3.5" fill="#38840f"/>
<circle cx="445.2" cy="742.1" r="3.5" fill="#37830f"/>
<circle cx="446.7" cy="741.7" r="3.5" fill="#38850f"/>
<circle cx="448.1" cy="741.4" r="3.5" fill="#3d9011"/>
<circle cx="449.6" cy="741.0" r="3.5" fill="#3e9311"/>
<circle cx="451.0" cy="740.7" r="3.5" fill="#3e9311"/>
<circle cx="452.5" cy="740.3" r="3.5" fill="#37830f"/>
<circle cx="453.9" cy="740.0" r="3.5" fill="#398810"/>
<circle cx="455.3" cy="739.4" r="3.5" fill="#3c8f11"/>
<circle cx="456.6" cy="738.7" r="3.5" fill="#37820f"/>
<circle cx="457.9" cy="738.0" r="3.5" fill="#398810"/>
<circle cx="459.3" cy="737.3" r="3.5" fill="#3b8b10"/>
<circle cx="460.6" cy="736.6" r="3.5" fill="#38860f"/>
<circle cx="461.9" cy="736.0" r="3.5" fill="#388610"/>
<circle cx="463.2" cy="735.3" r="3.5" fill="#3a8a10"/>
<circle cx="464.5" cy="734.5" r="3.5" fill="#37830f"/>
<circle cx="465.7" cy="733.7" r="3.5" fill="#3d9211"/>
<circle cx="467.0" cy="732.9" r="3.5" fill="#3a8910"/>
<circle cx="468.2" cy="732.0" r="3.5" fill="#37840f"/>
<circle cx="469.5" cy="731.2" r="3.5" fill="#3a8a10"/>
<circle cx="470.7" cy="730.4" r="3.5" fill="#398710"/>
<circle cx="472.0" cy="729.6" r="3.5" fill="#3b8d10"/>
<circle cx="473.3" cy="728.8" r="3.5" fill="#36820f"/>
<circle cx="474.5" cy="728.0" r="3.5" fill="#398710"/>
<circle cx="475.8" cy="727.2" r="3.5" fill="#37820f"/>
<circle cx="477.0" cy="726.4" r="3.5" fill="#3b8c10"/>
<circle cx="478.3" cy="725.6" r="3.5" fill="#3a8a10"/>
<circle cx="479.7" cy="725.1" r="3.5" fill="#3c9011"/>
<circle cx="481.1" cy="724.8" r="3.5" fill="#3b8d10"/>
<circle cx="482.6" cy="724.5" r="3.5" fill="#3a8a10"/>
<circle cx="484.0" cy="724.1" r="3.5" fill="#3b8c10"/>
<circle cx="485.5" cy="723.8" r="3.5" fill="#398710"/>
<circle cx="487.0" cy="723.5" r="3.5" fill="#3a8b10"/>
<circle cx="488.4" cy="723.6" r="3.5" fill="#398810"/>
<circle cx="489.9" cy="723.8" r="3.5" fill="#3a8910"/>
<circle cx="491.4" cy="723.9" r="3.5" fill="#398810"/>
<circle cx="492.9" cy="724.0" r="3.5" fill="#36800f"/>
<circle cx="378.9" cy="665.3" r="3.5" fill="#c0d30f"/>
<circle cx="379.3" cy="666.7" r="3.5" fill="#c6db12"/>
<circle cx="379.7" cy="668.2" r="3.5" fill="#b5cb14"/>
<circle cx="380.1" cy="669.6" r="3.5" fill="#b7cf17"/>
<circle cx="380.5" cy="671.0" r="3.5" fill="#bdd91b"/>
<circle cx="380.9" cy="672.5" r="3.5" fill="#b0cd1c"/>
<circle cx="381.2" cy="673.9" r="3.5" fill="#b1d220"/>
<circle cx="381.6" cy="675.4" r="3.5" fill="#a0c11f"/>
<circle cx="381.8" cy="676.8" r="3.5" fill="#91b31d"/>
<circle cx="381.9" cy="678.3" r="3.5" fill="#94bb1e"/>
<circle cx="382.0" cy="679.8" r="3.5" fill="#92bf1e"/>
<circle cx="382.1" cy="681.3" r="3.5" fill="#85b31c"/>
<circle cx="382.2" cy="682.8" r="3.5" fill="#7cac1b"/>
<circle cx="382.4" cy="684.3" r="3.5" fill="#7cb31c"/>
<circle cx="382.5" cy="685.7" r="3.5" fill="#6ca31a"/>
<circle cx="383.0" cy="687.1" r="3.5" fill="#6dac1b"/>
<circle cx="383.7" cy="688.5" r="3.5" fill="#63a31a"/>
<circle cx="384.3" cy="689.8" r="3.5" fill="#569317"/>
<circle cx="385.0" cy="691.1" r="3.5" fill="#5a9c18"/>
<circle cx="385.6" cy="692.5" r="3.5" fill="#599b17"/>
<circle cx="386.3" cy="693.8" r="3.5" fill="#579a17"/>
<circle cx="386.9" cy="695.1" r="3.5" fill="#569b18"/>
<circle cx="387.5" cy="696.5" r="3.5" fill="#529416"/>
<circle cx="388.0" cy="697.9" r="3.5" fill="#549b17"/>
<circle cx="388.4" cy="699.3" r="3.5" fill="#519715"/>
<circle cx="388.8" cy="700.8" r="3.5" fill="#519a16"/>
<circle cx="389.3" cy="702.2" r="3.5" fill="#509816"/>
<circle cx="389.7" cy="703.6" r="3.5" fill="#4c9514"/>
<circle cx="390.2" cy="705.0" r="3.5" fill="#4a9314"/>
<circle cx="390.6" cy="706.5" r="3.5" fill="#458b13"/>
<circle cx="390.9" cy="707.9" r="3.5" fill="#428812"/>
<circle cx="391.0" cy="709.4" r="3.5" fill="#458f13"/>
<circle cx="391.1" cy="710.9" r="3.5" fill="#438f12"/>
<circle cx="391.2" cy="712.4" r="3.5" fill="#418b12"/>
<circle cx="391.3" cy="713.8" r="3.5" fill="#408d12"/>
<circle cx="391.3" cy="715.3" r="3.5" fill="#429312"/>
<circle cx="391.4" cy="716.8" r="3.5" fill="#409212"/>
<circle cx="391.5" cy="718.3" r="3.5" fill="#3e9311"/>
<circle cx="391.6" cy="719.8" r="3.5" fill="#37830f"/>
<circle cx="391.7" cy="721.3" r="3.5" fill="#38840f"/>
<circle cx="391.9" cy="722.7" r="3.5" fill="#3d9111"/>
<circle cx="392.1" cy="724.2" r="3.5" fill="#3d9011"/>
<circle cx="392.3" cy="725.7" r="3.5" fill="#38840f"/>
<circle cx="392.5" cy="727.2" r="3.5" fill="#3c8f11"/>
<circle cx="392.9" cy="728.6" r="3.5" fill="#36810f"/>
<circle cx="393.5" cy="729.9" r="3.5" fill="#398810"/>
<circle cx="394.2" cy="731.2" r="3.5" fill="#3b8c10"/>
<circle cx="394.9" cy="732.6" r="3.5" fill="#398810"/>
<circle cx="395.6" cy="733.9" r="3.5" fill="#3d9111"/>
<circle cx="396.2" cy="735.2" r="3.5" fill="#38840f"/>
<circle cx="396.3" cy="736.7" r="3.5" fill="#37830f"/>
<circle cx="396.4" cy="738.2" r="3.5" fill="#398910"/>
<circle cx="396.5" cy="739.7" r="3.5" fill="#38860f"/>
<circle cx="396.6" cy="741.2" r="3.5" fill="#3c8f11"/>
<circle cx="396.7" cy="742.7" r="3.5" fill="#3c8e10"/>
<circle cx="396.8" cy="744.2" r="3.5" fill="#37830f"/>
<circle cx="396.9" cy="745.6" r="3.5" fill="#37840f"/>
<circle cx="397.0" cy="747.1" r="3.5" fill="#36820f"/>
<circle cx="397.1" cy="748.6" r="3.5" fill="#3e9311"/>
<circle cx="397.2" cy="750.1" r="3.5" fill="#38850f"/>
<circle cx="397.3" cy="751.6" r="3.5" fill="#37840f"/>
<circle cx="397.4" cy="753.1" r="3.5" fill="#388610"/>
<circle cx="397.5" cy="754.5" r="3.5" fill="#398910"/>
<circle cx="397.7" cy="756.0" r="3.5" fill="#37830f"/>
<circle cx="397.8" cy="757.5" r="3.5" fill="#3c8e10"/>
<circle cx="397.9" cy="759.0" r="3.5" fill="#3a8a10"/>
<circle cx="398.0" cy="760.5" r="3.5" fill="#398710"/>
<circle cx="398.1" cy="762.0" r="3.5" fill="#3e9311"/>
<circle cx="398.2" cy="763.5" r="3.5" fill="#3a8b10"/>
<circle cx="398.4" cy="764.9" r="3.5" fill="#3c8e10"/>
<circle cx="398.7" cy="766.4" r="3.5" fill="#398710"/>
<circle cx="398.9" cy="767.9" r="3.5" fill="#398810"/>
<circle cx="399.1" cy="769.4" r="3.5" fill="#3d9211"/>
<circle cx="399.3" cy="770.8" r="3.5" fill="#38840f"/>
<circle cx="399.5" cy="772.3" r="3.5" fill="#409411"/>
<circle cx="400.1" cy="773.6" r="3.5" fill="#3b8810"/>
<circle cx="400.9" cy="774.9" r="3.5" fill="#398210"/>
<circle cx="401.7" cy="776.2" r="3.5" fill="#3d8b11"/>
<circle cx="402.5" cy="777.4" r="3.5" fill="#429412"/>
<circle cx="403.2" cy="778.7" r="3.5" fill="#419011"/>
<circle cx="404.0" cy="780.0" r="3.5" fill="#418d12"/>
<circle cx="404.7" cy="781.3" r="3.5" fill="#3d8611"/>
<circle cx="405.4" cy="782.6" r="3.5" fill="#429012"/>
<circle cx="406.1" cy="783.9" r="3.5" fill="#489a13"/>
<circle cx="406.8" cy="785.2" r="3.5" fill="#479713"/>
<circle cx="407.5" cy="786.5" r="3.5" fill="#489814"/>
<circle cx="408.2" cy="787.8" r="3.5" fill="#428812"/>
<circle cx="408.9" cy="789.2" r="3.5" fill="#448b12"/>
<circle cx="409.3" cy="790.6" r="3.5" fill="#458e12"/>
<circle cx="409.8" cy="792.0" r="3.5" fill="#4b9815"/>
<circle cx="410.2" cy="793.4" r="3.5" fill="#4a9514"/>
<circle cx="410.6" cy="794.9" r="3.5" fill="#4a9113"/>
<circle cx="411.1" cy="796.3" r="3.5" fill="#509114"/>
<circle cx="411.5" cy="797.7" r="3.5" fill="#5a9b15"/>
<circle cx="412.1" cy="799.1" r="3.5" fill="#68a618"/>
<circle cx="412.8" cy="800.4" r="3.5" fill="#70ab19"/>
<circle cx="413.5" cy="801.7" r="3.5" fill="#7db71c"/>
<circle cx="414.2" cy="803.0" r="3.5" fill="#81b31b"/>
<circle cx="414.9" cy="804.3" r="3.5" fill="#8bbb1d"/>
<circle cx="415.6" cy="805.6" r="3.5" fill="#85ad1b"/>
<circle cx="416.3" cy="807.0" r="3.5" fill="#93ba1d"/>
<circle cx="417.0" cy="808.3" r="3.5" fill="#97b91d"/>
<circle cx="417.7" cy="809.6" r="3.5" fill="#a3c21f"/>
<circle cx="418.6" cy="810.8" r="3.5" fill="#b4d31f"/>
<circle cx="419.5" cy="812.0" r="3.5" fill="#b3cf1b"/>
<circle cx="420.3" cy="813.2" r="3.5" fill="#bcd81a"/>
<circle cx="421.2" cy="814.4" r="3.5" fill="#c5e017"/>
<circle cx="422.1" cy="815.6" r="3.5" fill="#bdd414"/>
<circle cx="422.9" cy="816.8" r="3.5" fill="#c3d712"/>
<circle cx="423.8" cy="818.0" r="3.5" fill="#bdc510"/>
<circle cx="424.6" cy="819.2" r="3.5" fill="#d7bd13"/>
<circle cx="425.5" cy="820.5" r="3.5" fill="#e3a615"/>
<circle cx="426.4" cy="821.7" r="3.5" fill="#f99419"/>
<circle cx="427.2" cy="822.9" r="3.5" fill="#ea7517"/>
<circle cx="428.1" cy="824.1" r="3.5" fill="#e87417"/>
<polygon points="376.3,689.9 378.5,686.0 380.7,689.9" fill="#a80c0c"/>
<polygon points="461.3,696.4 463.5,692.5 465.7,696.4" fill="#a80c0c"/>
<polygon points="395.9,729.2 398.1,725.3 400.3,729.2" fill="#a80c0c"/>
<polygon points="440.6,736.4 442.8,732.5 445.0,736.4" fill="#a80c0c"/>
<polygon points="384.8,754.9 387.0,751.0 389.2,754.9" fill="#a80c0c"/>
<polygon points="389.4,772.6 391.6,768.7 393.8,772.6" fill="#a80c0c"/>
<polygon points="416.1,766.3 418.3,762.4 420.5,766.3" fill="#a80c0c"/>
<polygon points="438.4,776.7 440.6,772.8 442.8,776.7" fill="#a80c0c"/>
<polygon points="324.8,788.5 327.0,784.6 329.2,788.5" fill="#a80c0c"/>
<polygon points="400.6,802.1 402.8,798.2 405.0,802.1" fill="#a80c0c"/>
<text x="377.7" y="682.7" class="lb">46.4</text>
<text x="461.3" y="689.9" class="lb">41.2</text>
<text x="396.9" y="721.9" class="lb">26</text>
<text x="441.3" y="729.3" class="lb">51</text>
<text x="386.0" y="748.2" class="lb">41.4</text>
<text x="416.9" y="758.4" class="lb">28.8</text>
<text x="390.0" y="765.3" class="lb">35.4</text>
<text x="438.5" y="769.9" class="lb">45.4</text>
<text x="324.9" y="781.3" class="lb">35</text>
<text x="400.6" y="794.3" class="lb">69.4</text>
</g>
<g>
<polygon points="575.8,666.5 582.2,661.3 588.7,659.4 598.7,660.6 605.1,660.6 619.4,652.0 636.6,652.0 642.3,654.9 649.4,662.0 659.4,664.9 658.0,672.0 653.7,679.2 652.3,683.5 662.3,687.6 672.3,692.0 679.4,697.6 688.0,703.5 692.3,710.6 692.3,722.0 689.4,730.6 688.0,750.6 689.4,757.7 690.8,767.7 686.6,777.7 679.4,787.7 668.0,799.2 659.4,807.7 648.0,813.5 633.7,820.6 622.3,826.3 612.3,834.9 603.7,842.0 595.7,847.6 591.6,844.9 581.6,840.6 573.0,838.5 567.3,840.6 545.8,840.6 535.8,839.2 527.3,832.0 521.6,822.0 515.8,810.6 510.1,796.3 507.3,786.3 503.0,779.2 501.0,774.1 500.9,758.6 501.1,750.6 501.6,744.9 507.3,730.6 513.0,719.2 519.3,714.7 524.4,710.2 529.5,703.7 534.7,697.3 538.5,690.9 542.4,684.4 547.5,681.2 555.3,676.7 563.0,672.9 570.7,669.7" fill="none" stroke="#8a3e80" stroke-width="1"/>
<polygon points="612.3,692.7 622.3,696.3 633.7,704.9 642.3,709.2 648.0,714.9 650.8,724.9 653.7,736.3 658.0,747.6 662.3,756.3 660.8,764.9 656.6,773.5 648.0,779.2 636.6,783.5 622.3,789.2 614.5,795.7 606.8,799.2 600.8,805.2 590.1,803.1 583.7,801.7 578.7,799.2 568.7,795.6 550.1,801.3 545.8,789.2 541.6,777.7 537.3,764.9 534.4,756.3 535.7,750.6 537.3,736.3 541.6,727.6 550.1,724.9 558.7,722.0 570.1,712.0 584.4,704.6 593.7,699.2 602.3,694.9" fill="none" stroke="#6a9e58" stroke-width="1"/>
<polygon points="568.1,724.0 575.6,721.2 583.0,720.6 595.6,719.5 597.8,721.7 599.0,725.2 608.1,725.2 619.6,726.9 628.7,731.5 636.6,739.2 641.1,748.6 639.4,752.0 631.7,759.7 626.5,768.3 620.5,771.7 609.4,773.0 602.6,774.3 594.8,775.2 592.3,772.6 585.8,771.1 580.1,772.7 573.0,770.6 563.0,767.7 555.1,764.2 555.1,750.6 557.3,742.0 563.0,730.6" fill="none" stroke="#2c3c88" stroke-width="1"/>
<polygon points="575.0,736.0 587.6,735.5 601.3,734.3 610.4,735.5 616.1,741.7 618.0,751.2 617.1,757.2 606.8,767.0 600.0,767.0 593.1,765.7 587.1,764.0 583.7,762.3 577.3,757.7 567.0,752.0 571.6,742.9" fill="none" stroke="#e07a3a" stroke-width="1"/>
<circle cx="516.6" cy="719.5" r="3.5" fill="#9bbe1f"/>
<circle cx="518.0" cy="720.0" r="3.5" fill="#a1c520"/>
<circle cx="519.4" cy="720.5" r="3.5" fill="#a6cb21"/>
<circle cx="520.9" cy="720.9" r="3.5" fill="#add321"/>
<circle cx="522.3" cy="721.4" r="3.5" fill="#a3c41d"/>
<circle cx="523.7" cy="721.9" r="3.5" fill="#a9ca1d"/>
<circle cx="525.1" cy="722.3" r="3.5" fill="#a7c71c"/>
<circle cx="526.6" cy="722.7" r="3.5" fill="#aecd1c"/>
<circle cx="528.0" cy="723.0" r="3.5" fill="#b7d81c"/>
<circle cx="529.5" cy="723.4" r="3.5" fill="#bdde1c"/>
<circle cx="531.0" cy="723.7" r="3.5" fill="#bfde1a"/>
<circle cx="532.4" cy="724.2" r="3.5" fill="#c1e01b"/>
<circle cx="533.7" cy="724.9" r="3.5" fill="#adc717"/>
<circle cx="535.0" cy="725.5" r="3.5" fill="#b4ce16"/>
<circle cx="536.4" cy="726.2" r="3.5" fill="#cae417"/>
<circle cx="537.7" cy="726.9" r="3.5" fill="#c4db15"/>
<circle cx="539.1" cy="727.6" r="3.5" fill="#bbcf13"/>
<circle cx="540.4" cy="728.1" r="3.5" fill="#cbe013"/>
<circle cx="541.9" cy="728.6" r="3.5" fill="#d8ec12"/>
<circle cx="543.3" cy="729.1" r="3.5" fill="#c7d70f"/>
<circle cx="544.7" cy="729.6" r="3.5" fill="#c9d912"/>
<circle cx="546.1" cy="730.0" r="3.5" fill="#bfd213"/>
<circle cx="547.5" cy="730.5" r="3.5" fill="#d1e917"/>
<circle cx="548.7" cy="731.5" r="3.5" fill="#b8cf17"/>
<circle cx="549.8" cy="732.5" r="3.5" fill="#b6cf19"/>
<circle cx="551.0" cy="733.4" r="3.5" fill="#aec81a"/>
<circle cx="552.3" cy="734.1" r="3.5" fill="#abc61c"/>
<circle cx="553.7" cy="734.7" r="3.5" fill="#a4c21e"/>
<circle cx="555.0" cy="735.3" r="3.5" fill="#a3c11e"/>
<circle cx="556.4" cy="735.9" r="3.5" fill="#b0d020"/>
<circle cx="557.8" cy="736.4" r="3.5" fill="#a9c81f"/>
<circle cx="559.2" cy="737.0" r="3.5" fill="#aac91f"/>
<circle cx="560.6" cy="737.6" r="3.5" fill="#aece20"/>
<circle cx="561.9" cy="738.2" r="3.5" fill="#a8c71f"/>
<circle cx="563.3" cy="738.8" r="3.5" fill="#b1d221"/>
<circle cx="564.7" cy="739.4" r="3.5" fill="#a4c31f"/>
<circle cx="566.1" cy="740.0" r="3.5" fill="#a9c920"/>
<circle cx="567.4" cy="740.6" r="3.5" fill="#a6c51f"/>
<circle cx="568.8" cy="741.2" r="3.5" fill="#aecf21"/>
<circle cx="570.2" cy="741.7" r="3.5" fill="#a5c620"/>
<circle cx="571.6" cy="742.2" r="3.5" fill="#9fc01f"/>
<circle cx="573.0" cy="742.7" r="3.5" fill="#acd122"/>
<circle cx="574.4" cy="743.2" r="3.5" fill="#a5cb21"/>
<circle cx="575.9" cy="743.7" r="3.5" fill="#9abe1f"/>
<circle cx="577.3" cy="744.2" r="3.5" fill="#9fc621"/>
<circle cx="578.7" cy="744.7" r="3.5" fill="#99c020"/>
<circle cx="580.1" cy="745.1" r="3.5" fill="#8db31e"/>
<circle cx="581.6" cy="745.5" r="3.5" fill="#8fb61f"/>
<circle cx="583.0" cy="746.0" r="3.5" fill="#96c121"/>
<circle cx="584.4" cy="746.4" r="3.5" fill="#86ae1e"/>
<circle cx="585.9" cy="746.8" r="3.5" fill="#85ae1e"/>
<circle cx="587.3" cy="747.2" r="3.5" fill="#87b31f"/>
<circle cx="588.8" cy="747.1" r="3.5" fill="#8ab820"/>
<circle cx="590.3" cy="747.0" r="3.5" fill="#7faa1e"/>
<circle cx="591.8" cy="746.9" r="3.5" fill="#90c221"/>
<circle cx="593.3" cy="746.8" r="3.5" fill="#8ec221"/>
<circle cx="594.8" cy="746.7" r="3.5" fill="#88bc1f"/>
<circle cx="596.3" cy="746.6" r="3.5" fill="#88bd1f"/>
<circle cx="597.8" cy="746.6" r="3.5" fill="#87bd20"/>
<circle cx="599.3" cy="746.5" r="3.5" fill="#85bb1e"/>
<circle cx="600.8" cy="746.5" r="3.5" fill="#7cb01d"/>
<circle cx="602.3" cy="746.4" r="3.5" fill="#76a91b"/>
<circle cx="603.8" cy="746.4" r="3.5" fill="#79ae1c"/>
<circle cx="605.3" cy="746.4" r="3.5" fill="#7ab31d"/>
<circle cx="606.8" cy="746.3" r="3.5" fill="#7db61c"/>
<circle cx="608.3" cy="746.3" r="3.5" fill="#79b41c"/>
<circle cx="609.8" cy="746.3" r="3.5" fill="#6da318"/>
<circle cx="611.3" cy="746.2" r="3.5" fill="#6ca419"/>
<circle cx="612.8" cy="746.1" r="3.5" fill="#6ea91a"/>
<circle cx="614.2" cy="745.9" r="3.5" fill="#6ba418"/>
<circle cx="615.7" cy="745.7" r="3.5" fill="#6ba618"/>
<circle cx="617.2" cy="745.5" r="3.5" fill="#70b019"/>
<circle cx="618.7" cy="745.3" r="3.5" fill="#6aa918"/>
<circle cx="620.2" cy="745.1" r="3.5" fill="#6cab18"/>
<circle cx="621.7" cy="745.0" r="3.5" fill="#71b41a"/>
<circle cx="623.1" cy="744.8" r="3.5" fill="#69a718"/>
<circle cx="624.6" cy="744.6" r="3.5" fill="#6baa18"/>
<circle cx="626.1" cy="744.3" r="3.5" fill="#71b41a"/>
<circle cx="627.6" cy="744.1" r="3.5" fill="#6baa18"/>
<circle cx="629.1" cy="743.9" r="3.5" fill="#6faf19"/>
<circle cx="630.6" cy="743.6" r="3.5" fill="#6eae19"/>
<circle cx="632.0" cy="743.4" r="3.5" fill="#69a618"/>
<circle cx="633.5" cy="743.2" r="3.5" fill="#67a317"/>
<circle cx="635.0" cy="742.9" r="3.5" fill="#6baa18"/>
<circle cx="636.5" cy="742.7" r="3.5" fill="#67a317"/>
<circle cx="637.9" cy="742.4" r="3.5" fill="#68a518"/>
<circle cx="639.4" cy="742.2" r="3.5" fill="#639c16"/>
<circle cx="640.9" cy="741.8" r="3.5" fill="#71b31a"/>
<circle cx="642.3" cy="741.5" r="3.5" fill="#71b31a"/>
<circle cx="643.8" cy="741.1" r="3.5" fill="#649e17"/>
<circle cx="645.2" cy="740.8" r="3.5" fill="#66a117"/>
<circle cx="646.7" cy="740.4" r="3.5" fill="#67a317"/>
<circle cx="648.2" cy="740.1" r="3.5" fill="#67a417"/>
<circle cx="649.6" cy="739.7" r="3.5" fill="#67a317"/>
<circle cx="651.1" cy="739.4" r="3.5" fill="#68a417"/>
<circle cx="652.5" cy="739.0" r="3.5" fill="#6baa18"/>
<circle cx="653.9" cy="738.4" r="3.5" fill="#65a017"/>
<circle cx="655.2" cy="737.8" r="3.5" fill="#649f17"/>
<circle cx="656.6" cy="737.1" r="3.5" fill="#6dad19"/>
<circle cx="657.9" cy="736.4" r="3.5" fill="#65a117"/>
<circle cx="659.2" cy="735.7" r="3.5" fill="#6eaf19"/>
<circle cx="660.6" cy="735.0" r="3.5" fill="#65a017"/>
<circle cx="661.9" cy="734.4" r="3.5" fill="#71b31a"/>
<circle cx="663.2" cy="733.6" r="3.5" fill="#649f17"/>
<circle cx="664.4" cy="732.7" r="3.5" fill="#6aa718"/>
<circle cx="665.7" cy="731.9" r="3.5" fill="#6fb019"/>
<circle cx="666.9" cy="731.1" r="3.5" fill="#6fb019"/>
<circle cx="668.2" cy="730.3" r="3.5" fill="#6eaf19"/>
<circle cx="669.5" cy="729.5" r="3.5" fill="#6dad19"/>
<circle cx="670.7" cy="728.7" r="3.5" fill="#70b219"/>
<circle cx="672.0" cy="727.9" r="3.5" fill="#65a117"/>
<circle cx="673.2" cy="727.1" r="3.5" fill="#6fb019"/>
<circle cx="674.5" cy="726.3" r="3.5" fill="#70b219"/>
<circle cx="675.8" cy="725.4" r="3.5" fill="#649f17"/>
<circle cx="677.0" cy="724.6" r="3.5" fill="#6caa18"/>
<circle cx="678.4" cy="724.2" r="3.5" fill="#6fb119"/>
<circle cx="679.9" cy="723.8" r="3.5" fill="#70b119"/>
<circle cx="681.3" cy="723.5" r="3.5" fill="#71b31a"/>
<circle cx="682.8" cy="723.1" r="3.5" fill="#67a317"/>
<circle cx="684.3" cy="722.8" r="3.5" fill="#6dad19"/>
<circle cx="685.7" cy="722.5" r="3.5" fill="#67a417"/>
<circle cx="687.2" cy="722.6" r="3.5" fill="#68a417"/>
<circle cx="688.7" cy="722.8" r="3.5" fill="#70b119"/>
<circle cx="690.2" cy="722.9" r="3.5" fill="#66a217"/>
<circle cx="691.7" cy="723.0" r="3.5" fill="#67a417"/>
<circle cx="577.7" cy="664.3" r="3.5" fill="#80b619"/>
<circle cx="578.1" cy="665.7" r="3.5" fill="#7db118"/>
<circle cx="578.5" cy="667.2" r="3.5" fill="#7db019"/>
<circle cx="578.9" cy="668.6" r="3.5" fill="#83b71a"/>
<circle cx="579.3" cy="670.0" r="3.5" fill="#88bc1c"/>
<circle cx="579.7" cy="671.5" r="3.5" fill="#7eaf1a"/>
<circle cx="580.0" cy="672.9" r="3.5" fill="#84b31b"/>
<circle cx="580.4" cy="674.4" r="3.5" fill="#7aa619"/>
<circle cx="580.6" cy="675.8" r="3.5" fill="#87b71d"/>
<circle cx="580.7" cy="677.3" r="3.5" fill="#7da71a"/>
<circle cx="580.8" cy="678.8" r="3.5" fill="#84b01c"/>
<circle cx="580.9" cy="680.3" r="3.5" fill="#87b41d"/>
<circle cx="581.0" cy="681.8" r="3.5" fill="#84ad1d"/>
<circle cx="581.2" cy="683.3" r="3.5" fill="#8eba1f"/>
<circle cx="581.3" cy="684.7" r="3.5" fill="#95c221"/>
<circle cx="581.8" cy="686.1" r="3.5" fill="#90ba20"/>
<circle cx="582.5" cy="687.5" r="3.5" fill="#8bb31f"/>
<circle cx="583.1" cy="688.8" r="3.5" fill="#98c222"/>
<circle cx="583.8" cy="690.1" r="3.5" fill="#9ac522"/>
<circle cx="584.4" cy="691.5" r="3.5" fill="#8eb51f"/>
<circle cx="585.1" cy="692.8" r="3.5" fill="#98c121"/>
<circle cx="585.7" cy="694.1" r="3.5" fill="#9ec722"/>
<circle cx="586.3" cy="695.5" r="3.5" fill="#9fc822"/>
<circle cx="586.8" cy="696.9" r="3.5" fill="#98be20"/>
<circle cx="587.2" cy="698.3" r="3.5" fill="#9cc321"/>
<circle cx="587.6" cy="699.8" r="3.5" fill="#98bd20"/>
<circle cx="588.1" cy="701.2" r="3.5" fill="#95b91f"/>
<circle cx="588.5" cy="702.6" r="3.5" fill="#94b71e"/>
<circle cx="589.0" cy="704.0" r="3.5" fill="#a2c821"/>
<circle cx="589.4" cy="705.5" r="3.5" fill="#92b51e"/>
<circle cx="589.7" cy="706.9" r="3.5" fill="#a0c520"/>
<circle cx="589.8" cy="708.4" r="3.5" fill="#9bbe1f"/>
<circle cx="589.9" cy="709.9" r="3.5" fill="#a7cd21"/>
<circle cx="590.0" cy="711.4" r="3.5" fill="#a2c620"/>
<circle cx="590.1" cy="712.8" r="3.5" fill="#a6cb21"/>
<circle cx="590.1" cy="714.3" r="3.5" fill="#9abd1f"/>
<circle cx="590.2" cy="715.8" r="3.5" fill="#96b81e"/>
<circle cx="590.3" cy="717.3" r="3.5" fill="#97b91e"/>
<circle cx="590.4" cy="718.8" r="3.5" fill="#a5ca21"/>
<circle cx="590.5" cy="720.3" r="3.5" fill="#9fc320"/>
<circle cx="590.7" cy="721.7" r="3.5" fill="#98bb1e"/>
<circle cx="590.9" cy="723.2" r="3.5" fill="#9bbe1f"/>
<circle cx="591.1" cy="724.7" r="3.5" fill="#9bbe1f"/>
<circle cx="591.3" cy="726.2" r="3.5" fill="#98ba1e"/>
<circle cx="591.7" cy="727.6" r="3.5" fill="#9fc320"/>
<circle cx="592.3" cy="728.9" r="3.5" fill="#99bb1f"/>
<circle cx="593.0" cy="730.2" r="3.5" fill="#a5cb21"/>
<circle cx="593.7" cy="731.6" r="3.5" fill="#99bd1f"/>
<circle cx="594.4" cy="732.9" r="3.5" fill="#a1c621"/>
<circle cx="595.0" cy="734.2" r="3.5" fill="#94b71e"/>
<circle cx="595.1" cy="735.7" r="3.5" fill="#94b71e"/>
<circle cx="595.2" cy="737.2" r="3.5" fill="#a0c721"/>
<circle cx="595.3" cy="738.7" r="3.5" fill="#99bd20"/>
<circle cx="595.4" cy="740.2" r="3.5" fill="#98bd20"/>
<circle cx="595.5" cy="741.7" r="3.5" fill="#9ec521"/>
<circle cx="595.6" cy="743.2" r="3.5" fill="#92b71f"/>
<circle cx="595.7" cy="744.6" r="3.5" fill="#9fc822"/>
<circle cx="595.8" cy="746.1" r="3.5" fill="#93b81f"/>
<circle cx="595.9" cy="747.6" r="3.5" fill="#9bc221"/>
<circle cx="596.0" cy="749.1" r="3.5" fill="#8db11e"/>
<circle cx="596.1" cy="750.6" r="3.5" fill="#8baf1e"/>
<circle cx="596.2" cy="752.1" r="3.5" fill="#97bf21"/>
<circle cx="596.3" cy="753.5" r="3.5" fill="#91b820"/>
<circle cx="596.5" cy="755.0" r="3.5" fill="#98c021"/>
<circle cx="596.6" cy="756.5" r="3.5" fill="#89af1e"/>
<circle cx="596.7" cy="758.0" r="3.5" fill="#97c122"/>
<circle cx="596.8" cy="759.5" r="3.5" fill="#8eb51f"/>
<circle cx="596.9" cy="761.0" r="3.5" fill="#9bc422"/>
<circle cx="597.0" cy="762.5" r="3.5" fill="#8cb21f"/>
<circle cx="597.2" cy="763.9" r="3.5" fill="#95bd20"/>
<circle cx="597.5" cy="765.4" r="3.5" fill="#9ec722"/>
<circle cx="597.7" cy="766.9" r="3.5" fill="#a0c722"/>
<circle cx="597.9" cy="768.4" r="3.5" fill="#9cc221"/>
<circle cx="598.1" cy="769.8" r="3.5" fill="#a3cb22"/>
<circle cx="598.3" cy="771.3" r="3.5" fill="#95b91f"/>
<circle cx="598.9" cy="772.6" r="3.5" fill="#9bc020"/>
<circle cx="599.7" cy="773.9" r="3.5" fill="#92b41e"/>
<circle cx="600.5" cy="775.2" r="3.5" fill="#95b71e"/>
<circle cx="601.3" cy="776.4" r="3.5" fill="#94b51e"/>
<circle cx="602.0" cy="777.7" r="3.5" fill="#9ec120"/>
<circle cx="602.8" cy="779.0" r="3.5" fill="#a9cd22"/>
<circle cx="603.5" cy="780.3" r="3.5" fill="#9bbc1f"/>
<circle cx="604.2" cy="781.6" r="3.5" fill="#aacd22"/>
<circle cx="604.9" cy="782.9" r="3.5" fill="#a5c820"/>
<circle cx="605.6" cy="784.2" r="3.5" fill="#9cbd1f"/>
<circle cx="606.3" cy="785.5" r="3.5" fill="#a9c921"/>
<circle cx="607.0" cy="786.8" r="3.5" fill="#adce21"/>
<circle cx="607.7" cy="788.2" r="3.5" fill="#a0bf1f"/>
<circle cx="608.1" cy="789.6" r="3.5" fill="#a3c21f"/>
<circle cx="608.6" cy="791.0" r="3.5" fill="#b5d722"/>
<circle cx="609.0" cy="792.4" r="3.5" fill="#accd20"/>
<circle cx="609.4" cy="793.9" r="3.5" fill="#b3d522"/>
<circle cx="609.9" cy="795.3" r="3.5" fill="#a4c21f"/>
<circle cx="610.3" cy="796.7" r="3.5" fill="#a6c51f"/>
<circle cx="610.9" cy="798.1" r="3.5" fill="#a2c11e"/>
<circle cx="611.6" cy="799.4" r="3.5" fill="#b5d722"/>
<circle cx="612.3" cy="800.7" r="3.5" fill="#aece20"/>
<circle cx="613.0" cy="802.0" r="3.5" fill="#a5c31f"/>
<circle cx="613.7" cy="803.3" r="3.5" fill="#b1d121"/>
<circle cx="614.4" cy="804.6" r="3.5" fill="#b3d321"/>
<circle cx="615.1" cy="806.0" r="3.5" fill="#accb1f"/>
<circle cx="615.8" cy="807.3" r="3.5" fill="#adcd20"/>
<circle cx="616.5" cy="808.6" r="3.5" fill="#b7d821"/>
<circle cx="617.4" cy="809.8" r="3.5" fill="#acca1e"/>
<circle cx="618.3" cy="811.0" r="3.5" fill="#abca1e"/>
<circle cx="619.1" cy="812.2" r="3.5" fill="#a8c61c"/>
<circle cx="620.0" cy="813.4" r="3.5" fill="#b3d11d"/>
<circle cx="620.9" cy="814.6" r="3.5" fill="#a7c41b"/>
<circle cx="621.7" cy="815.8" r="3.5" fill="#a9c51a"/>
<circle cx="622.6" cy="817.0" r="3.5" fill="#a9c61a"/>
<circle cx="623.4" cy="818.2" r="3.5" fill="#bfde1c"/>
<circle cx="624.3" cy="819.5" r="3.5" fill="#b8d51a"/>
<circle cx="625.2" cy="820.7" r="3.5" fill="#acc819"/>
<circle cx="626.0" cy="821.9" r="3.5" fill="#c1e01a"/>
<circle cx="626.9" cy="823.1" r="3.5" fill="#bdd919"/>
<polygon points="575.1,688.9 577.3,685.0 579.5,688.9" fill="#a80c0c"/>
<polygon points="660.1,695.4 662.3,691.5 664.5,695.4" fill="#a80c0c"/>
<polygon points="594.7,728.2 596.9,724.3 599.1,728.2" fill="#a80c0c"/>
<polygon points="639.4,735.4 641.6,731.5 643.8,735.4" fill="#a80c0c"/>
<polygon points="583.6,753.9 585.8,750.0 588.0,753.9" fill="#a80c0c"/>
<polygon points="588.2,771.6 590.4,767.7 592.6,771.6" fill="#a80c0c"/>
<polygon points="614.9,765.3 617.1,761.4 619.3,765.3" fill="#a80c0c"/>
<polygon points="637.2,775.7 639.4,771.8 641.6,775.7" fill="#a80c0c"/>
<polygon points="523.6,787.5 525.8,783.6 528.0,787.5" fill="#a80c0c"/>
<polygon points="599.4,801.1 601.6,797.2 603.8,801.1" fill="#a80c0c"/>
<text x="576.5" y="681.7" class="lb">76.8</text>
<text x="660.1" y="688.9" class="lb">111.4</text>
<text x="595.7" y="720.9" class="lb">118</text>
<text x="640.1" y="728.3" class="lb">129.4</text>
<text x="584.8" y="747.2" class="lb">138.6</text>
<text x="615.7" y="757.4" class="lb">129.4</text>
<text x="588.8" y="764.3" class="lb">138.4</text>
<text x="637.3" y="768.9" class="lb">132</text>
<text x="526.6" y="780.3" class="lb">134.4</text>
<text x="599.4" y="793.3" class="lb">127</text>
</g>
<g>
<polygon points="177.0,873.4 183.4,868.2 189.9,866.3 199.9,867.5 206.3,867.5 220.6,858.9 237.8,858.9 243.5,861.8 250.6,868.9 260.6,871.8 259.2,878.9 254.9,886.1 253.5,890.4 263.5,894.5 273.5,898.9 280.6,904.5 289.2,910.4 293.5,917.5 293.5,928.9 290.6,937.5 289.2,957.5 290.6,964.6 292.0,974.6 287.8,984.6 280.6,994.6 269.2,1006.1 260.6,1014.6 249.2,1020.4 234.9,1027.5 223.5,1033.2 213.5,1041.8 204.9,1048.9 196.9,1054.5 192.8,1051.8 182.8,1047.5 174.2,1045.4 168.5,1047.5 147.0,1047.5 137.0,1046.1 128.5,1038.9 122.8,1028.9 117.0,1017.5 111.3,1003.2 108.5,993.2 104.2,986.1 102.2,981.0 102.1,965.5 102.3,957.5 102.8,951.8 108.5,937.5 114.2,926.1 120.5,921.6 125.6,917.1 130.7,910.6 135.9,904.2 139.7,897.8 143.6,891.3 148.7,888.1 156.5,883.6 164.2,879.8 171.9,876.6" fill="none" stroke="#8a3e80" stroke-width="1"/>
<polygon points="213.5,899.6 223.5,903.2 234.9,911.8 243.5,916.1 249.2,921.8 252.0,931.8 254.9,943.2 259.2,954.5 263.5,963.2 262.0,971.8 257.8,980.4 249.2,986.1 237.8,990.4 223.5,996.1 215.7,1002.6 208.0,1006.1 202.0,1012.1 191.3,1010.0 184.9,1008.6 179.9,1006.1 169.9,1002.5 151.3,1008.2 147.0,996.1 142.8,984.6 138.5,971.8 135.6,963.2 136.9,957.5 138.5,943.2 142.8,934.5 151.3,931.8 159.9,928.9 171.3,918.9 185.6,911.5 194.9,906.1 203.5,901.8" fill="none" stroke="#6a9e58" stroke-width="1"/>
<polygon points="169.3,930.9 176.8,928.1 184.2,927.5 196.8,926.4 199.0,928.6 200.2,932.1 209.3,932.1 220.8,933.8 229.9,938.4 237.8,946.1 242.3,955.5 240.6,958.9 232.9,966.6 227.7,975.2 221.7,978.6 210.6,979.9 203.8,981.2 196.0,982.1 193.5,979.5 187.0,978.0 181.3,979.6 174.2,977.5 164.2,974.6 156.3,971.1 156.3,957.5 158.5,948.9 164.2,937.5" fill="none" stroke="#2c3c88" stroke-width="1"/>
<polygon points="176.2,942.9 188.8,942.4 202.5,941.2 211.6,942.4 217.3,948.6 219.2,958.1 218.3,964.1 208.0,973.9 201.2,973.9 194.3,972.6 188.3,970.9 184.9,969.2 178.5,964.6 168.2,958.9 172.8,949.8" fill="none" stroke="#e07a3a" stroke-width="1"/>
<circle cx="120.2" cy="923.9" r="3.5" fill="#488e13"/>
<circle cx="121.5" cy="924.6" r="3.5" fill="#509315"/>
<circle cx="122.8" cy="925.4" r="3.5" fill="#61a618"/>
<circle cx="124.1" cy="926.1" r="3.5" fill="#66a419"/>
<circle cx="125.4" cy="926.9" r="3.5" fill="#6aa31a"/>
<circle cx="126.7" cy="927.6" r="3.5" fill="#73a91b"/>
<circle cx="128.0" cy="928.3" r="3.5" fill="#7fb21e"/>
<circle cx="129.3" cy="929.1" r="3.5" fill="#83b21e"/>
<circle cx="130.7" cy="929.7" r="3.5" fill="#90be21"/>
<circle cx="132.1" cy="930.3" r="3.5" fill="#86b01e"/>
<circle cx="133.5" cy="930.8" r="3.5" fill="#8eb81f"/>
<circle cx="134.8" cy="931.4" r="3.5" fill="#8fb71f"/>
<circle cx="136.2" cy="932.0" r="3.5" fill="#9cc621"/>
<circle cx="137.6" cy="932.6" r="3.5" fill="#a0c922"/>
<circle cx="139.0" cy="933.2" r="3.5" fill="#9cc220"/>
<circle cx="140.4" cy="933.7" r="3.5" fill="#a8ce22"/>
<circle cx="141.8" cy="934.2" r="3.5" fill="#98b91e"/>
<circle cx="143.2" cy="934.7" r="3.5" fill="#a9cb21"/>
<circle cx="144.6" cy="935.2" r="3.5" fill="#a1c11f"/>
<circle cx="146.1" cy="935.7" r="3.5" fill="#9abb1e"/>
<circle cx="147.4" cy="936.2" r="3.5" fill="#99c21e"/>
<circle cx="148.7" cy="937.0" r="3.5" fill="#88b11b"/>
<circle cx="150.0" cy="937.8" r="3.5" fill="#80ac1a"/>
<circle cx="151.2" cy="938.6" r="3.5" fill="#7dae1a"/>
<circle cx="152.5" cy="939.4" r="3.5" fill="#7bb21a"/>
<circle cx="153.8" cy="940.2" r="3.5" fill="#73af1a"/>
<circle cx="155.1" cy="941.0" r="3.5" fill="#6eaf19"/>
<circle cx="156.4" cy="941.7" r="3.5" fill="#63a116"/>
<circle cx="157.7" cy="942.5" r="3.5" fill="#63a517"/>
<circle cx="159.0" cy="943.2" r="3.5" fill="#63ab17"/>
<circle cx="160.4" cy="943.8" r="3.5" fill="#5fa717"/>
<circle cx="161.7" cy="944.4" r="3.5" fill="#519414"/>
<circle cx="163.1" cy="945.0" r="3.5" fill="#4e9515"/>
<circle cx="164.5" cy="945.6" r="3.5" fill="#488f13"/>
<circle cx="165.9" cy="946.2" r="3.5" fill="#4a9514"/>
<circle cx="167.2" cy="946.8" r="3.5" fill="#489213"/>
<circle cx="168.6" cy="947.3" r="3.5" fill="#479413"/>
<circle cx="170.0" cy="947.9" r="3.5" fill="#438d12"/>
<circle cx="171.4" cy="948.4" r="3.5" fill="#479913"/>
<circle cx="172.9" cy="948.9" r="3.5" fill="#3e8711"/>
<circle cx="174.3" cy="949.4" r="3.5" fill="#449813"/>
<circle cx="175.7" cy="949.9" r="3.5" fill="#429412"/>
<circle cx="177.1" cy="950.5" r="3.5" fill="#3f9112"/>
<circle cx="178.5" cy="951.0" r="3.5" fill="#3d8e10"/>
<circle cx="179.9" cy="951.5" r="3.5" fill="#3e9311"/>
<circle cx="181.3" cy="952.0" r="3.5" fill="#3a8910"/>
<circle cx="182.7" cy="952.5" r="3.5" fill="#3e9311"/>
<circle cx="184.1" cy="953.0" r="3.5" fill="#3e9311"/>
<circle cx="185.5" cy="953.6" r="3.5" fill="#36820f"/>
<circle cx="186.9" cy="954.1" r="3.5" fill="#3a8b10"/>
<circle cx="188.4" cy="954.0" r="3.5" fill="#37830f"/>
<circle cx="189.9" cy="953.9" r="3.5" fill="#3c8e10"/>
<circle cx="191.4" cy="953.9" r="3.5" fill="#36820f"/>
<circle cx="192.9" cy="953.8" r="3.5" fill="#3e9311"/>
<circle cx="194.4" cy="953.7" r="3.5" fill="#38840f"/>
<circle cx="195.9" cy="953.6" r="3.5" fill="#398910"/>
<circle cx="197.4" cy="953.5" r="3.5" fill="#36810f"/>
<circle cx="198.9" cy="953.5" r="3.5" fill="#3a8b10"/>
<circle cx="200.4" cy="953.4" r="3.5" fill="#3c8f11"/>
<circle cx="201.9" cy="953.4" r="3.5" fill="#3d9211"/>
<circle cx="203.4" cy="953.3" r="3.5" fill="#37830f"/>
<circle cx="204.9" cy="953.3" r="3.5" fill="#388610"/>
<circle cx="206.4" cy="953.3" r="3.5" fill="#398810"/>
<circle cx="207.9" cy="953.2" r="3.5" fill="#38850f"/>
<circle cx="209.4" cy="953.2" r="3.5" fill="#38850f"/>
<circle cx="210.9" cy="953.2" r="3.5" fill="#398710"/>
<circle cx="212.4" cy="953.1" r="3.5" fill="#3b8d10"/>
<circle cx="213.9" cy="953.0" r="3.5" fill="#38840f"/>
<circle cx="215.4" cy="952.9" r="3.5" fill="#3e9311"/>
<circle cx="216.9" cy="952.7" r="3.5" fill="#36810f"/>
<circle cx="218.3" cy="952.5" r="3.5" fill="#388610"/>
<circle cx="219.8" cy="952.3" r="3.5" fill="#3b8e10"/>
<circle cx="221.3" cy="952.1" r="3.5" fill="#38850f"/>
<circle cx="222.8" cy="951.9" r="3.5" fill="#3a8b10"/>
<circle cx="224.3" cy="951.7" r="3.5" fill="#398910"/>
<circle cx="225.8" cy="951.5" r="3.5" fill="#388610"/>
<circle cx="227.3" cy="951.3" r="3.5" fill="#398810"/>
<circle cx="228.7" cy="951.0" r="3.5" fill="#38850f"/>
<circle cx="230.2" cy="950.8" r="3.5" fill="#3b8c10"/>
<circle cx="231.7" cy="950.5" r="3.5" fill="#398710"/>
<circle cx="233.2" cy="950.3" r="3.5" fill="#36810f"/>
<circle cx="234.7" cy="950.1" r="3.5" fill="#3c8f11"/>
<circle cx="236.1" cy="949.8" r="3.5" fill="#38840f"/>
<circle cx="237.6" cy="949.6" r="3.5" fill="#398710"/>
<circle cx="239.1" cy="949.3" r="3.5" fill="#36810f"/>
<circle cx="240.6" cy="949.1" r="3.5" fill="#3b8c10"/>
<circle cx="242.0" cy="948.8" r="3.5" fill="#36810f"/>
<circle cx="243.5" cy="948.4" r="3.5" fill="#3a8a10"/>
<circle cx="244.9" cy="948.0" r="3.5" fill="#3d9211"/>
<circle cx="246.4" cy="947.7" r="3.5" fill="#36810f"/>
<circle cx="247.9" cy="947.3" r="3.5" fill="#38840f"/>
<circle cx="249.3" cy="947.0" r="3.5" fill="#3c9011"/>
<circle cx="250.8" cy="946.6" r="3.5" fill="#38850f"/>
<circle cx="252.2" cy="946.3" r="3.5" fill="#3d9211"/>
<circle cx="253.7" cy="945.9" r="3.5" fill="#3b8b10"/>
<circle cx="255.1" cy="945.4" r="3.5" fill="#398810"/>
<circle cx="256.4" cy="944.7" r="3.5" fill="#398710"/>
<circle cx="257.7" cy="944.0" r="3.5" fill="#37840f"/>
<circle cx="259.1" cy="943.3" r="3.5" fill="#3d9011"/>
<circle cx="260.4" cy="942.6" r="3.5" fill="#398710"/>
<circle cx="261.7" cy="941.9" r="3.5" fill="#37840f"/>
<circle cx="263.1" cy="941.3" r="3.5" fill="#38840f"/>
<circle cx="264.4" cy="940.5" r="3.5" fill="#398910"/>
<circle cx="265.6" cy="939.7" r="3.5" fill="#388610"/>
<circle cx="266.9" cy="938.8" r="3.5" fill="#398710"/>
<circle cx="268.1" cy="938.0" r="3.5" fill="#3c8f11"/>
<circle cx="269.4" cy="937.2" r="3.5" fill="#3a8910"/>
<circle cx="270.6" cy="936.4" r="3.5" fill="#3c8f11"/>
<circle cx="271.9" cy="935.6" r="3.5" fill="#388610"/>
<circle cx="273.2" cy="934.8" r="3.5" fill="#3d9111"/>
<circle cx="274.4" cy="934.0" r="3.5" fill="#3b8d10"/>
<circle cx="275.7" cy="933.2" r="3.5" fill="#3b8c10"/>
<circle cx="277.0" cy="932.4" r="3.5" fill="#3a8a10"/>
<circle cx="278.2" cy="931.5" r="3.5" fill="#3c8f11"/>
<circle cx="279.6" cy="931.1" r="3.5" fill="#37840f"/>
<circle cx="281.1" cy="930.7" r="3.5" fill="#388610"/>
<circle cx="282.5" cy="930.4" r="3.5" fill="#3a8b10"/>
<circle cx="284.0" cy="930.0" r="3.5" fill="#36820f"/>
<circle cx="285.5" cy="929.7" r="3.5" fill="#3b8c10"/>
<circle cx="286.9" cy="929.4" r="3.5" fill="#398910"/>
<circle cx="288.4" cy="929.5" r="3.5" fill="#37820f"/>
<circle cx="289.9" cy="929.7" r="3.5" fill="#388610"/>
<circle cx="291.4" cy="929.8" r="3.5" fill="#37820f"/>
<circle cx="292.9" cy="929.9" r="3.5" fill="#37820f"/>
<circle cx="178.9" cy="871.2" r="3.5" fill="#4c9915"/>
<circle cx="179.3" cy="872.6" r="3.5" fill="#489013"/>
<circle cx="179.7" cy="874.1" r="3.5" fill="#458a13"/>
<circle cx="180.1" cy="875.5" r="3.5" fill="#468c13"/>
<circle cx="180.5" cy="876.9" r="3.5" fill="#478f13"/>
<circle cx="180.9" cy="878.4" r="3.5" fill="#4e9d15"/>
<circle cx="181.2" cy="879.8" r="3.5" fill="#4f9d15"/>
<circle cx="181.6" cy="881.3" r="3.5" fill="#468c13"/>
<circle cx="181.8" cy="882.7" r="3.5" fill="#4c9815"/>
<circle cx="181.9" cy="884.2" r="3.5" fill="#4e9d15"/>
<circle cx="182.0" cy="885.7" r="3.5" fill="#458a13"/>
<circle cx="182.1" cy="887.2" r="3.5" fill="#489013"/>
<circle cx="182.2" cy="888.7" r="3.5" fill="#478d13"/>
<circle cx="182.4" cy="890.2" r="3.5" fill="#4b9714"/>
<circle cx="182.5" cy="891.6" r="3.5" fill="#4c9714"/>
<circle cx="183.0" cy="893.0" r="3.5" fill="#499314"/>
<circle cx="183.7" cy="894.4" r="3.5" fill="#4b9514"/>
<circle cx="184.3" cy="895.7" r="3.5" fill="#489114"/>
<circle cx="185.0" cy="897.0" r="3.5" fill="#4e9b15"/>
<circle cx="185.6" cy="898.4" r="3.5" fill="#4c9815"/>
<circle cx="186.3" cy="899.7" r="3.5" fill="#4c9815"/>
<circle cx="186.9" cy="901.0" r="3.5" fill="#499214"/>
<circle cx="187.5" cy="902.4" r="3.5" fill="#4d9a15"/>
<circle cx="188.0" cy="903.8" r="3.5" fill="#4d9915"/>
<circle cx="188.4" cy="905.2" r="3.5" fill="#4a9514"/>
<circle cx="188.8" cy="906.7" r="3.5" fill="#4e9e15"/>
<circle cx="189.3" cy="908.1" r="3.5" fill="#448913"/>
<circle cx="189.7" cy="909.5" r="3.5" fill="#468e12"/>
<circle cx="190.2" cy="910.9" r="3.5" fill="#448b12"/>
<circle cx="190.6" cy="912.4" r="3.5" fill="#418912"/>
<circle cx="190.9" cy="913.8" r="3.5" fill="#489413"/>
<circle cx="191.0" cy="915.3" r="3.5" fill="#438c12"/>
<circle cx="191.1" cy="916.8" r="3.5" fill="#408811"/>
<circle cx="191.2" cy="918.3" r="3.5" fill="#408a11"/>
<circle cx="191.3" cy="919.7" r="3.5" fill="#418d12"/>
<circle cx="191.3" cy="921.2" r="3.5" fill="#439212"/>
<circle cx="191.4" cy="922.7" r="3.5" fill="#449413"/>
<circle cx="191.5" cy="924.2" r="3.5" fill="#3d8811"/>
<circle cx="191.6" cy="925.7" r="3.5" fill="#419212"/>
<circle cx="191.7" cy="927.2" r="3.5" fill="#409212"/>
<circle cx="191.9" cy="928.6" r="3.5" fill="#3c8911"/>
<circle cx="192.1" cy="930.1" r="3.5" fill="#3d8d11"/>
<circle cx="192.3" cy="931.6" r="3.5" fill="#3a8610"/>
<circle cx="192.5" cy="933.1" r="3.5" fill="#39860f"/>
<circle cx="192.9" cy="934.5" r="3.5" fill="#37810f"/>
<circle cx="193.5" cy="935.8" r="3.5" fill="#3a8a10"/>
<circle cx="194.2" cy="937.1" r="3.5" fill="#3d8f11"/>
<circle cx="194.9" cy="938.5" r="3.5" fill="#38850f"/>
<circle cx="195.6" cy="939.8" r="3.5" fill="#3b8c10"/>
<circle cx="196.2" cy="941.1" r="3.5" fill="#3e8f10"/>
<circle cx="196.3" cy="942.6" r="3.5" fill="#3c8a11"/>
<circle cx="196.4" cy="944.1" r="3.5" fill="#419512"/>
<circle cx="196.5" cy="945.6" r="3.5" fill="#3e8f11"/>
<circle cx="196.6" cy="947.1" r="3.5" fill="#429512"/>
<circle cx="196.7" cy="948.6" r="3.5" fill="#3d8c11"/>
<circle cx="196.8" cy="950.1" r="3.5" fill="#3f8c11"/>
<circle cx="196.9" cy="951.5" r="3.5" fill="#439512"/>
<circle cx="197.0" cy="953.0" r="3.5" fill="#3d8610"/>
<circle cx="197.1" cy="954.5" r="3.5" fill="#3e8911"/>
<circle cx="197.2" cy="956.0" r="3.5" fill="#459613"/>
<circle cx="197.3" cy="957.5" r="3.5" fill="#408c12"/>
<circle cx="197.4" cy="959.0" r="3.5" fill="#418d12"/>
<circle cx="197.5" cy="960.4" r="3.5" fill="#3f8911"/>
<circle cx="197.7" cy="961.9" r="3.5" fill="#429012"/>
<circle cx="197.8" cy="963.4" r="3.5" fill="#3f8611"/>
<circle cx="197.9" cy="964.9" r="3.5" fill="#469613"/>
<circle cx="198.0" cy="966.4" r="3.5" fill="#469513"/>
<circle cx="198.1" cy="967.9" r="3.5" fill="#499a14"/>
<circle cx="198.2" cy="969.4" r="3.5" fill="#469413"/>
<circle cx="198.4" cy="970.8" r="3.5" fill="#4a9b14"/>
<circle cx="198.7" cy="972.3" r="3.5" fill="#418712"/>
<circle cx="198.9" cy="973.8" r="3.5" fill="#448d12"/>
<circle cx="199.1" cy="975.3" r="3.5" fill="#4b9b14"/>
<circle cx="199.3" cy="976.7" r="3.5" fill="#458e12"/>
<circle cx="199.5" cy="978.2" r="3.5" fill="#4a9714"/>
<circle cx="200.1" cy="979.5" r="3.5" fill="#489414"/>
<circle cx="200.9" cy="980.8" r="3.5" fill="#448c13"/>
<circle cx="201.7" cy="982.1" r="3.5" fill="#479014"/>
<circle cx="202.5" cy="983.3" r="3.5" fill="#468d13"/>
<circle cx="203.2" cy="984.6" r="3.5" fill="#468c13"/>
<circle cx="204.0" cy="985.9" r="3.5" fill="#458a13"/>
<circle cx="204.7" cy="987.2" r="3.5" fill="#4a9113"/>
<circle cx="205.4" cy="988.5" r="3.5" fill="#519c15"/>
<circle cx="206.1" cy="989.8" r="3.5" fill="#519a15"/>
<circle cx="206.8" cy="991.1" r="3.5" fill="#4d9114"/>
<circle cx="207.5" cy="992.4" r="3.5" fill="#4f9314"/>
<circle cx="208.2" cy="993.7" r="3.5" fill="#5ba616"/>
<circle cx="208.9" cy="995.1" r="3.5" fill="#529515"/>
<circle cx="209.3" cy="996.5" r="3.5" fill="#599e16"/>
<circle cx="209.8" cy="997.9" r="3.5" fill="#559515"/>
<circle cx="210.2" cy="999.3" r="3.5" fill="#5ea216"/>
<circle cx="210.6" cy="1000.8" r="3.5" fill="#5d9e16"/>
<circle cx="211.1" cy="1002.2" r="3.5" fill="#65ac19"/>
<circle cx="211.5" cy="1003.6" r="3.5" fill="#63a517"/>
<circle cx="212.1" cy="1005.0" r="3.5" fill="#63a417"/>
<circle cx="212.8" cy="1006.3" r="3.5" fill="#65a517"/>
<circle cx="213.5" cy="1007.6" r="3.5" fill="#619e17"/>
<circle cx="214.2" cy="1008.9" r="3.5" fill="#6bac19"/>
<circle cx="214.9" cy="1010.2" r="3.5" fill="#67a317"/>
<circle cx="215.6" cy="1011.5" r="3.5" fill="#78af17"/>
<circle cx="216.3" cy="1012.9" r="3.5" fill="#8bbb15"/>
<circle cx="217.0" cy="1014.2" r="3.5" fill="#a6d015"/>
<circle cx="217.7" cy="1015.5" r="3.5" fill="#accc12"/>
<circle cx="218.6" cy="1016.7" r="3.5" fill="#c1da11"/>
<circle cx="219.5" cy="1017.9" r="3.5" fill="#bdd511"/>
<circle cx="220.3" cy="1019.1" r="3.5" fill="#a8cd14"/>
<circle cx="221.2" cy="1020.3" r="3.5" fill="#7eac15"/>
<circle cx="222.1" cy="1021.5" r="3.5" fill="#6eaf19"/>
<circle cx="222.9" cy="1022.7" r="3.5" fill="#63a116"/>
<circle cx="223.8" cy="1023.9" r="3.5" fill="#67ad18"/>
<circle cx="224.6" cy="1025.1" r="3.5" fill="#61a717"/>
<circle cx="225.5" cy="1026.4" r="3.5" fill="#599d16"/>
<circle cx="226.4" cy="1027.6" r="3.5" fill="#539a15"/>
<circle cx="227.2" cy="1028.8" r="3.5" fill="#4e9414"/>
<circle cx="228.1" cy="1030.0" r="3.5" fill="#4a9214"/>
<polygon points="176.3,895.8 178.5,891.9 180.7,895.8" fill="#a80c0c"/>
<polygon points="261.3,902.3 263.5,898.4 265.7,902.3" fill="#a80c0c"/>
<polygon points="195.9,935.1 198.1,931.2 200.3,935.1" fill="#a80c0c"/>
<polygon points="240.6,942.3 242.8,938.4 245.0,942.3" fill="#a80c0c"/>
<polygon points="184.8,960.8 187.0,956.9 189.2,960.8" fill="#a80c0c"/>
<polygon points="189.4,978.5 191.6,974.6 193.8,978.5" fill="#a80c0c"/>
<polygon points="216.1,972.2 218.3,968.3 220.5,972.2" fill="#a80c0c"/>
<polygon points="238.4,982.6 240.6,978.7 242.8,982.6" fill="#a80c0c"/>
<polygon points="124.8,994.4 127.0,990.5 129.2,994.4" fill="#a80c0c"/>
<polygon points="200.6,1008.0 202.8,1004.1 205.0,1008.0" fill="#a80c0c"/>
<text x="177.7" y="888.6" class="lb">38</text>
<text x="261.3" y="895.8" class="lb">53.8</text>
<text x="196.9" y="927.8" class="lb">57.6</text>
<text x="241.3" y="935.2" class="lb">74.8</text>
<text x="186.0" y="954.1" class="lb">48.4</text>
<text x="216.9" y="964.3" class="lb">54.6</text>
<text x="190.0" y="971.2" class="lb">51.6</text>
<text x="238.5" y="975.8" class="lb">50.6</text>
<text x="124.9" y="987.2" class="lb">67.2</text>
<text x="200.6" y="1000.2" class="lb">62.4</text>
</g>
<g>
<polygon points="375.5,874.1 381.9,868.9 388.4,867.0 398.4,868.2 404.8,868.2 419.1,859.6 436.3,859.6 442.0,862.5 449.1,869.6 459.1,872.5 457.7,879.6 453.4,886.8 452.0,891.1 462.0,895.2 472.0,899.6 479.1,905.2 487.7,911.1 492.0,918.2 492.0,929.6 489.1,938.2 487.7,958.2 489.1,965.3 490.5,975.3 486.3,985.3 479.1,995.3 467.7,1006.8 459.1,1015.3 447.7,1021.1 433.4,1028.2 422.0,1033.9 412.0,1042.5 403.4,1049.6 395.4,1055.2 391.3,1052.5 381.3,1048.2 372.7,1046.1 367.0,1048.2 345.5,1048.2 335.5,1046.8 327.0,1039.6 321.3,1029.6 315.5,1018.2 309.8,1003.9 307.0,993.9 302.7,986.8 300.7,981.7 300.6,966.2 300.8,958.2 301.3,952.5 307.0,938.2 312.7,926.8 319.0,922.3 324.1,917.8 329.2,911.3 334.4,904.9 338.2,898.5 342.1,892.0 347.2,888.8 355.0,884.3 362.7,880.5 370.4,877.3" fill="none" stroke="#8a3e80" stroke-width="1"/>
<polygon points="412.0,900.3 422.0,903.9 433.4,912.5 442.0,916.8 447.7,922.5 450.5,932.5 453.4,943.9 457.7,955.2 462.0,963.9 460.5,972.5 456.3,981.1 447.7,986.8 436.3,991.1 422.0,996.8 414.2,1003.3 406.5,1006.8 400.5,1012.8 389.8,1010.7 383.4,1009.3 378.4,1006.8 368.4,1003.2 349.8,1008.9 345.5,996.8 341.3,985.3 337.0,972.5 334.1,963.9 335.4,958.2 337.0,943.9 341.3,935.2 349.8,932.5 358.4,929.6 369.8,919.6 384.1,912.2 393.4,906.8 402.0,902.5" fill="none" stroke="#6a9e58" stroke-width="1"/>
<polygon points="367.8,931.6 375.3,928.8 382.7,928.2 395.3,927.1 397.5,929.3 398.7,932.8 407.8,932.8 419.3,934.5 428.4,939.1 436.3,946.8 440.8,956.2 439.1,959.6 431.4,967.3 426.2,975.9 420.2,979.3 409.1,980.6 402.3,981.9 394.5,982.8 392.0,980.2 385.5,978.7 379.8,980.3 372.7,978.2 362.7,975.3 354.8,971.8 354.8,958.2 357.0,949.6 362.7,938.2" fill="none" stroke="#2c3c88" stroke-width="1"/>
<polygon points="374.7,943.6 387.3,943.1 401.0,941.9 410.1,943.1 415.8,949.3 417.7,958.8 416.8,964.8 406.5,974.6 399.7,974.6 392.8,973.3 386.8,971.6 383.4,969.9 377.0,965.3 366.7,959.6 371.3,950.5" fill="none" stroke="#e07a3a" stroke-width="1"/>
<circle cx="315.4" cy="927.6" r="3.5" fill="#3a8b10"/>
<circle cx="316.8" cy="927.9" r="3.5" fill="#37830f"/>
<circle cx="318.3" cy="928.3" r="3.5" fill="#388610"/>
<circle cx="319.7" cy="928.6" r="3.5" fill="#398910"/>
<circle cx="321.2" cy="929.0" r="3.5" fill="#7a710f"/>
<circle cx="322.6" cy="929.3" r="3.5" fill="#f06110"/>
<circle cx="324.1" cy="929.7" r="3.5" fill="#ff6e11"/>
<circle cx="325.5" cy="930.1" r="3.5" fill="#ee6c10"/>
<circle cx="327.0" cy="930.4" r="3.5" fill="#f98e0e"/>
<circle cx="328.4" cy="930.8" r="3.5" fill="#face05"/>
<circle cx="329.9" cy="931.1" r="3.5" fill="#d7d800"/>
<circle cx="331.3" cy="931.5" r="3.5" fill="#d3d600"/>
<circle cx="332.7" cy="932.1" r="3.5" fill="#dce300"/>
<circle cx="334.0" cy="932.8" r="3.5" fill="#e7f300"/>
<circle cx="335.4" cy="933.5" r="3.5" fill="#dfd800"/>
<circle cx="336.7" cy="934.1" r="3.5" fill="#f4d100"/>
<circle cx="338.0" cy="934.8" r="3.5" fill="#efcc03"/>
<circle cx="339.4" cy="935.4" r="3.5" fill="#cdc70a"/>
<circle cx="340.8" cy="935.9" r="3.5" fill="#cedf10"/>
<circle cx="342.2" cy="936.3" r="3.5" fill="#d2e310"/>
<circle cx="343.6" cy="936.8" r="3.5" fill="#c2d30f"/>
<circle cx="345.0" cy="937.3" r="3.5" fill="#c0d20f"/>
<circle cx="346.5" cy="937.8" r="3.5" fill="#cedf10"/>
<circle cx="347.8" cy="938.4" r="3.5" fill="#d5ac13"/>
<circle cx="349.1" cy="939.0" r="3.5" fill="#f38c18"/>
<circle cx="350.5" cy="939.7" r="3.5" fill="#e97c17"/>
<circle cx="351.8" cy="940.4" r="3.5" fill="#e27817"/>
<circle cx="353.1" cy="941.0" r="3.5" fill="#ec7e18"/>
<circle cx="354.5" cy="941.7" r="3.5" fill="#f3ac10"/>
<circle cx="355.8" cy="942.4" r="3.5" fill="#ded005"/>
<circle cx="357.1" cy="943.0" r="3.5" fill="#d9e405"/>
<circle cx="358.5" cy="943.7" r="3.5" fill="#d1e30d"/>
<circle cx="359.8" cy="944.4" r="3.5" fill="#b4cb15"/>
<circle cx="361.2" cy="944.9" r="3.5" fill="#b3d321"/>
<circle cx="362.5" cy="945.5" r="3.5" fill="#8fb31c"/>
<circle cx="363.9" cy="946.1" r="3.5" fill="#85b41c"/>
<circle cx="365.3" cy="946.7" r="3.5" fill="#70a518"/>
<circle cx="366.6" cy="947.3" r="3.5" fill="#5d9a16"/>
<circle cx="368.0" cy="947.9" r="3.5" fill="#539f16"/>
<circle cx="369.4" cy="948.5" r="3.5" fill="#458c13"/>
<circle cx="370.8" cy="949.1" r="3.5" fill="#499814"/>
<circle cx="372.2" cy="949.6" r="3.5" fill="#448f12"/>
<circle cx="373.6" cy="950.1" r="3.5" fill="#469813"/>
<circle cx="374.9" cy="950.7" r="3.5" fill="#439512"/>
<circle cx="376.3" cy="951.2" r="3.5" fill="#398310"/>
<circle cx="377.7" cy="951.7" r="3.5" fill="#3f9411"/>
<circle cx="379.1" cy="952.3" r="3.5" fill="#3a8b10"/>
<circle cx="380.5" cy="952.8" r="3.5" fill="#3c8e11"/>
<circle cx="381.9" cy="953.3" r="3.5" fill="#37820f"/>
<circle cx="383.4" cy="953.7" r="3.5" fill="#3c8e10"/>
<circle cx="384.8" cy="954.2" r="3.5" fill="#3c8e10"/>
<circle cx="386.2" cy="954.7" r="3.5" fill="#3e9311"/>
<circle cx="387.6" cy="955.2" r="3.5" fill="#3b8c10"/>
<circle cx="389.1" cy="955.2" r="3.5" fill="#36810f"/>
<circle cx="390.5" cy="955.0" r="3.5" fill="#3b8d10"/>
<circle cx="392.0" cy="954.8" r="3.5" fill="#3b8d10"/>
<circle cx="393.5" cy="954.7" r="3.5" fill="#37830f"/>
<circle cx="395.0" cy="954.5" r="3.5" fill="#3d9011"/>
<circle cx="396.5" cy="954.3" r="3.5" fill="#36810f"/>
<circle cx="397.9" cy="954.2" r="3.5" fill="#3b8c10"/>
<circle cx="399.4" cy="954.1" r="3.5" fill="#3b8c10"/>
<circle cx="400.9" cy="954.0" r="3.5" fill="#3e9311"/>
<circle cx="402.4" cy="954.0" r="3.5" fill="#37840f"/>
<circle cx="403.9" cy="954.0" r="3.5" fill="#38850f"/>
<circle cx="405.4" cy="953.9" r="3.5" fill="#3b8d10"/>
<circle cx="406.9" cy="953.9" r="3.5" fill="#3a8a10"/>
<circle cx="408.4" cy="953.9" r="3.5" fill="#3d9211"/>
<circle cx="409.9" cy="953.8" r="3.5" fill="#37830f"/>
<circle cx="411.4" cy="953.8" r="3.5" fill="#3b8d10"/>
<circle cx="412.8" cy="953.7" r="3.5" fill="#38840f"/>
<circle cx="414.3" cy="953.5" r="3.5" fill="#3e9211"/>
<circle cx="415.8" cy="953.3" r="3.5" fill="#398710"/>
<circle cx="417.3" cy="953.1" r="3.5" fill="#398810"/>
<circle cx="418.7" cy="952.9" r="3.5" fill="#3a8a10"/>
<circle cx="420.2" cy="952.7" r="3.5" fill="#3d9211"/>
<circle cx="421.7" cy="952.5" r="3.5" fill="#3d9111"/>
<circle cx="423.2" cy="952.3" r="3.5" fill="#3b8c10"/>
<circle cx="424.7" cy="952.1" r="3.5" fill="#398710"/>
<circle cx="426.1" cy="951.9" r="3.5" fill="#3b8c10"/>
<circle cx="427.6" cy="951.7" r="3.5" fill="#3d9111"/>
<circle cx="429.1" cy="951.4" r="3.5" fill="#3a8910"/>
<circle cx="430.6" cy="951.2" r="3.5" fill="#37830f"/>
<circle cx="432.0" cy="950.9" r="3.5" fill="#3c9011"/>
<circle cx="433.5" cy="950.7" r="3.5" fill="#3e9311"/>
<circle cx="435.0" cy="950.5" r="3.5" fill="#388610"/>
<circle cx="436.4" cy="950.2" r="3.5" fill="#36810f"/>
<circle cx="437.9" cy="950.0" r="3.5" fill="#398710"/>
<circle cx="439.4" cy="949.7" r="3.5" fill="#38840f"/>
<circle cx="440.8" cy="949.4" r="3.5" fill="#3b8d10"/>
<circle cx="442.3" cy="949.0" r="3.5" fill="#3a8a10"/>
<circle cx="443.7" cy="948.7" r="3.5" fill="#3d9111"/>
<circle cx="445.2" cy="948.3" r="3.5" fill="#38840f"/>
<circle cx="446.6" cy="948.0" r="3.5" fill="#3b8d10"/>
<circle cx="448.1" cy="947.6" r="3.5" fill="#3b8c10"/>
<circle cx="449.5" cy="947.3" r="3.5" fill="#37830f"/>
<circle cx="451.0" cy="946.9" r="3.5" fill="#3a8a10"/>
<circle cx="452.4" cy="946.6" r="3.5" fill="#38840f"/>
<circle cx="453.8" cy="946.0" r="3.5" fill="#36810f"/>
<circle cx="455.1" cy="945.3" r="3.5" fill="#398810"/>
<circle cx="456.4" cy="944.6" r="3.5" fill="#398810"/>
<circle cx="457.8" cy="943.9" r="3.5" fill="#36800f"/>
<circle cx="459.1" cy="943.2" r="3.5" fill="#3d9011"/>
<circle cx="460.4" cy="942.6" r="3.5" fill="#3d9111"/>
<circle cx="461.7" cy="941.9" r="3.5" fill="#37830f"/>
<circle cx="463.0" cy="941.1" r="3.5" fill="#38850f"/>
<circle cx="464.2" cy="940.3" r="3.5" fill="#37820f"/>
<circle cx="465.5" cy="939.5" r="3.5" fill="#3d9111"/>
<circle cx="466.7" cy="938.6" r="3.5" fill="#3c8f11"/>
<circle cx="468.0" cy="937.8" r="3.5" fill="#3c9011"/>
<circle cx="469.2" cy="937.0" r="3.5" fill="#3a8910"/>
<circle cx="470.5" cy="936.2" r="3.5" fill="#3c9011"/>
<circle cx="471.8" cy="935.4" r="3.5" fill="#3b8c10"/>
<circle cx="473.0" cy="934.6" r="3.5" fill="#38860f"/>
<circle cx="474.3" cy="933.8" r="3.5" fill="#388610"/>
<circle cx="475.5" cy="933.0" r="3.5" fill="#3a8b10"/>
<circle cx="476.8" cy="932.2" r="3.5" fill="#398910"/>
<circle cx="478.2" cy="931.7" r="3.5" fill="#3b8d10"/>
<circle cx="479.6" cy="931.4" r="3.5" fill="#3a8910"/>
<circle cx="481.1" cy="931.1" r="3.5" fill="#36810f"/>
<circle cx="482.5" cy="930.7" r="3.5" fill="#3b8d10"/>
<circle cx="484.0" cy="930.4" r="3.5" fill="#3b8c10"/>
<circle cx="485.5" cy="930.1" r="3.5" fill="#3c9011"/>
<circle cx="486.9" cy="930.2" r="3.5" fill="#3c8f11"/>
<circle cx="488.4" cy="930.4" r="3.5" fill="#3c8f11"/>
<circle cx="489.9" cy="930.5" r="3.5" fill="#398810"/>
<circle cx="491.4" cy="930.6" r="3.5" fill="#36810f"/>
<circle cx="377.4" cy="871.9" r="3.5" fill="#cade10"/>
<circle cx="377.8" cy="873.3" r="3.5" fill="#d0e713"/>
<circle cx="378.2" cy="874.8" r="3.5" fill="#c7df16"/>
<circle cx="378.6" cy="876.2" r="3.5" fill="#c5e018"/>
<circle cx="379.0" cy="877.6" r="3.5" fill="#b6d11a"/>
<circle cx="379.4" cy="879.1" r="3.5" fill="#b0ce1c"/>
<circle cx="379.7" cy="880.5" r="3.5" fill="#a5c41e"/>
<circle cx="380.1" cy="882.0" r="3.5" fill="#acd022"/>
<circle cx="380.3" cy="883.4" r="3.5" fill="#9cc11f"/>
<circle cx="380.4" cy="884.9" r="3.5" fill="#9ec920"/>
<circle cx="380.5" cy="886.4" r="3.5" fill="#93bf1e"/>
<circle cx="380.6" cy="887.9" r="3.5" fill="#8ab91d"/>
<circle cx="380.7" cy="889.4" r="3.5" fill="#7dae1c"/>
<circle cx="380.9" cy="890.9" r="3.5" fill="#73a51a"/>
<circle cx="381.0" cy="892.3" r="3.5" fill="#679b18"/>
<circle cx="381.5" cy="893.7" r="3.5" fill="#6ba81a"/>
<circle cx="382.2" cy="895.1" r="3.5" fill="#63a31a"/>
<circle cx="382.8" cy="896.4" r="3.5" fill="#579517"/>
<circle cx="383.5" cy="897.7" r="3.5" fill="#5da119"/>
<circle cx="384.1" cy="899.1" r="3.5" fill="#549216"/>
<circle cx="384.8" cy="900.4" r="3.5" fill="#5ca219"/>
<circle cx="385.4" cy="901.7" r="3.5" fill="#559817"/>
<circle cx="386.0" cy="903.1" r="3.5" fill="#529416"/>
<circle cx="386.5" cy="904.5" r="3.5" fill="#4e9015"/>
<circle cx="386.9" cy="905.9" r="3.5" fill="#559e16"/>
<circle cx="387.3" cy="907.4" r="3.5" fill="#4f9615"/>
<circle cx="387.8" cy="908.8" r="3.5" fill="#519b16"/>
<circle cx="388.2" cy="910.2" r="3.5" fill="#478b13"/>
<circle cx="388.7" cy="911.6" r="3.5" fill="#4e9a15"/>
<circle cx="389.1" cy="913.1" r="3.5" fill="#478e14"/>
<circle cx="389.4" cy="914.5" r="3.5" fill="#438b12"/>
<circle cx="389.5" cy="916.0" r="3.5" fill="#4a9814"/>
<circle cx="389.6" cy="917.5" r="3.5" fill="#418b11"/>
<circle cx="389.7" cy="919.0" r="3.5" fill="#449112"/>
<circle cx="389.8" cy="920.4" r="3.5" fill="#418f12"/>
<circle cx="389.8" cy="921.9" r="3.5" fill="#3e8a11"/>
<circle cx="389.9" cy="923.4" r="3.5" fill="#3e8c11"/>
<circle cx="390.0" cy="924.9" r="3.5" fill="#3a8810"/>
<circle cx="390.1" cy="926.4" r="3.5" fill="#3a8a10"/>
<circle cx="390.2" cy="927.9" r="3.5" fill="#3e9211"/>
<circle cx="390.4" cy="929.3" r="3.5" fill="#3b8d10"/>
<circle cx="390.6" cy="930.8" r="3.5" fill="#3b8c10"/>
<circle cx="390.8" cy="932.3" r="3.5" fill="#37830f"/>
<circle cx="391.0" cy="933.8" r="3.5" fill="#3d9111"/>
<circle cx="391.4" cy="935.2" r="3.5" fill="#388610"/>
<circle cx="392.0" cy="936.5" r="3.5" fill="#3d9211"/>
<circle cx="392.7" cy="937.8" r="3.5" fill="#37830f"/>
<circle cx="393.4" cy="939.2" r="3.5" fill="#3d9211"/>
<circle cx="394.1" cy="940.5" r="3.5" fill="#3e9311"/>
<circle cx="394.7" cy="941.8" r="3.5" fill="#3c8f11"/>
<circle cx="394.8" cy="943.3" r="3.5" fill="#37820f"/>
<circle cx="394.9" cy="944.8" r="3.5" fill="#3a8910"/>
<circle cx="395.0" cy="946.3" r="3.5" fill="#3a8b10"/>
<circle cx="395.1" cy="947.8" r="3.5" fill="#3c8f11"/>
<circle cx="395.2" cy="949.3" r="3.5" fill="#3c8e11"/>
<circle cx="395.3" cy="950.8" r="3.5" fill="#36810f"/>
<circle cx="395.4" cy="952.2" r="3.5" fill="#3d9111"/>
<circle cx="395.5" cy="953.7" r="3.5" fill="#3d9211"/>
<circle cx="395.6" cy="955.2" r="3.5" fill="#3b8d10"/>
<circle cx="395.7" cy="956.7" r="3.5" fill="#3a8a10"/>
<circle cx="395.8" cy="958.2" r="3.5" fill="#398810"/>
<circle cx="395.9" cy="959.7" r="3.5" fill="#3d9011"/>
<circle cx="396.0" cy="961.1" r="3.5" fill="#3a8a10"/>
<circle cx="396.2" cy="962.6" r="3.5" fill="#37820f"/>
<circle cx="396.3" cy="964.1" r="3.5" fill="#3d9211"/>
<circle cx="396.4" cy="965.6" r="3.5" fill="#3a8910"/>
<circle cx="396.5" cy="967.1" r="3.5" fill="#3d9111"/>
<circle cx="396.6" cy="968.6" r="3.5" fill="#3c8e10"/>
<circle cx="396.7" cy="970.1" r="3.5" fill="#3e9311"/>
<circle cx="396.9" cy="971.5" r="3.5" fill="#3c8f11"/>
<circle cx="397.2" cy="973.0" r="3.5" fill="#3c9011"/>
<circle cx="397.4" cy="974.5" r="3.5" fill="#37840f"/>
<circle cx="397.6" cy="976.0" r="3.5" fill="#3c8e10"/>
<circle cx="397.8" cy="977.4" r="3.5" fill="#38830f"/>
<circle cx="398.0" cy="978.9" r="3.5" fill="#3f9211"/>
<circle cx="398.6" cy="980.2" r="3.5" fill="#3c8911"/>
<circle cx="399.4" cy="981.5" r="3.5" fill="#398410"/>
<circle cx="400.2" cy="982.8" r="3.5" fill="#419312"/>
<circle cx="401.0" cy="984.0" r="3.5" fill="#439612"/>
<circle cx="401.7" cy="985.3" r="3.5" fill="#3f8c11"/>
<circle cx="402.5" cy="986.6" r="3.5" fill="#3e8711"/>
<circle cx="403.2" cy="987.9" r="3.5" fill="#418e12"/>
<circle cx="403.9" cy="989.2" r="3.5" fill="#428f12"/>
<circle cx="404.6" cy="990.5" r="3.5" fill="#3f8711"/>
<circle cx="405.3" cy="991.8" r="3.5" fill="#428d12"/>
<circle cx="406.0" cy="993.1" r="3.5" fill="#438c12"/>
<circle cx="406.7" cy="994.4" r="3.5" fill="#4b9a14"/>
<circle cx="407.4" cy="995.8" r="3.5" fill="#4a9914"/>
<circle cx="407.8" cy="997.2" r="3.5" fill="#448b12"/>
<circle cx="408.3" cy="998.6" r="3.5" fill="#4d9c15"/>
<circle cx="408.7" cy="1000.0" r="3.5" fill="#4b9815"/>
<circle cx="409.1" cy="1001.5" r="3.5" fill="#498f13"/>
<circle cx="409.6" cy="1002.9" r="3.5" fill="#529414"/>
<circle cx="410.0" cy="1004.3" r="3.5" fill="#579415"/>
<circle cx="410.6" cy="1005.7" r="3.5" fill="#65a218"/>
<circle cx="411.3" cy="1007.0" r="3.5" fill="#72af1a"/>
<circle cx="412.0" cy="1008.3" r="3.5" fill="#74a919"/>
<circle cx="412.7" cy="1009.6" r="3.5" fill="#81b41b"/>
<circle cx="413.4" cy="1010.9" r="3.5" fill="#8dbe1d"/>
<circle cx="414.1" cy="1012.2" r="3.5" fill="#8db71d"/>
<circle cx="414.8" cy="1013.6" r="3.5" fill="#9ac31f"/>
<circle cx="415.5" cy="1014.9" r="3.5" fill="#a2c61f"/>
<circle cx="416.2" cy="1016.2" r="3.5" fill="#aaca20"/>
<circle cx="417.1" cy="1017.4" r="3.5" fill="#b6d51f"/>
<circle cx="418.0" cy="1018.6" r="3.5" fill="#aeca1a"/>
<circle cx="418.8" cy="1019.8" r="3.5" fill="#b7d219"/>
<circle cx="419.7" cy="1021.0" r="3.5" fill="#c0d917"/>
<circle cx="420.6" cy="1022.2" r="3.5" fill="#b9d013"/>
<circle cx="421.4" cy="1023.4" r="3.5" fill="#d2e913"/>
<circle cx="422.3" cy="1024.6" r="3.5" fill="#c4ce10"/>
<circle cx="423.1" cy="1025.8" r="3.5" fill="#c7b612"/>
<circle cx="424.0" cy="1027.1" r="3.5" fill="#e1b215"/>
<circle cx="424.9" cy="1028.3" r="3.5" fill="#ea9f17"/>
<circle cx="425.7" cy="1029.5" r="3.5" fill="#e18716"/>
<circle cx="426.6" cy="1030.7" r="3.5" fill="#ea8c17"/>
<polygon points="374.8,896.5 377.0,892.6 379.2,896.5" fill="#a80c0c"/>
<polygon points="459.8,903.0 462.0,899.1 464.2,903.0" fill="#a80c0c"/>
<polygon points="394.4,935.8 396.6,931.9 398.8,935.8" fill="#a80c0c"/>
<polygon points="439.1,943.0 441.3,939.1 443.5,943.0" fill="#a80c0c"/>
<polygon points="383.3,961.5 385.5,957.6 387.7,961.5" fill="#a80c0c"/>
<polygon points="387.9,979.2 390.1,975.3 392.3,979.2" fill="#a80c0c"/>
<polygon points="414.6,972.9 416.8,969.0 419.0,972.9" fill="#a80c0c"/>
<polygon points="436.9,983.3 439.1,979.4 441.3,983.3" fill="#a80c0c"/>
<polygon points="323.3,995.1 325.5,991.2 327.7,995.1" fill="#a80c0c"/>
<polygon points="399.1,1008.7 401.3,1004.8 403.5,1008.7" fill="#a80c0c"/>
<text x="376.2" y="889.3" class="lb">82.6</text>
<text x="459.8" y="896.5" class="lb">77.8</text>
<text x="395.4" y="928.5" class="lb">61.4</text>
<text x="439.8" y="935.9" class="lb">60</text>
<text x="384.5" y="954.8" class="lb">76</text>
<text x="415.4" y="965.0" class="lb">74.8</text>
<text x="388.5" y="971.9" class="lb">74.6</text>
<text x="437.0" y="976.5" class="lb">62.2</text>
<text x="323.4" y="987.9" class="lb">86.6</text>
<text x="399.1" y="1000.9" class="lb">107.8</text>
</g>
<g>
<polygon points="575.1,873.1 581.5,868.0 588.0,866.0 598.0,867.2 604.4,867.2 618.7,858.6 635.9,858.6 641.6,861.5 648.7,868.6 658.7,871.5 657.3,878.6 653.0,885.9 651.6,890.1 661.6,894.2 671.6,898.6 678.7,904.2 687.3,910.1 691.6,917.2 691.6,928.6 688.7,937.2 687.3,957.2 688.7,964.4 690.1,974.4 685.9,984.4 678.7,994.4 667.3,1005.9 658.7,1014.4 647.3,1020.1 633.0,1027.2 621.6,1033.0 611.6,1041.5 603.0,1048.7 595.0,1054.2 590.9,1051.5 580.9,1047.2 572.3,1045.2 566.6,1047.2 545.1,1047.2 535.1,1045.8 526.6,1038.7 520.9,1028.7 515.1,1017.2 509.4,1003.0 506.6,993.0 502.3,985.9 500.3,980.8 500.2,965.2 500.4,957.2 500.9,951.5 506.6,937.2 512.3,925.9 518.6,921.4 523.7,916.9 528.8,910.4 534.0,904.0 537.8,897.5 541.7,891.0 546.8,887.9 554.6,883.4 562.3,879.5 570.0,876.4" fill="none" stroke="#8a3e80" stroke-width="1"/>
<polygon points="611.6,899.4 621.6,903.0 633.0,911.5 641.6,915.9 647.3,921.5 650.1,931.5 653.0,943.0 657.3,954.2 661.6,963.0 660.1,971.5 655.9,980.1 647.3,985.9 635.9,990.1 621.6,995.9 613.8,1002.4 606.1,1005.9 600.1,1011.9 589.4,1009.8 583.0,1008.4 578.0,1005.9 568.0,1002.2 549.4,1008.0 545.1,995.9 540.9,984.4 536.6,971.5 533.7,963.0 535.0,957.2 536.6,943.0 540.9,934.2 549.4,931.5 558.0,928.6 569.4,918.6 583.7,911.2 593.0,905.9 601.6,901.5" fill="none" stroke="#6a9e58" stroke-width="1"/>
<polygon points="567.4,930.6 574.9,927.9 582.3,927.2 594.9,926.1 597.1,928.4 598.3,931.9 607.4,931.9 618.9,933.5 628.0,938.1 635.9,945.9 640.4,955.2 638.7,958.6 631.0,966.4 625.8,975.0 619.8,978.4 608.7,979.6 601.9,981.0 594.1,981.9 591.6,979.2 585.1,977.8 579.4,979.4 572.3,977.2 562.3,974.4 554.4,970.9 554.4,957.2 556.6,948.6 562.3,937.2" fill="none" stroke="#2c3c88" stroke-width="1"/>
<polygon points="574.3,942.6 586.9,942.1 600.6,941.0 609.7,942.1 615.4,948.4 617.3,957.9 616.4,963.9 606.1,973.6 599.3,973.6 592.4,972.4 586.4,970.6 583.0,969.0 576.6,964.4 566.3,958.6 570.9,949.5" fill="none" stroke="#e07a3a" stroke-width="1"/>
<circle cx="515.9" cy="926.1" r="3.5" fill="#92ba20"/>
<circle cx="517.3" cy="926.6" r="3.5" fill="#8ab01f"/>
<circle cx="518.7" cy="927.1" r="3.5" fill="#9ac522"/>
<circle cx="520.2" cy="927.6" r="3.5" fill="#9cc522"/>
<circle cx="521.6" cy="928.1" r="3.5" fill="#95bb20"/>
<circle cx="523.0" cy="928.5" r="3.5" fill="#9bc121"/>
<circle cx="524.4" cy="929.0" r="3.5" fill="#94b71f"/>
<circle cx="525.9" cy="929.3" r="3.5" fill="#97b91f"/>
<circle cx="527.3" cy="929.7" r="3.5" fill="#9abc1f"/>
<circle cx="528.8" cy="930.0" r="3.5" fill="#a5c921"/>
<circle cx="530.3" cy="930.4" r="3.5" fill="#9dbd1f"/>
<circle cx="531.7" cy="930.8" r="3.5" fill="#b1d422"/>
<circle cx="533.0" cy="931.5" r="3.5" fill="#9ebc1e"/>
<circle cx="534.3" cy="932.2" r="3.5" fill="#a4c11e"/>
<circle cx="535.7" cy="932.9" r="3.5" fill="#a4c01c"/>
<circle cx="537.0" cy="933.5" r="3.5" fill="#b9d61e"/>
<circle cx="538.4" cy="934.2" r="3.5" fill="#b2cd1b"/>
<circle cx="539.7" cy="934.8" r="3.5" fill="#b7d21b"/>
<circle cx="541.2" cy="935.3" r="3.5" fill="#b7d018"/>
<circle cx="542.6" cy="935.7" r="3.5" fill="#c3db18"/>
<circle cx="544.0" cy="936.2" r="3.5" fill="#bbd319"/>
<circle cx="545.4" cy="936.7" r="3.5" fill="#b2cb19"/>
<circle cx="546.8" cy="937.2" r="3.5" fill="#b5d01b"/>
<circle cx="548.0" cy="938.1" r="3.5" fill="#afca1b"/>
<circle cx="549.1" cy="939.1" r="3.5" fill="#a7c31b"/>
<circle cx="550.3" cy="940.1" r="3.5" fill="#b7d51f"/>
<circle cx="551.6" cy="940.8" r="3.5" fill="#afcf20"/>
<circle cx="553.0" cy="941.3" r="3.5" fill="#accd21"/>
<circle cx="554.3" cy="941.9" r="3.5" fill="#afd222"/>
<circle cx="555.7" cy="942.5" r="3.5" fill="#a2c220"/>
<circle cx="557.1" cy="943.1" r="3.5" fill="#9ec11f"/>
<circle cx="558.5" cy="943.7" r="3.5" fill="#9dc020"/>
<circle cx="559.9" cy="944.3" r="3.5" fill="#9bbe20"/>
<circle cx="561.2" cy="944.9" r="3.5" fill="#9fc421"/>
<circle cx="562.6" cy="945.5" r="3.5" fill="#8eb11e"/>
<circle cx="564.0" cy="946.1" r="3.5" fill="#95bb20"/>
<circle cx="565.4" cy="946.6" r="3.5" fill="#95bc20"/>
<circle cx="566.7" cy="947.2" r="3.5" fill="#8fb51f"/>
<circle cx="568.1" cy="947.8" r="3.5" fill="#86ac1e"/>
<circle cx="569.5" cy="948.4" r="3.5" fill="#92bc20"/>
<circle cx="570.9" cy="948.9" r="3.5" fill="#83aa1d"/>
<circle cx="572.3" cy="949.4" r="3.5" fill="#8cb81e"/>
<circle cx="573.7" cy="949.9" r="3.5" fill="#83ac1d"/>
<circle cx="575.2" cy="950.4" r="3.5" fill="#7fa81b"/>
<circle cx="576.6" cy="950.9" r="3.5" fill="#81ac1c"/>
<circle cx="578.0" cy="951.4" r="3.5" fill="#7da81a"/>
<circle cx="579.4" cy="951.8" r="3.5" fill="#7da91a"/>
<circle cx="580.9" cy="952.2" r="3.5" fill="#85b71c"/>
<circle cx="582.3" cy="952.6" r="3.5" fill="#84b71b"/>
<circle cx="583.7" cy="953.0" r="3.5" fill="#7dad1a"/>
<circle cx="585.2" cy="953.4" r="3.5" fill="#80b31a"/>
<circle cx="586.6" cy="953.8" r="3.5" fill="#7cae19"/>
<circle cx="588.1" cy="953.8" r="3.5" fill="#7aae18"/>
<circle cx="589.6" cy="953.7" r="3.5" fill="#7fb719"/>
<circle cx="591.1" cy="953.6" r="3.5" fill="#75a817"/>
<circle cx="592.6" cy="953.5" r="3.5" fill="#7eb619"/>
<circle cx="594.1" cy="953.4" r="3.5" fill="#7ab219"/>
<circle cx="595.6" cy="953.3" r="3.5" fill="#79b019"/>
<circle cx="597.1" cy="953.2" r="3.5" fill="#6da016"/>
<circle cx="598.6" cy="953.1" r="3.5" fill="#6da217"/>
<circle cx="600.1" cy="953.1" r="3.5" fill="#6ca116"/>
<circle cx="601.6" cy="953.1" r="3.5" fill="#71a717"/>
<circle cx="603.1" cy="953.0" r="3.5" fill="#79b619"/>
<circle cx="604.6" cy="953.0" r="3.5" fill="#77b419"/>
<circle cx="606.1" cy="953.0" r="3.5" fill="#75b219"/>
<circle cx="607.6" cy="952.9" r="3.5" fill="#6aa117"/>
<circle cx="609.1" cy="952.9" r="3.5" fill="#72af19"/>
<circle cx="610.6" cy="952.9" r="3.5" fill="#72af19"/>
<circle cx="612.1" cy="952.8" r="3.5" fill="#72b019"/>
<circle cx="613.5" cy="952.6" r="3.5" fill="#70b019"/>
<circle cx="615.0" cy="952.4" r="3.5" fill="#67a017"/>
<circle cx="616.5" cy="952.2" r="3.5" fill="#66a017"/>
<circle cx="618.0" cy="952.0" r="3.5" fill="#6eaf19"/>
<circle cx="619.5" cy="951.8" r="3.5" fill="#6eae19"/>
<circle cx="621.0" cy="951.6" r="3.5" fill="#70b119"/>
<circle cx="622.4" cy="951.4" r="3.5" fill="#69a718"/>
<circle cx="623.9" cy="951.2" r="3.5" fill="#70b119"/>
<circle cx="625.4" cy="951.0" r="3.5" fill="#65a017"/>
<circle cx="626.9" cy="950.8" r="3.5" fill="#71b31a"/>
<circle cx="628.4" cy="950.5" r="3.5" fill="#70b119"/>
<circle cx="629.9" cy="950.3" r="3.5" fill="#68a417"/>
<circle cx="631.3" cy="950.0" r="3.5" fill="#649e17"/>
<circle cx="632.8" cy="949.8" r="3.5" fill="#6ba918"/>
<circle cx="634.3" cy="949.6" r="3.5" fill="#6dac19"/>
<circle cx="635.8" cy="949.3" r="3.5" fill="#68a417"/>
<circle cx="637.2" cy="949.1" r="3.5" fill="#639e17"/>
<circle cx="638.7" cy="948.8" r="3.5" fill="#67a317"/>
<circle cx="640.2" cy="948.5" r="3.5" fill="#6fb019"/>
<circle cx="641.6" cy="948.1" r="3.5" fill="#649e17"/>
<circle cx="643.1" cy="947.8" r="3.5" fill="#70b219"/>
<circle cx="644.5" cy="947.4" r="3.5" fill="#66a217"/>
<circle cx="646.0" cy="947.1" r="3.5" fill="#66a117"/>
<circle cx="647.5" cy="946.7" r="3.5" fill="#649f17"/>
<circle cx="648.9" cy="946.4" r="3.5" fill="#71b31a"/>
<circle cx="650.4" cy="946.0" r="3.5" fill="#70b119"/>
<circle cx="651.8" cy="945.7" r="3.5" fill="#67a417"/>
<circle cx="653.2" cy="945.1" r="3.5" fill="#649e17"/>
<circle cx="654.5" cy="944.4" r="3.5" fill="#6cac19"/>
<circle cx="655.9" cy="943.7" r="3.5" fill="#70b119"/>
<circle cx="657.2" cy="943.0" r="3.5" fill="#639d16"/>
<circle cx="658.5" cy="942.4" r="3.5" fill="#6cab18"/>
<circle cx="659.9" cy="941.7" r="3.5" fill="#6fb019"/>
<circle cx="661.2" cy="941.0" r="3.5" fill="#69a718"/>
<circle cx="662.5" cy="940.2" r="3.5" fill="#6baa18"/>
<circle cx="663.7" cy="939.4" r="3.5" fill="#6faf19"/>
<circle cx="665.0" cy="938.6" r="3.5" fill="#66a217"/>
<circle cx="666.2" cy="937.8" r="3.5" fill="#67a317"/>
<circle cx="667.5" cy="936.9" r="3.5" fill="#6cac19"/>
<circle cx="668.8" cy="936.1" r="3.5" fill="#6ba918"/>
<circle cx="670.0" cy="935.3" r="3.5" fill="#6ba918"/>
<circle cx="671.3" cy="934.5" r="3.5" fill="#68a417"/>
<circle cx="672.5" cy="933.7" r="3.5" fill="#70b219"/>
<circle cx="673.8" cy="932.9" r="3.5" fill="#67a317"/>
<circle cx="675.1" cy="932.1" r="3.5" fill="#6dac19"/>
<circle cx="676.3" cy="931.3" r="3.5" fill="#70b119"/>
<circle cx="677.7" cy="930.8" r="3.5" fill="#69a618"/>
<circle cx="679.2" cy="930.5" r="3.5" fill="#639e17"/>
<circle cx="680.6" cy="930.1" r="3.5" fill="#66a117"/>
<circle cx="682.1" cy="929.8" r="3.5" fill="#649e17"/>
<circle cx="683.6" cy="929.5" r="3.5" fill="#65a017"/>
<circle cx="685.0" cy="929.2" r="3.5" fill="#649f17"/>
<circle cx="686.5" cy="929.3" r="3.5" fill="#68a417"/>
<circle cx="688.0" cy="929.4" r="3.5" fill="#68a518"/>
<circle cx="689.5" cy="929.5" r="3.5" fill="#69a718"/>
<circle cx="691.0" cy="929.6" r="3.5" fill="#6cac19"/>
<circle cx="577.0" cy="871.0" r="3.5" fill="#6dac19"/>
<circle cx="577.4" cy="872.4" r="3.5" fill="#6fad19"/>
<circle cx="577.8" cy="873.8" r="3.5" fill="#6ba719"/>
<circle cx="578.2" cy="875.3" r="3.5" fill="#72af1a"/>
<circle cx="578.6" cy="876.7" r="3.5" fill="#72ad1a"/>
<circle cx="579.0" cy="878.1" r="3.5" fill="#6da419"/>
<circle cx="579.3" cy="879.6" r="3.5" fill="#76af1b"/>
<circle cx="579.7" cy="881.0" r="3.5" fill="#74ab1a"/>
<circle cx="579.9" cy="882.5" r="3.5" fill="#7cb31d"/>
<circle cx="580.0" cy="884.0" r="3.5" fill="#7fb61d"/>
<circle cx="580.1" cy="885.5" r="3.5" fill="#78ab1c"/>
<circle cx="580.2" cy="886.9" r="3.5" fill="#7eb01d"/>
<circle cx="580.3" cy="888.4" r="3.5" fill="#80b21e"/>
<circle cx="580.5" cy="889.9" r="3.5" fill="#7faf1d"/>
<circle cx="580.6" cy="891.4" r="3.5" fill="#7ca91d"/>
<circle cx="581.1" cy="892.8" r="3.5" fill="#7eab1d"/>
<circle cx="581.8" cy="894.1" r="3.5" fill="#91c422"/>
<circle cx="582.4" cy="895.4" r="3.5" fill="#8fbe21"/>
<circle cx="583.1" cy="896.8" r="3.5" fill="#89b620"/>
<circle cx="583.7" cy="898.1" r="3.5" fill="#8ebc21"/>
<circle cx="584.4" cy="899.4" r="3.5" fill="#87b21f"/>
<circle cx="585.0" cy="900.8" r="3.5" fill="#90bd21"/>
<circle cx="585.6" cy="902.1" r="3.5" fill="#95c422"/>
<circle cx="586.1" cy="903.6" r="3.5" fill="#91bf21"/>
<circle cx="586.5" cy="905.0" r="3.5" fill="#8cb720"/>
<circle cx="586.9" cy="906.4" r="3.5" fill="#97c422"/>
<circle cx="587.4" cy="907.8" r="3.5" fill="#96c322"/>
<circle cx="587.8" cy="909.3" r="3.5" fill="#85ad1e"/>
<circle cx="588.3" cy="910.7" r="3.5" fill="#8db620"/>
<circle cx="588.7" cy="912.1" r="3.5" fill="#8eb720"/>
<circle cx="589.0" cy="913.5" r="3.5" fill="#8ab21f"/>
<circle cx="589.1" cy="915.0" r="3.5" fill="#92bb21"/>
<circle cx="589.2" cy="916.5" r="3.5" fill="#89af1e"/>
<circle cx="589.3" cy="918.0" r="3.5" fill="#95be21"/>
<circle cx="589.4" cy="919.5" r="3.5" fill="#97c122"/>
<circle cx="589.4" cy="921.0" r="3.5" fill="#87ad1e"/>
<circle cx="589.5" cy="922.5" r="3.5" fill="#94bd21"/>
<circle cx="589.6" cy="924.0" r="3.5" fill="#8bb21f"/>
<circle cx="589.7" cy="925.4" r="3.5" fill="#93bc21"/>
<circle cx="589.8" cy="926.9" r="3.5" fill="#94bd21"/>
<circle cx="590.0" cy="928.4" r="3.5" fill="#9ac422"/>
<circle cx="590.2" cy="929.9" r="3.5" fill="#96c021"/>
<circle cx="590.4" cy="931.4" r="3.5" fill="#8db41f"/>
<circle cx="590.6" cy="932.8" r="3.5" fill="#95be21"/>
<circle cx="591.0" cy="934.2" r="3.5" fill="#89af1e"/>
<circle cx="591.6" cy="935.6" r="3.5" fill="#94be21"/>
<circle cx="592.3" cy="936.9" r="3.5" fill="#8eb620"/>
<circle cx="593.0" cy="938.2" r="3.5" fill="#8ab21f"/>
<circle cx="593.7" cy="939.5" r="3.5" fill="#8ab11f"/>
<circle cx="594.3" cy="940.9" r="3.5" fill="#89b11f"/>
<circle cx="594.4" cy="942.4" r="3.5" fill="#95c021"/>
<circle cx="594.5" cy="943.9" r="3.5" fill="#86ae1e"/>
<circle cx="594.6" cy="945.3" r="3.5" fill="#89b11f"/>
<circle cx="594.7" cy="946.8" r="3.5" fill="#88b01f"/>
<circle cx="594.8" cy="948.3" r="3.5" fill="#86af1e"/>
<circle cx="594.9" cy="949.8" r="3.5" fill="#92be21"/>
<circle cx="595.0" cy="951.3" r="3.5" fill="#8fba20"/>
<circle cx="595.1" cy="952.8" r="3.5" fill="#8fbc21"/>
<circle cx="595.2" cy="954.3" r="3.5" fill="#94c222"/>
<circle cx="595.3" cy="955.7" r="3.5" fill="#8bb720"/>
<circle cx="595.4" cy="957.2" r="3.5" fill="#83ac1e"/>
<circle cx="595.5" cy="958.7" r="3.5" fill="#85b01f"/>
<circle cx="595.6" cy="960.2" r="3.5" fill="#8bb820"/>
<circle cx="595.8" cy="961.7" r="3.5" fill="#8fbe21"/>
<circle cx="595.9" cy="963.2" r="3.5" fill="#92c322"/>
<circle cx="596.0" cy="964.6" r="3.5" fill="#8ab820"/>
<circle cx="596.1" cy="966.1" r="3.5" fill="#86b11f"/>
<circle cx="596.2" cy="967.6" r="3.5" fill="#8ebb20"/>
<circle cx="596.3" cy="969.1" r="3.5" fill="#96c522"/>
<circle cx="596.5" cy="970.6" r="3.5" fill="#8bb61f"/>
<circle cx="596.8" cy="972.1" r="3.5" fill="#98c622"/>
<circle cx="597.0" cy="973.5" r="3.5" fill="#98c622"/>
<circle cx="597.2" cy="975.0" r="3.5" fill="#93be20"/>
<circle cx="597.4" cy="976.5" r="3.5" fill="#92bc20"/>
<circle cx="597.6" cy="978.0" r="3.5" fill="#8bb31e"/>
<circle cx="598.2" cy="979.3" r="3.5" fill="#8cb41e"/>
<circle cx="599.0" cy="980.5" r="3.5" fill="#8bb21e"/>
<circle cx="599.8" cy="981.8" r="3.5" fill="#98c220"/>
<circle cx="600.6" cy="983.1" r="3.5" fill="#9bc521"/>
<circle cx="601.3" cy="984.3" r="3.5" fill="#a2cd22"/>
<circle cx="602.1" cy="985.6" r="3.5" fill="#9bc320"/>
<circle cx="602.8" cy="986.9" r="3.5" fill="#a5ce22"/>
<circle cx="603.5" cy="988.2" r="3.5" fill="#99be20"/>
<circle cx="604.2" cy="989.5" r="3.5" fill="#94b81e"/>
<circle cx="604.9" cy="990.9" r="3.5" fill="#93b61e"/>
<circle cx="605.6" cy="992.2" r="3.5" fill="#99bd1f"/>
<circle cx="606.3" cy="993.5" r="3.5" fill="#a0c420"/>
<circle cx="607.0" cy="994.8" r="3.5" fill="#abd122"/>
<circle cx="607.4" cy="996.2" r="3.5" fill="#9cbf1f"/>
<circle cx="607.9" cy="997.7" r="3.5" fill="#9cbe1f"/>
<circle cx="608.3" cy="999.1" r="3.5" fill="#a8cc21"/>
<circle cx="608.7" cy="1000.5" r="3.5" fill="#a1c420"/>
<circle cx="609.2" cy="1001.9" r="3.5" fill="#a6ca20"/>
<circle cx="609.6" cy="1003.4" r="3.5" fill="#9ebf1e"/>
<circle cx="610.2" cy="1004.7" r="3.5" fill="#b0d422"/>
<circle cx="610.9" cy="1006.0" r="3.5" fill="#b3d622"/>
<circle cx="611.6" cy="1007.3" r="3.5" fill="#b0d221"/>
<circle cx="612.3" cy="1008.7" r="3.5" fill="#b5d822"/>
<circle cx="613.0" cy="1010.0" r="3.5" fill="#a8c81f"/>
<circle cx="613.7" cy="1011.3" r="3.5" fill="#a2c11e"/>
<circle cx="614.4" cy="1012.6" r="3.5" fill="#a9c81f"/>
<circle cx="615.1" cy="1013.9" r="3.5" fill="#b9db22"/>
<circle cx="615.8" cy="1015.2" r="3.5" fill="#afcf20"/>
<circle cx="616.7" cy="1016.4" r="3.5" fill="#aac71e"/>
<circle cx="617.6" cy="1017.6" r="3.5" fill="#a8c71d"/>
<circle cx="618.4" cy="1018.8" r="3.5" fill="#aac71d"/>
<circle cx="619.3" cy="1020.1" r="3.5" fill="#b1cf1d"/>
<circle cx="620.2" cy="1021.3" r="3.5" fill="#bedf1f"/>
<circle cx="621.0" cy="1022.5" r="3.5" fill="#bedd1e"/>
<circle cx="621.9" cy="1023.7" r="3.5" fill="#bada1d"/>
<circle cx="622.7" cy="1024.9" r="3.5" fill="#bbdb1c"/>
<circle cx="623.6" cy="1026.1" r="3.5" fill="#aeca19"/>
<circle cx="624.5" cy="1027.3" r="3.5" fill="#bddb1b"/>
<circle cx="625.3" cy="1028.5" r="3.5" fill="#b0cc18"/>
<circle cx="626.2" cy="1029.8" r="3.5" fill="#b9d518"/>
<polygon points="574.4,895.5 576.6,891.6 578.8,895.5" fill="#a80c0c"/>
<polygon points="659.4,902.0 661.6,898.1 663.8,902.0" fill="#a80c0c"/>
<polygon points="594.0,934.9 596.2,931.0 598.4,934.9" fill="#a80c0c"/>
<polygon points="638.7,942.0 640.9,938.1 643.1,942.0" fill="#a80c0c"/>
<polygon points="582.9,960.5 585.1,956.6 587.3,960.5" fill="#a80c0c"/>
<polygon points="587.5,978.2 589.7,974.4 591.9,978.2" fill="#a80c0c"/>
<polygon points="614.2,971.9 616.4,968.0 618.6,971.9" fill="#a80c0c"/>
<polygon points="636.5,982.4 638.7,978.5 640.9,982.4" fill="#a80c0c"/>
<polygon points="522.9,994.1 525.1,990.2 527.3,994.1" fill="#a80c0c"/>
<polygon points="598.7,1007.8 600.9,1003.9 603.1,1007.8" fill="#a80c0c"/>
<text x="575.8" y="888.4" class="lb">137.8</text>
<text x="659.4" y="895.5" class="lb">162.8</text>
<text x="595.0" y="927.5" class="lb">176</text>
<text x="639.4" y="935.0" class="lb">147.5</text>
<text x="584.1" y="953.9" class="lb">184.4</text>
<text x="615.0" y="964.0" class="lb">192</text>
<text x="588.1" y="971.0" class="lb">199.4</text>
<text x="636.6" y="975.5" class="lb">169.2</text>
<text x="523.0" y="987.0" class="lb">189</text>
<text x="598.7" y="1000.0" class="lb">182</text>
</g>
<text x="108.3" y="55.6" class="pl">(a)</text>
<text x="309.5" y="55.6" class="pl">(b)</text>
<text x="508.5" y="55.6" class="pl">(c)</text>
<text x="108.6" y="264.2" class="pl">(d)</text>
<text x="309.5" y="264.2" class="pl">(e)</text>
<text x="510.3" y="264.2" class="pl">(f)</text>
<text x="108.6" y="470.2" class="pl">(g)</text>
<text x="310.6" y="470.2" class="pl">(h)</text>
<text x="511.3" y="470.2" class="pl">(i)</text>
<text x="108.6" y="677.2" class="pl">(j)</text>
<text x="312.7" y="677.2" class="pl">(k)</text>
<text x="510.6" y="677.2" class="pl">(l)</text>
<text x="108.6" y="883.9" class="pl">(m)</text>
<text x="309.5" y="883.9" class="pl">(n)</text>
<text x="510.4" y="884.2" class="pl">(o)</text>
<defs><linearGradient id="cb" x1="0" y1="0" x2="0" y2="1"><stop offset="0" stop-color="#1a5e12"/><stop offset="0.08" stop-color="#226812"/><stop offset="0.15" stop-color="#387810"/><stop offset="0.24" stop-color="#5a9010"/><stop offset="0.33" stop-color="#88b00c"/><stop offset="0.40" stop-color="#b8d004"/><stop offset="0.47" stop-color="#f2f200"/><stop offset="0.54" stop-color="#f8e000"/><stop offset="0.61" stop-color="#f8c200"/><stop offset="0.70" stop-color="#f8a000"/><stop offset="0.79" stop-color="#f87800"/><stop offset="0.88" stop-color="#f84a04"/><stop offset="1" stop-color="#f82808"/></linearGradient></defs>
<rect x="12.2" y="76.0" width="13.8" height="131.0" rx="6.9" fill="url(#cb)"/>
<text x="35.6" y="89.6" class="lg">0</text>
<text x="33.8" y="205.3" class="lg">102.0</text>
<text x="6.5" y="54.4" class="tt">SO</text>
<text x="25.9" y="58.0" class="sb">2</text>
<text x="36.8" y="54.4" class="tt">(μg/m<tspan class="sp" dx="-1.2" dy="-6.5">3</tspan><tspan dx="2.0" dy="6.5">)</tspan></text>
<rect x="12.2" y="279.5" width="13.8" height="130.8" rx="6.9" fill="url(#cb)"/>
<text x="33.8" y="290.4" class="lg">29.1</text>
<text x="33.8" y="408.7" class="lg">484.2</text>
<text x="5.8" y="260.7" class="tt">NO</text>
<text x="28.1" y="265.0" class="sb">2</text>
<text x="38.7" y="260.7" class="tt">(μg/m<tspan class="sp" dx="-1.2" dy="-6.5">3</tspan><tspan dx="2.0" dy="6.5">)</tspan></text>
<rect x="12.2" y="484.8" width="13.8" height="130.9" rx="6.9" fill="url(#cb)"/>
<text x="33.8" y="499.9" class="lg">8</text>
<text x="33.8" y="613.1" class="lg">300</text>
<text x="5.8" y="468.7" class="tt">PM</text>
<text x="28.8" y="473.7" class="sb">1.0</text>
<text x="46.5" y="468.7" class="tt">(μg/m<tspan class="sp" dx="-1.2" dy="-6.5">3</tspan><tspan dx="2.0" dy="6.5">)</tspan></text>
<rect x="12.2" y="693.0" width="13.8" height="130.5" rx="6.9" fill="url(#cb)"/>
<text x="33.8" y="704.4" class="lg">18</text>
<text x="33.8" y="821.0" class="lg">661</text>
<text x="5.8" y="673.0" class="tt">PM</text>
<text x="28.8" y="678.0" class="sb">2.5</text>
<text x="46.5" y="673.0" class="tt">(μg/m<tspan class="sp" dx="-1.2" dy="-6.5">3</tspan><tspan dx="2.0" dy="6.5">)</tspan></text>
<rect x="12.2" y="900.5" width="13.8" height="130.8" rx="6.9" fill="url(#cb)"/>
<text x="33.8" y="913.9" class="lg">32</text>
<text x="33.8" y="1030.5" class="lg">974</text>
<text x="5.8" y="877.0" class="tt">PM</text>
<text x="29.5" y="882.7" class="sb">10</text>
<text x="43.0" y="877.0" class="tt">(μg/m<tspan class="sp" dx="-1.2" dy="-6.5">3</tspan><tspan dx="2.0" dy="6.5">)</tspan></text>
<text x="107.8" y="1090" class="na">N</text>
<polygon points="116.1,1094.6 99.6,1150 116.1,1130" fill="#000" stroke="#000" stroke-width="1"/>
<polygon points="116.1,1094.6 132.7,1149.4 116.1,1130" fill="#fff" stroke="#000" stroke-width="1.6" stroke-linejoin="miter"/>
<rect x="162.4" y="1117.9" width="16.0" height="8" fill="#000" stroke="#000" stroke-width="1"/>
<rect x="178.4" y="1117.9" width="16.0" height="8" fill="#fff" stroke="#000" stroke-width="1"/>
<rect x="194.4" y="1117.9" width="14.9" height="8" fill="#000" stroke="#000" stroke-width="1"/>
<rect x="209.3" y="1117.9" width="46.6" height="8" fill="#fff" stroke="#000" stroke-width="1"/>
<rect x="255.9" y="1117.9" width="47.5" height="8" fill="#000" stroke="#000" stroke-width="1"/>
<text x="162.4" y="1109.4" class="sc" text-anchor="middle">0</text>
<text x="185.9" y="1109.4" class="sc" text-anchor="middle">5</text>
<text x="209.9" y="1109.4" class="sc" text-anchor="middle">10</text>
<text x="256.6" y="1109.4" class="sc" text-anchor="middle">20</text>
<text x="303.4" y="1109.4" class="sc" text-anchor="middle">30</text>
<text x="308" y="1125.8" class="sc">km</text>
<polygon points="382.3,1077.1 389.6,1064.8 396.9,1077.1" fill="#b00a0a"/>
<text x="416.5" y="1078.2" class="le">Monitoring station and data</text>
<line x1="369" y1="1098.0" x2="411" y2="1098.0" stroke="#f25a14" stroke-width="3" stroke-linecap="round"/>
<text x="419" y="1104.2" class="le">First ring road</text>
<line x1="369" y1="1126.5" x2="411" y2="1126.5" stroke="#1c2c88" stroke-width="3" stroke-linecap="round"/>
<text x="419" y="1131.4" class="le">Second ring road</text>
<line x1="369" y1="1155.8" x2="411" y2="1155.8" stroke="#3a8a1a" stroke-width="3" stroke-linecap="round"/>
<text x="419" y="1161.0" class="le">Third ring road</text>
<line x1="369" y1="1183.8" x2="411" y2="1183.8" stroke="#7a1a6a" stroke-width="3" stroke-linecap="round"/>
<text x="419" y="1188.4" class="le">Fourth ring road</text>
<text x="160.2" y="19" class="dt">20181213</text>
<text x="358.9" y="19" class="dt">20190107</text>
<text x="554.0" y="19" class="dt">20190304</text>
</svg>
</body></html>
